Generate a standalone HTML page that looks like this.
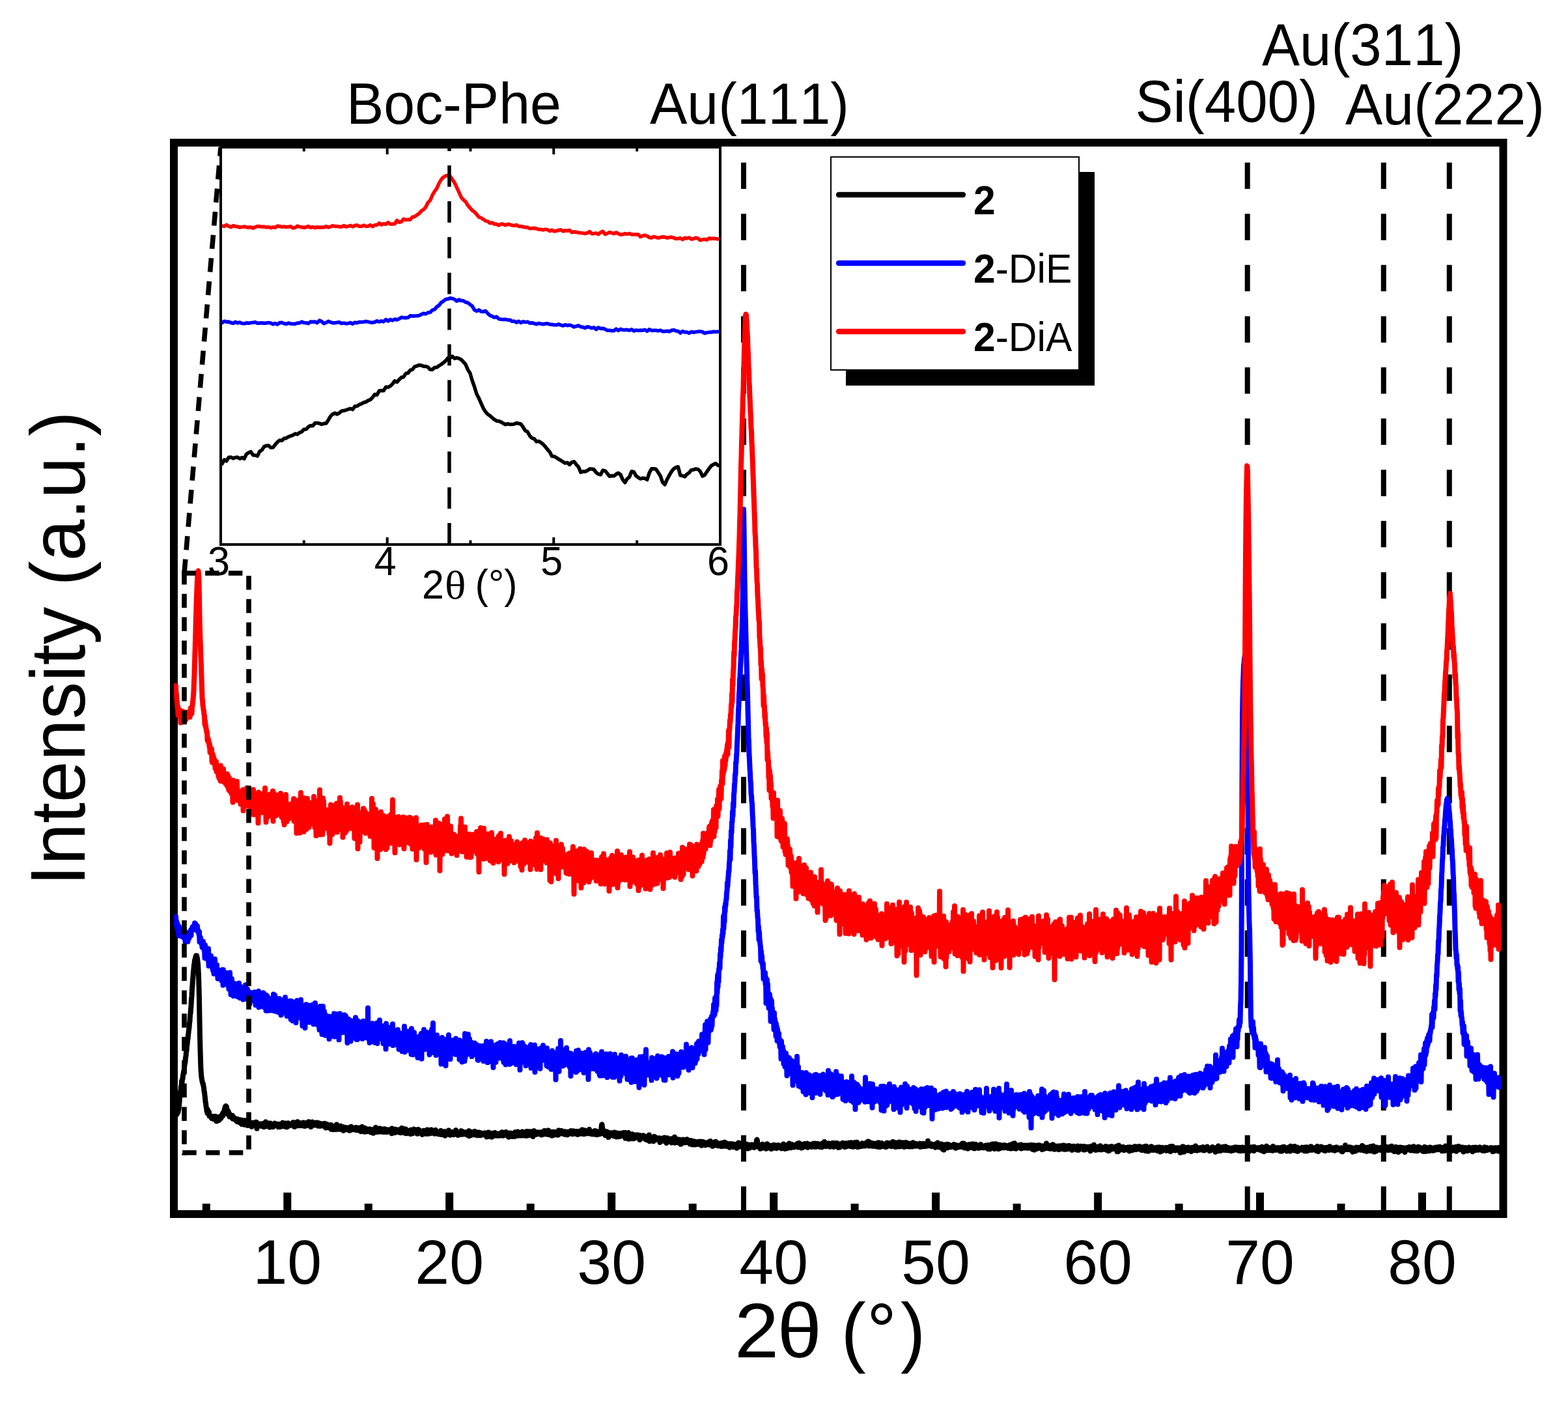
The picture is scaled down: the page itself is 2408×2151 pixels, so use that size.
<!DOCTYPE html>
<html><head><meta charset="utf-8"><style>
html,body{margin:0;padding:0;background:#fff;}
svg{display:block;}
</style></head><body>
<svg width="2408" height="2151" viewBox="0 0 2408 2151">
<rect width="2408" height="2151" fill="#fff"/>
<rect x="267" y="219" width="2041.5" height="1645" fill="none" stroke="#000" stroke-width="12"/>
<line x1="441.3" y1="1858" x2="441.3" y2="1831" stroke="#000" stroke-width="12"/>
<line x1="690.2" y1="1858" x2="690.2" y2="1831" stroke="#000" stroke-width="12"/>
<line x1="939.2" y1="1858" x2="939.2" y2="1831" stroke="#000" stroke-width="12"/>
<line x1="1188.2" y1="1858" x2="1188.2" y2="1831" stroke="#000" stroke-width="12"/>
<line x1="1437.1" y1="1858" x2="1437.1" y2="1831" stroke="#000" stroke-width="12"/>
<line x1="1686.1" y1="1858" x2="1686.1" y2="1831" stroke="#000" stroke-width="12"/>
<line x1="1935.0" y1="1858" x2="1935.0" y2="1831" stroke="#000" stroke-width="12"/>
<line x1="2184.0" y1="1858" x2="2184.0" y2="1831" stroke="#000" stroke-width="12"/>
<line x1="316.8" y1="1858" x2="316.8" y2="1848" stroke="#000" stroke-width="12"/>
<line x1="565.8" y1="1858" x2="565.8" y2="1848" stroke="#000" stroke-width="12"/>
<line x1="814.7" y1="1858" x2="814.7" y2="1848" stroke="#000" stroke-width="12"/>
<line x1="1063.7" y1="1858" x2="1063.7" y2="1848" stroke="#000" stroke-width="12"/>
<line x1="1312.6" y1="1858" x2="1312.6" y2="1848" stroke="#000" stroke-width="12"/>
<line x1="1561.6" y1="1858" x2="1561.6" y2="1848" stroke="#000" stroke-width="12"/>
<line x1="1810.6" y1="1858" x2="1810.6" y2="1848" stroke="#000" stroke-width="12"/>
<line x1="2059.5" y1="1858" x2="2059.5" y2="1848" stroke="#000" stroke-width="12"/>
<line x1="1142" y1="249.6" x2="1142" y2="1858" stroke="#000" stroke-width="8" stroke-dasharray="40.5 38.1"/>
<line x1="1915.7" y1="249.6" x2="1915.7" y2="1858" stroke="#000" stroke-width="8" stroke-dasharray="40.5 38.1"/>
<line x1="2124.8" y1="249.6" x2="2124.8" y2="1858" stroke="#000" stroke-width="8" stroke-dasharray="40.5 38.1"/>
<line x1="2225.8" y1="249.6" x2="2225.8" y2="1858" stroke="#000" stroke-width="8" stroke-dasharray="40.5 38.1"/>
<defs><clipPath id="pc"><rect x="267" y="219" width="2041.5" height="1645"/></clipPath></defs>
<g clip-path="url(#pc)"><polyline fill="none" stroke="#000" stroke-width="8" stroke-linejoin="round" stroke-linecap="round" points="269.5,1711.9 270.0,1711.2 270.5,1711.9 271.0,1709.3 271.5,1711.1 272.0,1707.8 272.5,1708.9 273.0,1705.5 273.5,1707.9 274.0,1704.1 274.5,1702.9 275.0,1697.1 275.5,1692.9 276.0,1685.7 276.5,1682.0 277.0,1675.7 277.5,1674.9 278.0,1668.1 278.5,1669.1 279.0,1660.3 279.5,1663.1 280.0,1656.6 280.5,1656.5 281.0,1651.0 281.5,1649.0 282.0,1645.4 282.5,1647.2 283.0,1638.3 283.5,1635.9 284.0,1631.9 284.5,1631.0 285.0,1623.5 285.5,1622.1 286.0,1614.8 286.5,1613.8 287.0,1606.3 287.5,1603.4 288.0,1597.4 288.5,1595.4 289.0,1589.7 289.5,1585.6 290.0,1580.7 290.5,1577.9 291.0,1571.0 291.5,1568.1 292.0,1558.6 292.5,1556.5 293.0,1549.4 293.5,1544.3 294.0,1534.0 294.5,1529.3 295.0,1519.1 295.5,1512.5 296.0,1504.6 296.5,1499.0 297.0,1492.5 297.5,1487.4 298.0,1481.8 298.5,1478.8 299.0,1474.7 299.5,1472.9 300.0,1470.5 300.5,1469.0 301.0,1467.3 301.5,1467.3 302.0,1467.2 302.5,1469.2 303.0,1471.3 303.5,1476.1 304.0,1479.6 304.5,1487.7 305.0,1498.1 305.5,1514.9 306.0,1534.0 306.5,1566.8 307.0,1591.5 307.5,1611.8 308.0,1628.3 308.5,1642.3 309.0,1648.3 309.5,1654.7 310.0,1657.0 310.5,1660.4 311.0,1661.8 311.5,1664.1 312.0,1664.1 312.5,1667.8 313.0,1669.7 313.5,1675.6 314.0,1676.7 314.5,1682.3 315.0,1685.7 315.5,1692.0 316.0,1693.8 316.5,1699.2 317.0,1700.9 317.5,1705.8 318.0,1704.3 318.5,1709.2 319.0,1703.7 319.5,1709.0 320.0,1707.9 320.5,1710.7 321.0,1707.2 321.5,1713.5 322.0,1711.6 322.5,1713.7 323.0,1712.9 323.5,1714.6 324.0,1714.3 324.5,1716.2 325.0,1714.3 325.5,1717.3 326.0,1715.5 326.5,1716.0 327.0,1714.2 327.5,1716.8 328.0,1715.0 328.5,1718.5 329.0,1716.5 329.5,1717.2 330.0,1716.1 330.5,1717.6 331.0,1713.9 331.5,1719.6 332.0,1717.0 332.5,1721.6 333.0,1716.3 333.5,1721.1 334.0,1716.6 334.5,1719.5 335.0,1716.6 335.5,1718.2 336.0,1715.1 336.5,1719.9 337.0,1714.8 337.5,1717.2 338.0,1716.1 338.5,1716.4 339.0,1713.9 339.5,1717.0 340.0,1713.4 340.5,1713.8 341.0,1711.6 341.5,1713.5 342.0,1709.3 342.5,1713.1 343.0,1709.4 343.5,1709.7 344.0,1706.0 344.5,1705.2 345.0,1701.4 345.5,1701.3 346.0,1699.1 346.5,1699.2 347.0,1698.2 347.5,1702.1 348.0,1699.5 348.5,1705.5 349.0,1703.1 349.5,1707.9 350.0,1706.9 350.5,1711.2 351.0,1706.8 351.5,1710.4 352.0,1709.5 352.5,1714.4 353.0,1710.4 353.5,1712.3 354.0,1712.5 354.5,1714.5 355.0,1712.7 355.5,1714.9 356.0,1714.0 356.5,1716.6 357.0,1712.8 357.5,1717.7 358.0,1714.7 358.5,1716.5 359.0,1716.2 359.5,1717.4 360.0,1716.0 360.5,1718.4 361.0,1717.0 361.5,1718.2 362.0,1718.2 362.5,1720.6 363.0,1717.6 363.5,1719.8 364.0,1718.4 364.5,1722.2 365.0,1718.3 365.5,1722.0 366.0,1720.3 366.5,1721.8 367.0,1719.6 367.5,1722.8 368.0,1719.9 368.5,1722.6 369.0,1719.2 369.5,1724.4 370.0,1720.8 370.5,1723.4 371.0,1721.0 371.5,1726.2 372.0,1720.3 372.5,1725.1 373.0,1720.2 373.5,1724.8 374.0,1721.7 374.5,1723.7 375.0,1722.3 375.5,1726.9 376.0,1720.3 376.5,1724.7 377.0,1724.2 377.5,1724.9 378.0,1724.5 378.5,1726.3 379.0,1722.1 379.5,1725.2 380.0,1723.3 380.5,1728.1 381.0,1724.4 381.5,1725.5 382.0,1724.8 382.5,1727.4 383.0,1724.5 383.5,1727.6 384.0,1724.3 384.5,1726.3 385.0,1724.6 385.5,1726.8 386.0,1725.6 386.5,1729.9 387.0,1723.8 387.5,1728.0 388.0,1726.3 388.5,1726.5 389.0,1723.9 389.5,1727.4 390.0,1725.3 390.5,1726.8 391.0,1726.5 391.5,1727.2 392.0,1724.6 392.5,1726.8 393.0,1722.8 393.5,1728.0 394.0,1723.3 394.5,1732.7 395.0,1725.9 395.5,1729.3 396.0,1726.8 396.5,1729.0 397.0,1725.2 397.5,1729.0 398.0,1726.7 398.5,1727.1 399.0,1726.9 399.5,1727.1 400.0,1725.6 400.5,1728.0 401.0,1726.7 401.5,1729.0 402.0,1726.2 402.5,1728.3 403.0,1725.2 403.5,1729.4 404.0,1726.9 404.5,1727.2 405.0,1724.8 405.5,1730.3 406.0,1724.6 406.5,1728.1 407.0,1725.9 407.5,1727.9 408.0,1722.6 408.5,1727.7 409.0,1727.2 409.5,1727.5 410.0,1725.4 410.5,1727.8 411.0,1727.0 411.5,1729.5 412.0,1726.8 412.5,1727.4 413.0,1724.6 413.5,1728.4 414.0,1726.7 414.5,1730.7 415.0,1724.6 415.5,1729.1 416.0,1725.8 416.5,1728.6 417.0,1727.2 417.5,1727.8 418.0,1727.0 418.5,1727.8 419.0,1727.4 419.5,1730.2 420.0,1726.5 420.5,1727.6 421.0,1726.4 421.5,1728.6 422.0,1724.6 422.5,1728.4 423.0,1727.4 423.5,1728.1 424.0,1725.5 424.5,1727.6 425.0,1725.9 425.5,1728.2 426.0,1727.1 426.5,1727.9 427.0,1727.3 427.5,1730.4 428.0,1727.1 428.5,1729.0 429.0,1725.9 429.5,1728.9 430.0,1726.4 430.5,1730.2 431.0,1726.9 431.5,1728.5 432.0,1727.1 432.5,1727.4 433.0,1725.6 433.5,1728.2 434.0,1723.8 434.5,1727.8 435.0,1727.0 435.5,1729.2 436.0,1726.7 436.5,1729.5 437.0,1725.3 437.5,1729.6 438.0,1725.6 438.5,1729.2 439.0,1724.5 439.5,1727.6 440.0,1726.2 440.5,1730.6 441.0,1726.8 441.5,1728.2 442.0,1724.6 442.5,1727.1 443.0,1724.4 443.5,1728.7 444.0,1725.3 444.5,1728.5 445.0,1726.0 445.5,1727.4 446.0,1726.5 446.5,1727.2 447.0,1726.3 447.5,1727.3 448.0,1726.7 448.5,1727.1 449.0,1726.6 449.5,1727.6 450.0,1723.3 450.5,1727.7 451.0,1726.5 451.5,1729.6 452.0,1725.9 452.5,1730.1 453.0,1724.0 453.5,1728.1 454.0,1725.2 454.5,1726.7 455.0,1723.4 455.5,1727.1 456.0,1725.2 456.5,1727.5 457.0,1722.3 457.5,1726.8 458.0,1724.9 458.5,1728.4 459.0,1726.2 459.5,1726.6 460.0,1724.2 460.5,1726.5 461.0,1724.2 461.5,1728.2 462.0,1724.3 462.5,1728.1 463.0,1725.3 463.5,1727.1 464.0,1725.9 464.5,1726.8 465.0,1725.5 465.5,1728.4 466.0,1723.4 466.5,1727.5 467.0,1725.7 467.5,1726.4 468.0,1724.2 468.5,1729.1 469.0,1724.5 469.5,1726.2 470.0,1725.2 470.5,1726.6 471.0,1724.0 471.5,1726.2 472.0,1723.6 472.5,1727.5 473.0,1724.3 473.5,1726.6 474.0,1722.3 474.5,1728.2 475.0,1724.7 475.5,1728.1 476.0,1725.0 476.5,1726.2 477.0,1723.7 477.5,1730.2 478.0,1725.3 478.5,1728.5 479.0,1724.5 479.5,1725.9 480.0,1722.6 480.5,1726.3 481.0,1723.8 481.5,1727.9 482.0,1723.7 482.5,1726.2 483.0,1723.7 483.5,1726.5 484.0,1724.8 484.5,1725.7 485.0,1724.7 485.5,1727.1 486.0,1725.1 486.5,1727.6 487.0,1723.4 487.5,1725.9 488.0,1724.3 488.5,1728.7 489.0,1726.0 489.5,1727.2 490.0,1724.3 490.5,1727.7 491.0,1725.3 491.5,1729.0 492.0,1725.0 492.5,1727.2 493.0,1726.2 493.5,1728.1 494.0,1725.8 494.5,1727.2 495.0,1726.0 495.5,1727.2 496.0,1725.3 496.5,1727.6 497.0,1727.4 497.5,1729.3 498.0,1726.1 498.5,1727.9 499.0,1724.9 499.5,1729.3 500.0,1726.3 500.5,1731.6 501.0,1728.4 501.5,1730.6 502.0,1726.0 502.5,1730.8 503.0,1727.6 503.5,1731.1 504.0,1728.6 504.5,1730.8 505.0,1728.2 505.5,1730.7 506.0,1728.4 506.5,1730.6 507.0,1728.2 507.5,1732.3 508.0,1726.9 508.5,1733.7 509.0,1729.8 509.5,1731.0 510.0,1730.6 510.5,1731.0 511.0,1730.7 511.5,1734.3 512.0,1729.1 512.5,1733.9 513.0,1729.3 513.5,1733.6 514.0,1730.0 514.5,1732.9 515.0,1729.7 515.5,1734.0 516.0,1730.9 516.5,1734.1 517.0,1726.6 517.5,1732.7 518.0,1729.8 518.5,1733.7 519.0,1729.9 519.5,1732.4 520.0,1729.2 520.5,1733.8 521.0,1729.6 521.5,1733.6 522.0,1731.4 522.5,1733.7 523.0,1728.8 523.5,1733.0 524.0,1732.3 524.5,1732.5 525.0,1732.2 525.5,1734.5 526.0,1732.4 526.5,1732.6 527.0,1730.2 527.5,1736.0 528.0,1732.4 528.5,1734.0 529.0,1732.6 529.5,1733.8 530.0,1731.4 530.5,1732.9 531.0,1731.0 531.5,1734.0 532.0,1732.7 532.5,1733.4 533.0,1732.7 533.5,1734.3 534.0,1731.4 534.5,1733.5 535.0,1732.1 535.5,1733.6 536.0,1733.2 536.5,1735.7 537.0,1733.1 537.5,1735.7 538.0,1732.2 538.5,1733.9 539.0,1729.7 539.5,1733.6 540.0,1733.2 540.5,1733.8 541.0,1732.8 541.5,1734.2 542.0,1731.8 542.5,1734.1 543.0,1732.7 543.5,1733.9 544.0,1731.6 544.5,1734.2 545.0,1733.5 545.5,1734.1 546.0,1733.1 546.5,1734.9 547.0,1730.9 547.5,1734.8 548.0,1733.6 548.5,1734.6 549.0,1733.4 549.5,1735.3 550.0,1733.7 550.5,1735.4 551.0,1733.5 551.5,1734.7 552.0,1731.6 552.5,1735.3 553.0,1732.3 553.5,1736.3 554.0,1734.1 554.5,1737.3 555.0,1732.9 555.5,1734.9 556.0,1730.1 556.5,1735.3 557.0,1732.0 557.5,1737.1 558.0,1733.6 558.5,1737.1 559.0,1734.2 559.5,1735.4 560.0,1731.8 560.5,1737.8 561.0,1734.8 561.5,1735.5 562.0,1732.8 562.5,1736.4 563.0,1734.4 563.5,1735.9 564.0,1735.0 564.5,1737.1 565.0,1733.9 565.5,1735.4 566.0,1734.0 566.5,1736.4 567.0,1733.5 567.5,1736.2 568.0,1734.9 568.5,1736.2 569.0,1733.7 569.5,1738.5 570.0,1734.6 570.5,1735.7 571.0,1735.1 571.5,1738.7 572.0,1735.1 572.5,1736.8 573.0,1734.2 573.5,1739.8 574.0,1735.2 574.5,1737.4 575.0,1735.2 575.5,1737.0 576.0,1735.9 576.5,1737.3 577.0,1731.0 577.5,1736.2 578.0,1735.0 578.5,1737.2 579.0,1732.9 579.5,1738.0 580.0,1735.4 580.5,1736.6 581.0,1734.6 581.5,1737.0 582.0,1736.0 582.5,1737.7 583.0,1732.5 583.5,1736.3 584.0,1736.0 584.5,1736.4 585.0,1733.7 585.5,1736.1 586.0,1733.4 586.5,1737.8 587.0,1735.8 587.5,1736.5 588.0,1734.7 588.5,1738.0 589.0,1733.4 589.5,1737.8 590.0,1735.5 590.5,1737.3 591.0,1733.4 591.5,1738.0 592.0,1735.3 592.5,1737.1 593.0,1735.3 593.5,1738.0 594.0,1735.7 594.5,1738.2 595.0,1734.5 595.5,1737.7 596.0,1735.8 596.5,1737.5 597.0,1735.0 597.5,1736.7 598.0,1734.5 598.5,1736.3 599.0,1735.6 599.5,1737.9 600.0,1735.1 600.5,1737.0 601.0,1734.1 601.5,1740.3 602.0,1732.6 602.5,1736.4 603.0,1735.9 603.5,1739.0 604.0,1736.0 604.5,1738.0 605.0,1736.1 605.5,1737.1 606.0,1734.8 606.5,1739.2 607.0,1733.7 607.5,1737.5 608.0,1734.9 608.5,1736.6 609.0,1735.9 609.5,1737.4 610.0,1735.7 610.5,1737.2 611.0,1734.7 611.5,1737.0 612.0,1734.5 612.5,1738.4 613.0,1736.3 613.5,1737.7 614.0,1735.7 614.5,1736.8 615.0,1735.1 615.5,1739.3 616.0,1734.5 616.5,1737.1 617.0,1731.9 617.5,1738.2 618.0,1736.3 618.5,1737.7 619.0,1732.8 619.5,1736.9 620.0,1735.8 620.5,1738.7 621.0,1735.6 621.5,1737.8 622.0,1735.7 622.5,1740.0 623.0,1733.5 623.5,1737.6 624.0,1735.4 624.5,1740.3 625.0,1735.5 625.5,1737.0 626.0,1735.9 626.5,1738.0 627.0,1736.1 627.5,1739.8 628.0,1736.1 628.5,1738.2 629.0,1736.3 629.5,1738.0 630.0,1736.3 630.5,1741.1 631.0,1734.8 631.5,1737.4 632.0,1735.0 632.5,1740.6 633.0,1737.0 633.5,1740.3 634.0,1735.5 634.5,1739.3 635.0,1736.2 635.5,1737.3 636.0,1733.6 636.5,1737.8 637.0,1734.5 637.5,1737.8 638.0,1737.1 638.5,1737.9 639.0,1737.2 639.5,1738.3 640.0,1736.3 640.5,1740.4 641.0,1737.4 641.5,1740.8 642.0,1733.9 642.5,1739.9 643.0,1736.3 643.5,1738.8 644.0,1735.0 644.5,1737.7 645.0,1737.5 645.5,1738.2 646.0,1737.5 646.5,1738.5 647.0,1737.6 647.5,1739.7 648.0,1737.1 648.5,1741.9 649.0,1737.7 649.5,1738.2 650.0,1736.9 650.5,1739.1 651.0,1735.9 651.5,1738.3 652.0,1736.3 652.5,1738.4 653.0,1737.7 653.5,1740.8 654.0,1736.8 654.5,1738.2 655.0,1737.1 655.5,1740.7 656.0,1734.6 656.5,1739.3 657.0,1737.2 657.5,1739.3 658.0,1737.1 658.5,1740.7 659.0,1735.4 659.5,1739.6 660.0,1737.7 660.5,1739.5 661.0,1737.3 661.5,1740.0 662.0,1734.6 662.5,1739.0 663.0,1735.7 663.5,1739.6 664.0,1737.7 664.5,1739.0 665.0,1735.6 665.5,1738.8 666.0,1735.7 666.5,1739.9 667.0,1736.9 667.5,1740.7 668.0,1737.8 668.5,1739.8 669.0,1735.1 669.5,1739.9 670.0,1738.5 670.5,1739.3 671.0,1738.5 671.5,1739.9 672.0,1738.7 672.5,1741.0 673.0,1738.0 673.5,1739.5 674.0,1738.1 674.5,1741.5 675.0,1738.6 675.5,1739.3 676.0,1738.5 676.5,1741.4 677.0,1736.0 677.5,1739.1 678.0,1736.8 678.5,1742.1 679.0,1738.5 679.5,1739.2 680.0,1737.8 680.5,1739.2 681.0,1737.9 681.5,1740.1 682.0,1737.8 682.5,1739.2 683.0,1737.4 683.5,1743.8 684.0,1737.4 684.5,1740.1 685.0,1737.7 685.5,1740.7 686.0,1737.2 686.5,1740.2 687.0,1739.3 687.5,1741.1 688.0,1737.6 688.5,1740.2 689.0,1735.6 689.5,1742.0 690.0,1738.7 690.5,1739.7 691.0,1739.1 691.5,1742.7 692.0,1738.7 692.5,1740.9 693.0,1738.5 693.5,1739.7 694.0,1738.0 694.5,1740.7 695.0,1738.6 695.5,1741.7 696.0,1738.2 696.5,1742.3 697.0,1739.3 697.5,1741.8 698.0,1738.8 698.5,1741.4 699.0,1738.7 699.5,1740.0 700.0,1735.3 700.5,1741.2 701.0,1738.9 701.5,1740.0 702.0,1739.2 702.5,1742.0 703.0,1739.0 703.5,1743.0 704.0,1739.4 704.5,1740.0 705.0,1739.7 705.5,1742.3 706.0,1739.4 706.5,1741.5 707.0,1738.0 707.5,1741.6 708.0,1736.3 708.5,1741.5 709.0,1739.6 709.5,1740.4 710.0,1736.9 710.5,1741.8 711.0,1740.0 711.5,1741.0 712.0,1738.9 712.5,1741.0 713.0,1739.7 713.5,1740.8 714.0,1740.1 714.5,1740.5 715.0,1738.3 715.5,1740.4 716.0,1738.8 716.5,1742.1 717.0,1739.9 717.5,1741.6 718.0,1738.5 718.5,1740.8 719.0,1738.6 719.5,1742.5 720.0,1736.3 720.5,1744.2 721.0,1740.1 721.5,1741.9 722.0,1740.4 722.5,1740.8 723.0,1737.8 723.5,1743.0 724.0,1738.7 724.5,1740.8 725.0,1738.1 725.5,1741.0 726.0,1739.5 726.5,1741.2 727.0,1739.4 727.5,1740.8 728.0,1739.9 728.5,1741.8 729.0,1737.0 729.5,1742.5 730.0,1739.6 730.5,1741.2 731.0,1740.8 731.5,1742.8 732.0,1740.1 732.5,1742.2 733.0,1740.6 733.5,1743.1 734.0,1738.5 734.5,1743.2 735.0,1739.9 735.5,1743.0 736.0,1738.8 736.5,1741.3 737.0,1738.8 737.5,1741.8 738.0,1739.5 738.5,1743.3 739.0,1740.4 739.5,1741.9 740.0,1739.9 740.5,1742.4 741.0,1740.6 741.5,1741.3 742.0,1740.3 742.5,1742.2 743.0,1741.2 743.5,1741.4 744.0,1740.3 744.5,1742.1 745.0,1739.4 745.5,1741.8 746.0,1739.8 746.5,1743.6 747.0,1740.4 747.5,1745.5 748.0,1740.0 748.5,1742.9 749.0,1740.9 749.5,1744.9 750.0,1738.5 750.5,1745.1 751.0,1739.8 751.5,1742.8 752.0,1740.2 752.5,1742.9 753.0,1741.5 753.5,1742.4 754.0,1740.5 754.5,1741.8 755.0,1739.8 755.5,1745.7 756.0,1740.5 756.5,1743.6 757.0,1740.0 757.5,1742.1 758.0,1740.1 758.5,1742.4 759.0,1740.1 759.5,1743.4 760.0,1739.0 760.5,1741.8 761.0,1740.9 761.5,1743.6 762.0,1741.6 762.5,1743.7 763.0,1741.8 763.5,1742.0 764.0,1740.8 764.5,1743.8 765.0,1741.3 765.5,1742.3 766.0,1741.6 766.5,1742.0 767.0,1740.3 767.5,1743.8 768.0,1741.2 768.5,1742.8 769.0,1740.4 769.5,1742.6 770.0,1741.2 770.5,1742.7 771.0,1738.3 771.5,1742.6 772.0,1738.8 772.5,1743.7 773.0,1740.8 773.5,1742.7 774.0,1741.2 774.5,1742.1 775.0,1741.9 775.5,1742.5 776.0,1738.7 776.5,1742.4 777.0,1738.0 777.5,1742.7 778.0,1740.7 778.5,1743.3 779.0,1741.6 779.5,1742.5 780.0,1739.4 780.5,1745.1 781.0,1740.1 781.5,1745.7 782.0,1740.3 782.5,1744.9 783.0,1740.1 783.5,1743.2 784.0,1739.5 784.5,1742.5 785.0,1741.4 785.5,1742.1 786.0,1740.9 786.5,1745.1 787.0,1741.6 787.5,1742.2 788.0,1740.2 788.5,1743.0 789.0,1741.5 789.5,1743.4 790.0,1741.8 790.5,1745.0 791.0,1738.3 791.5,1742.4 792.0,1740.3 792.5,1742.5 793.0,1740.4 793.5,1742.3 794.0,1739.3 794.5,1742.0 795.0,1737.4 795.5,1743.8 796.0,1739.7 796.5,1743.3 797.0,1741.0 797.5,1743.5 798.0,1740.2 798.5,1742.9 799.0,1740.0 799.5,1743.2 800.0,1740.9 800.5,1743.6 801.0,1738.8 801.5,1742.8 802.0,1737.5 802.5,1742.9 803.0,1740.4 803.5,1742.3 804.0,1738.1 804.5,1743.5 805.0,1739.3 805.5,1742.9 806.0,1739.3 806.5,1742.7 807.0,1739.6 807.5,1741.5 808.0,1738.4 808.5,1743.9 809.0,1736.9 809.5,1743.2 810.0,1740.7 810.5,1741.6 811.0,1740.8 811.5,1741.6 812.0,1740.7 812.5,1743.1 813.0,1737.2 813.5,1741.0 814.0,1739.7 814.5,1741.2 815.0,1740.6 815.5,1742.6 816.0,1739.8 816.5,1742.3 817.0,1740.2 817.5,1742.1 818.0,1737.1 818.5,1744.9 819.0,1738.1 819.5,1741.3 820.0,1736.2 820.5,1742.1 821.0,1740.3 821.5,1741.0 822.0,1739.6 822.5,1741.0 823.0,1739.6 823.5,1741.9 824.0,1739.8 824.5,1741.3 825.0,1738.3 825.5,1740.5 826.0,1738.8 826.5,1740.7 827.0,1738.5 827.5,1741.0 828.0,1739.4 828.5,1741.0 829.0,1740.2 829.5,1740.5 830.0,1739.7 830.5,1741.6 831.0,1738.3 831.5,1742.6 832.0,1740.1 832.5,1741.5 833.0,1739.2 833.5,1741.3 834.0,1739.8 834.5,1741.3 835.0,1738.0 835.5,1741.4 836.0,1735.9 836.5,1741.3 837.0,1736.3 837.5,1740.0 838.0,1738.0 838.5,1741.1 839.0,1737.5 839.5,1741.2 840.0,1736.6 840.5,1740.4 841.0,1739.8 841.5,1741.7 842.0,1735.4 842.5,1742.1 843.0,1739.5 843.5,1740.4 844.0,1738.6 844.5,1740.8 845.0,1737.8 845.5,1739.8 846.0,1738.0 846.5,1739.8 847.0,1739.5 847.5,1743.8 848.0,1738.1 848.5,1739.8 849.0,1739.3 849.5,1740.4 850.0,1737.7 850.5,1740.4 851.0,1738.1 851.5,1742.5 852.0,1737.9 852.5,1740.5 853.0,1739.4 853.5,1741.3 854.0,1738.8 854.5,1739.5 855.0,1738.6 855.5,1740.5 856.0,1739.0 856.5,1742.7 857.0,1737.4 857.5,1742.4 858.0,1735.5 858.5,1740.0 859.0,1739.0 859.5,1740.1 860.0,1738.0 860.5,1739.5 861.0,1739.4 861.5,1739.5 862.0,1736.0 862.5,1739.6 863.0,1737.8 863.5,1740.4 864.0,1739.0 864.5,1740.5 865.0,1737.7 865.5,1740.2 866.0,1737.7 866.5,1741.4 867.0,1737.3 867.5,1741.8 868.0,1739.1 868.5,1739.6 869.0,1737.8 869.5,1741.8 870.0,1738.9 870.5,1740.2 871.0,1738.6 871.5,1742.4 872.0,1737.7 872.5,1739.3 873.0,1737.7 873.5,1741.0 874.0,1739.1 874.5,1739.6 875.0,1737.7 875.5,1740.0 876.0,1738.8 876.5,1740.3 877.0,1736.1 877.5,1739.3 878.0,1736.5 878.5,1740.7 879.0,1736.6 879.5,1741.3 880.0,1736.8 880.5,1739.6 881.0,1736.4 881.5,1740.3 882.0,1736.9 882.5,1739.8 883.0,1737.9 883.5,1739.8 884.0,1738.6 884.5,1740.3 885.0,1737.0 885.5,1741.3 886.0,1737.0 886.5,1741.6 887.0,1737.9 887.5,1741.9 888.0,1738.9 888.5,1739.7 889.0,1738.4 889.5,1740.7 890.0,1738.4 890.5,1740.8 891.0,1736.5 891.5,1740.3 892.0,1738.7 892.5,1740.7 893.0,1737.2 893.5,1739.7 894.0,1734.6 894.5,1740.3 895.0,1738.2 895.5,1740.8 896.0,1738.7 896.5,1741.2 897.0,1738.2 897.5,1741.1 898.0,1735.4 898.5,1739.9 899.0,1736.8 899.5,1739.5 900.0,1738.3 900.5,1740.3 901.0,1737.6 901.5,1739.9 902.0,1737.4 902.5,1739.3 903.0,1737.6 903.5,1740.2 904.0,1738.4 904.5,1739.2 905.0,1733.9 905.5,1740.3 906.0,1736.5 906.5,1739.1 907.0,1738.8 907.5,1740.3 908.0,1737.4 908.5,1741.3 909.0,1738.4 909.5,1740.1 910.0,1738.0 910.5,1739.9 911.0,1738.0 911.5,1741.5 912.0,1738.2 912.5,1740.9 913.0,1736.3 913.5,1739.3 914.0,1736.3 914.5,1741.2 915.0,1736.5 915.5,1741.9 916.0,1737.6 916.5,1741.3 917.0,1738.1 917.5,1742.2 918.0,1737.4 918.5,1739.4 919.0,1738.9 919.5,1739.4 920.0,1739.0 920.5,1740.1 921.0,1739.2 921.5,1741.2 922.0,1737.7 922.5,1739.5 923.0,1736.3 923.5,1731.6 924.0,1726.8 924.5,1726.5 925.0,1730.7 925.5,1737.3 926.0,1738.8 926.5,1740.2 927.0,1739.1 927.5,1740.2 928.0,1736.1 928.5,1741.4 929.0,1739.9 929.5,1743.1 930.0,1740.0 930.5,1741.0 931.0,1738.1 931.5,1743.3 932.0,1737.6 932.5,1741.0 933.0,1740.6 933.5,1744.0 934.0,1739.5 934.5,1746.1 935.0,1740.0 935.5,1743.6 936.0,1740.4 936.5,1743.2 937.0,1739.1 937.5,1743.7 938.0,1741.2 938.5,1742.1 939.0,1740.0 939.5,1742.4 940.0,1741.0 940.5,1743.1 941.0,1739.4 941.5,1741.9 942.0,1740.5 942.5,1744.2 943.0,1739.6 943.5,1742.8 944.0,1738.6 944.5,1744.4 945.0,1739.0 945.5,1742.3 946.0,1741.3 946.5,1745.6 947.0,1739.4 947.5,1743.3 948.0,1740.5 948.5,1742.5 949.0,1741.6 949.5,1745.2 950.0,1741.6 950.5,1744.3 951.0,1739.9 951.5,1742.9 952.0,1741.8 952.5,1744.8 953.0,1740.6 953.5,1743.4 954.0,1741.4 954.5,1743.6 955.0,1741.4 955.5,1743.6 956.0,1739.4 956.5,1743.2 957.0,1742.0 957.5,1743.8 958.0,1739.0 958.5,1743.4 959.0,1741.6 959.5,1745.9 960.0,1739.1 960.5,1747.8 961.0,1741.2 961.5,1745.0 962.0,1741.1 962.5,1745.1 963.0,1743.1 963.5,1745.6 964.0,1742.4 964.5,1744.9 965.0,1739.1 965.5,1748.8 966.0,1742.5 966.5,1747.1 967.0,1742.3 967.5,1746.6 968.0,1741.2 968.5,1746.9 969.0,1744.1 969.5,1746.4 970.0,1743.9 970.5,1748.3 971.0,1741.3 971.5,1744.6 972.0,1742.7 972.5,1744.9 973.0,1744.4 973.5,1748.2 974.0,1742.4 974.5,1744.9 975.0,1742.7 975.5,1746.3 976.0,1744.4 976.5,1746.7 977.0,1742.9 977.5,1745.7 978.0,1742.9 978.5,1745.5 979.0,1742.4 979.5,1746.8 980.0,1745.1 980.5,1747.2 981.0,1743.5 981.5,1747.9 982.0,1743.1 982.5,1750.0 983.0,1745.0 983.5,1747.2 984.0,1744.7 984.5,1746.6 985.0,1744.7 985.5,1746.7 986.0,1745.7 986.5,1747.4 987.0,1745.3 987.5,1747.1 988.0,1743.4 988.5,1747.3 989.0,1744.0 989.5,1746.9 990.0,1745.0 990.5,1746.9 991.0,1746.0 991.5,1749.4 992.0,1745.5 992.5,1748.7 993.0,1745.7 993.5,1750.2 994.0,1745.6 994.5,1747.8 995.0,1744.6 995.5,1750.1 996.0,1744.7 996.5,1748.6 997.0,1742.5 997.5,1752.3 998.0,1744.8 998.5,1749.5 999.0,1747.4 999.5,1748.1 1000.0,1747.6 1000.5,1750.5 1001.0,1746.7 1001.5,1748.8 1002.0,1747.6 1002.5,1750.2 1003.0,1748.0 1003.5,1752.4 1004.0,1746.9 1004.5,1748.7 1005.0,1744.9 1005.5,1750.6 1006.0,1746.0 1006.5,1750.2 1007.0,1747.6 1007.5,1748.7 1008.0,1746.7 1008.5,1749.3 1009.0,1747.8 1009.5,1749.7 1010.0,1747.5 1010.5,1750.0 1011.0,1747.9 1011.5,1750.6 1012.0,1748.5 1012.5,1749.2 1013.0,1747.3 1013.5,1753.9 1014.0,1747.7 1014.5,1749.3 1015.0,1749.0 1015.5,1750.9 1016.0,1747.8 1016.5,1751.3 1017.0,1748.8 1017.5,1750.3 1018.0,1748.2 1018.5,1750.3 1019.0,1749.3 1019.5,1751.9 1020.0,1746.8 1020.5,1750.7 1021.0,1746.6 1021.5,1751.3 1022.0,1747.3 1022.5,1750.4 1023.0,1748.8 1023.5,1755.0 1024.0,1747.9 1024.5,1752.3 1025.0,1747.2 1025.5,1751.0 1026.0,1748.9 1026.5,1752.7 1027.0,1749.2 1027.5,1751.2 1028.0,1748.9 1028.5,1751.8 1029.0,1749.4 1029.5,1750.9 1030.0,1750.4 1030.5,1751.6 1031.0,1748.2 1031.5,1754.5 1032.0,1748.7 1032.5,1752.2 1033.0,1750.3 1033.5,1751.1 1034.0,1750.0 1034.5,1751.8 1035.0,1748.0 1035.5,1752.5 1036.0,1745.8 1036.5,1754.7 1037.0,1749.5 1037.5,1752.0 1038.0,1751.2 1038.5,1754.0 1039.0,1749.3 1039.5,1751.8 1040.0,1748.9 1040.5,1752.0 1041.0,1750.9 1041.5,1751.9 1042.0,1750.9 1042.5,1754.6 1043.0,1750.1 1043.5,1753.5 1044.0,1749.6 1044.5,1753.2 1045.0,1751.8 1045.5,1756.8 1046.0,1752.1 1046.5,1754.1 1047.0,1751.4 1047.5,1755.1 1048.0,1750.2 1048.5,1754.3 1049.0,1749.7 1049.5,1752.6 1050.0,1749.6 1050.5,1753.1 1051.0,1750.9 1051.5,1752.7 1052.0,1750.3 1052.5,1754.4 1053.0,1752.7 1053.5,1752.8 1054.0,1752.6 1054.5,1753.9 1055.0,1749.3 1055.5,1752.9 1056.0,1750.9 1056.5,1753.9 1057.0,1751.7 1057.5,1754.3 1058.0,1752.9 1058.5,1754.4 1059.0,1753.2 1059.5,1756.4 1060.0,1750.9 1060.5,1754.8 1061.0,1752.5 1061.5,1754.1 1062.0,1751.2 1062.5,1754.7 1063.0,1753.5 1063.5,1757.5 1064.0,1752.4 1064.5,1754.3 1065.0,1752.4 1065.5,1754.5 1066.0,1752.2 1066.5,1754.0 1067.0,1753.6 1067.5,1757.6 1068.0,1753.7 1068.5,1754.5 1069.0,1753.2 1069.5,1757.1 1070.0,1753.5 1070.5,1754.3 1071.0,1754.0 1071.5,1756.4 1072.0,1753.1 1072.5,1756.6 1073.0,1754.0 1073.5,1756.8 1074.0,1753.2 1074.5,1755.5 1075.0,1752.6 1075.5,1755.3 1076.0,1754.1 1076.5,1755.1 1077.0,1752.8 1077.5,1758.8 1078.0,1753.3 1078.5,1756.7 1079.0,1752.9 1079.5,1756.5 1080.0,1753.4 1080.5,1755.6 1081.0,1753.4 1081.5,1755.3 1082.0,1754.4 1082.5,1756.5 1083.0,1755.0 1083.5,1758.3 1084.0,1754.7 1084.5,1756.5 1085.0,1755.3 1085.5,1757.1 1086.0,1755.0 1086.5,1757.1 1087.0,1754.1 1087.5,1756.0 1088.0,1753.6 1088.5,1756.6 1089.0,1755.4 1089.5,1757.7 1090.0,1754.3 1090.5,1756.8 1091.0,1752.0 1091.5,1756.7 1092.0,1755.0 1092.5,1757.1 1093.0,1755.8 1093.5,1757.3 1094.0,1755.8 1094.5,1759.9 1095.0,1755.9 1095.5,1758.9 1096.0,1755.8 1096.5,1757.5 1097.0,1753.8 1097.5,1756.7 1098.0,1756.4 1098.5,1757.0 1099.0,1752.7 1099.5,1758.2 1100.0,1756.0 1100.5,1757.5 1101.0,1756.3 1101.5,1757.2 1102.0,1756.1 1102.5,1759.2 1103.0,1755.3 1103.5,1757.5 1104.0,1756.8 1104.5,1757.7 1105.0,1756.1 1105.5,1758.6 1106.0,1757.1 1106.5,1759.3 1107.0,1755.3 1107.5,1760.0 1108.0,1755.8 1108.5,1758.2 1109.0,1756.0 1109.5,1760.1 1110.0,1754.4 1110.5,1759.8 1111.0,1756.8 1111.5,1758.2 1112.0,1756.7 1112.5,1757.8 1113.0,1753.8 1113.5,1758.6 1114.0,1755.2 1114.5,1759.0 1115.0,1757.1 1115.5,1759.9 1116.0,1755.4 1116.5,1759.7 1117.0,1757.9 1117.5,1759.1 1118.0,1757.0 1118.5,1759.8 1119.0,1756.7 1119.5,1759.8 1120.0,1757.3 1120.5,1761.8 1121.0,1756.0 1121.5,1759.1 1122.0,1756.8 1122.5,1758.9 1123.0,1756.4 1123.5,1758.9 1124.0,1756.5 1124.5,1758.6 1125.0,1756.2 1125.5,1760.7 1126.0,1758.3 1126.5,1761.1 1127.0,1758.2 1127.5,1758.7 1128.0,1756.9 1128.5,1759.1 1129.0,1757.2 1129.5,1761.0 1130.0,1757.5 1130.5,1759.3 1131.0,1758.2 1131.5,1762.7 1132.0,1758.5 1132.5,1759.9 1133.0,1757.4 1133.5,1759.0 1134.0,1754.5 1134.5,1760.0 1135.0,1757.7 1135.5,1760.4 1136.0,1755.6 1136.5,1760.2 1137.0,1758.5 1137.5,1760.4 1138.0,1757.3 1138.5,1760.1 1139.0,1755.0 1139.5,1760.5 1140.0,1757.8 1140.5,1759.6 1141.0,1757.3 1141.5,1761.3 1142.0,1756.0 1142.5,1760.4 1143.0,1756.1 1143.5,1761.3 1144.0,1757.2 1144.5,1760.7 1145.0,1757.2 1145.5,1760.8 1146.0,1759.0 1146.5,1761.8 1147.0,1756.8 1147.5,1761.1 1148.0,1758.1 1148.5,1763.5 1149.0,1759.2 1149.5,1760.5 1150.0,1758.0 1150.5,1762.7 1151.0,1758.5 1151.5,1761.6 1152.0,1758.8 1152.5,1761.9 1153.0,1758.6 1153.5,1760.9 1154.0,1757.6 1154.5,1759.7 1155.0,1757.5 1155.5,1760.2 1156.0,1758.1 1156.5,1760.0 1157.0,1759.3 1157.5,1761.5 1158.0,1758.3 1158.5,1761.9 1159.0,1758.9 1159.5,1760.6 1160.0,1759.0 1160.5,1760.3 1161.0,1757.5 1161.5,1754.4 1162.0,1750.4 1162.5,1749.8 1163.0,1751.3 1163.5,1756.1 1164.0,1758.4 1164.5,1759.8 1165.0,1758.0 1165.5,1761.4 1166.0,1757.9 1166.5,1760.3 1167.0,1759.1 1167.5,1763.8 1168.0,1758.5 1168.5,1762.0 1169.0,1758.0 1169.5,1761.1 1170.0,1759.8 1170.5,1762.7 1171.0,1756.7 1171.5,1761.6 1172.0,1759.6 1172.5,1760.4 1173.0,1757.6 1173.5,1761.0 1174.0,1758.3 1174.5,1761.5 1175.0,1758.2 1175.5,1761.6 1176.0,1759.6 1176.5,1763.7 1177.0,1759.7 1177.5,1760.5 1178.0,1756.2 1178.5,1760.9 1179.0,1758.8 1179.5,1761.6 1180.0,1758.2 1180.5,1762.4 1181.0,1758.2 1181.5,1761.4 1182.0,1759.2 1182.5,1760.7 1183.0,1760.3 1183.5,1762.1 1184.0,1759.4 1184.5,1764.1 1185.0,1759.6 1185.5,1761.1 1186.0,1759.9 1186.5,1760.9 1187.0,1758.2 1187.5,1761.5 1188.0,1760.1 1188.5,1761.6 1189.0,1757.9 1189.5,1762.5 1190.0,1759.8 1190.5,1762.1 1191.0,1760.3 1191.5,1762.3 1192.0,1758.5 1192.5,1763.2 1193.0,1759.9 1193.5,1762.3 1194.0,1758.5 1194.5,1760.9 1195.0,1758.3 1195.5,1760.4 1196.0,1758.2 1196.5,1761.9 1197.0,1759.0 1197.5,1761.2 1198.0,1759.6 1198.5,1760.7 1199.0,1759.9 1199.5,1762.0 1200.0,1759.3 1200.5,1763.4 1201.0,1760.0 1201.5,1762.0 1202.0,1760.0 1202.5,1760.6 1203.0,1756.5 1203.5,1760.7 1204.0,1757.8 1204.5,1761.4 1205.0,1759.5 1205.5,1763.9 1206.0,1759.7 1206.5,1761.7 1207.0,1758.2 1207.5,1760.6 1208.0,1758.7 1208.5,1763.2 1209.0,1758.7 1209.5,1761.0 1210.0,1759.3 1210.5,1761.7 1211.0,1759.8 1211.5,1760.3 1212.0,1755.6 1212.5,1760.8 1213.0,1758.7 1213.5,1760.5 1214.0,1757.3 1214.5,1762.3 1215.0,1759.1 1215.5,1761.4 1216.0,1757.0 1216.5,1760.5 1217.0,1758.0 1217.5,1759.9 1218.0,1759.3 1218.5,1759.6 1219.0,1759.4 1219.5,1761.4 1220.0,1759.1 1220.5,1759.6 1221.0,1758.8 1221.5,1759.9 1222.0,1757.6 1222.5,1760.1 1223.0,1759.1 1223.5,1760.2 1224.0,1758.9 1224.5,1760.2 1225.0,1755.5 1225.5,1761.4 1226.0,1758.2 1226.5,1759.1 1227.0,1755.0 1227.5,1759.5 1228.0,1758.7 1228.5,1759.4 1229.0,1758.3 1229.5,1761.4 1230.0,1758.8 1230.5,1762.5 1231.0,1757.2 1231.5,1760.0 1232.0,1756.9 1232.5,1761.9 1233.0,1758.0 1233.5,1758.7 1234.0,1756.9 1234.5,1760.8 1235.0,1756.5 1235.5,1759.1 1236.0,1756.0 1236.5,1758.7 1237.0,1758.3 1237.5,1759.1 1238.0,1757.2 1238.5,1759.1 1239.0,1757.0 1239.5,1759.3 1240.0,1755.6 1240.5,1761.8 1241.0,1758.1 1241.5,1759.0 1242.0,1757.4 1242.5,1759.9 1243.0,1757.9 1243.5,1760.1 1244.0,1756.9 1244.5,1758.3 1245.0,1757.9 1245.5,1758.8 1246.0,1757.7 1246.5,1760.9 1247.0,1757.0 1247.5,1758.6 1248.0,1757.8 1248.5,1759.8 1249.0,1755.9 1249.5,1760.0 1250.0,1756.6 1250.5,1760.8 1251.0,1755.5 1251.5,1759.3 1252.0,1755.9 1252.5,1759.1 1253.0,1757.1 1253.5,1760.8 1254.0,1757.9 1254.5,1760.3 1255.0,1755.8 1255.5,1759.6 1256.0,1756.7 1256.5,1758.1 1257.0,1756.8 1257.5,1759.4 1258.0,1757.3 1258.5,1758.0 1259.0,1756.5 1259.5,1761.1 1260.0,1756.8 1260.5,1759.9 1261.0,1757.9 1261.5,1759.2 1262.0,1757.1 1262.5,1761.2 1263.0,1755.4 1263.5,1758.9 1264.0,1757.7 1264.5,1760.2 1265.0,1757.5 1265.5,1758.2 1266.0,1753.0 1266.5,1758.1 1267.0,1754.1 1267.5,1759.1 1268.0,1757.7 1268.5,1760.1 1269.0,1756.3 1269.5,1758.5 1270.0,1757.3 1270.5,1758.2 1271.0,1756.3 1271.5,1759.3 1272.0,1756.9 1272.5,1758.7 1273.0,1755.4 1273.5,1759.3 1274.0,1756.7 1274.5,1760.7 1275.0,1757.7 1275.5,1759.1 1276.0,1757.1 1276.5,1758.3 1277.0,1755.8 1277.5,1760.2 1278.0,1755.8 1278.5,1758.2 1279.0,1754.7 1279.5,1759.7 1280.0,1756.0 1280.5,1760.9 1281.0,1757.3 1281.5,1760.0 1282.0,1756.7 1282.5,1758.1 1283.0,1757.8 1283.5,1758.5 1284.0,1755.0 1284.5,1759.5 1285.0,1755.4 1285.5,1759.8 1286.0,1755.3 1286.5,1758.4 1287.0,1756.6 1287.5,1762.0 1288.0,1756.3 1288.5,1758.0 1289.0,1756.9 1289.5,1761.6 1290.0,1757.5 1290.5,1759.1 1291.0,1757.6 1291.5,1759.6 1292.0,1756.4 1292.5,1758.4 1293.0,1756.7 1293.5,1758.6 1294.0,1754.7 1294.5,1759.3 1295.0,1756.3 1295.5,1758.7 1296.0,1756.9 1296.5,1760.4 1297.0,1757.7 1297.5,1761.1 1298.0,1756.0 1298.5,1758.2 1299.0,1755.2 1299.5,1758.3 1300.0,1756.8 1300.5,1760.3 1301.0,1756.5 1301.5,1757.7 1302.0,1757.1 1302.5,1759.0 1303.0,1755.6 1303.5,1757.8 1304.0,1754.6 1304.5,1757.9 1305.0,1757.7 1305.5,1758.9 1306.0,1755.9 1306.5,1760.2 1307.0,1754.3 1307.5,1760.1 1308.0,1754.9 1308.5,1758.8 1309.0,1757.0 1309.5,1759.8 1310.0,1755.8 1310.5,1760.8 1311.0,1756.0 1311.5,1758.2 1312.0,1755.8 1312.5,1758.3 1313.0,1754.1 1313.5,1758.7 1314.0,1756.7 1314.5,1760.0 1315.0,1753.9 1315.5,1759.0 1316.0,1753.7 1316.5,1757.9 1317.0,1757.4 1317.5,1761.1 1318.0,1757.1 1318.5,1757.7 1319.0,1756.6 1319.5,1760.6 1320.0,1757.6 1320.5,1759.6 1321.0,1756.8 1321.5,1758.2 1322.0,1757.6 1322.5,1757.8 1323.0,1756.1 1323.5,1759.9 1324.0,1755.2 1324.5,1759.8 1325.0,1756.0 1325.5,1757.9 1326.0,1756.3 1326.5,1758.1 1327.0,1756.8 1327.5,1759.0 1328.0,1757.2 1328.5,1759.5 1329.0,1756.7 1329.5,1758.1 1330.0,1754.9 1330.5,1759.1 1331.0,1757.4 1331.5,1758.4 1332.0,1755.6 1332.5,1758.9 1333.0,1752.6 1333.5,1757.8 1334.0,1755.1 1334.5,1759.6 1335.0,1753.2 1335.5,1758.6 1336.0,1757.6 1336.5,1758.2 1337.0,1757.1 1337.5,1758.9 1338.0,1755.4 1338.5,1759.5 1339.0,1754.9 1339.5,1759.4 1340.0,1757.2 1340.5,1759.8 1341.0,1756.4 1341.5,1759.4 1342.0,1756.4 1342.5,1758.5 1343.0,1757.6 1343.5,1759.8 1344.0,1755.4 1344.5,1758.5 1345.0,1756.6 1345.5,1758.7 1346.0,1756.9 1346.5,1760.4 1347.0,1756.8 1347.5,1759.2 1348.0,1756.7 1348.5,1760.9 1349.0,1754.3 1349.5,1760.0 1350.0,1757.2 1350.5,1758.2 1351.0,1756.0 1351.5,1761.1 1352.0,1757.0 1352.5,1758.9 1353.0,1756.8 1353.5,1760.4 1354.0,1755.1 1354.5,1758.2 1355.0,1757.3 1355.5,1759.0 1356.0,1756.3 1356.5,1759.7 1357.0,1756.7 1357.5,1757.7 1358.0,1757.4 1358.5,1760.2 1359.0,1757.2 1359.5,1759.3 1360.0,1757.4 1360.5,1761.1 1361.0,1756.6 1361.5,1758.3 1362.0,1754.8 1362.5,1760.2 1363.0,1754.7 1363.5,1759.0 1364.0,1756.3 1364.5,1757.8 1365.0,1756.6 1365.5,1757.9 1366.0,1755.2 1366.5,1758.9 1367.0,1757.1 1367.5,1759.2 1368.0,1756.1 1368.5,1759.5 1369.0,1755.7 1369.5,1760.2 1370.0,1755.2 1370.5,1758.5 1371.0,1753.1 1371.5,1759.5 1372.0,1756.0 1372.5,1758.2 1373.0,1755.7 1373.5,1758.2 1374.0,1757.3 1374.5,1758.9 1375.0,1754.2 1375.5,1761.1 1376.0,1757.0 1376.5,1758.3 1377.0,1756.7 1377.5,1758.0 1378.0,1756.1 1378.5,1758.0 1379.0,1756.9 1379.5,1758.9 1380.0,1754.0 1380.5,1760.4 1381.0,1753.6 1381.5,1759.5 1382.0,1755.9 1382.5,1760.2 1383.0,1757.5 1383.5,1759.2 1384.0,1756.6 1384.5,1759.4 1385.0,1756.3 1385.5,1757.9 1386.0,1754.3 1386.5,1758.0 1387.0,1757.5 1387.5,1759.0 1388.0,1756.4 1388.5,1761.1 1389.0,1755.5 1389.5,1759.6 1390.0,1756.2 1390.5,1759.9 1391.0,1753.9 1391.5,1758.3 1392.0,1756.4 1392.5,1758.5 1393.0,1755.8 1393.5,1759.3 1394.0,1755.1 1394.5,1760.3 1395.0,1757.6 1395.5,1758.9 1396.0,1756.4 1396.5,1760.5 1397.0,1755.8 1397.5,1759.8 1398.0,1757.0 1398.5,1759.1 1399.0,1757.5 1399.5,1758.1 1400.0,1755.9 1400.5,1760.6 1401.0,1756.0 1401.5,1760.4 1402.0,1754.2 1402.5,1758.9 1403.0,1755.6 1403.5,1758.7 1404.0,1757.6 1404.5,1758.3 1405.0,1755.8 1405.5,1759.6 1406.0,1757.6 1406.5,1758.4 1407.0,1755.9 1407.5,1758.5 1408.0,1757.4 1408.5,1759.7 1409.0,1757.8 1409.5,1758.4 1410.0,1757.6 1410.5,1758.2 1411.0,1756.7 1411.5,1758.6 1412.0,1756.6 1412.5,1759.1 1413.0,1755.6 1413.5,1761.0 1414.0,1757.3 1414.5,1758.7 1415.0,1757.7 1415.5,1758.8 1416.0,1757.1 1416.5,1759.4 1417.0,1757.7 1417.5,1760.2 1418.0,1755.7 1418.5,1759.9 1419.0,1757.1 1419.5,1759.6 1420.0,1756.8 1420.5,1760.2 1421.0,1757.8 1421.5,1759.6 1422.0,1757.5 1422.5,1759.6 1423.0,1757.9 1423.5,1758.6 1424.0,1758.2 1424.5,1759.3 1425.0,1751.7 1425.5,1758.5 1426.0,1754.9 1426.5,1758.8 1427.0,1756.3 1427.5,1758.9 1428.0,1757.7 1428.5,1758.7 1429.0,1758.2 1429.5,1759.4 1430.0,1757.4 1430.5,1760.1 1431.0,1756.4 1431.5,1758.5 1432.0,1756.8 1432.5,1759.0 1433.0,1758.4 1433.5,1758.9 1434.0,1757.8 1434.5,1760.1 1435.0,1758.2 1435.5,1759.9 1436.0,1757.3 1436.5,1761.7 1437.0,1758.2 1437.5,1759.3 1438.0,1756.1 1438.5,1760.7 1439.0,1757.8 1439.5,1759.5 1440.0,1754.6 1440.5,1759.5 1441.0,1757.9 1441.5,1759.2 1442.0,1756.3 1442.5,1761.3 1443.0,1758.2 1443.5,1759.7 1444.0,1758.5 1444.5,1761.1 1445.0,1756.4 1445.5,1759.6 1446.0,1756.4 1446.5,1760.7 1447.0,1757.0 1447.5,1764.2 1448.0,1757.5 1448.5,1760.2 1449.0,1757.6 1449.5,1765.4 1450.0,1758.1 1450.5,1759.5 1451.0,1757.5 1451.5,1760.3 1452.0,1758.2 1452.5,1759.7 1453.0,1758.1 1453.5,1761.9 1454.0,1757.4 1454.5,1760.2 1455.0,1756.9 1455.5,1762.3 1456.0,1757.1 1456.5,1760.8 1457.0,1757.3 1457.5,1759.8 1458.0,1759.0 1458.5,1759.6 1459.0,1759.2 1459.5,1760.5 1460.0,1758.8 1460.5,1761.1 1461.0,1759.1 1461.5,1760.1 1462.0,1759.4 1462.5,1760.4 1463.0,1758.2 1463.5,1760.1 1464.0,1759.1 1464.5,1760.4 1465.0,1757.0 1465.5,1761.3 1466.0,1757.8 1466.5,1760.9 1467.0,1759.0 1467.5,1762.7 1468.0,1758.1 1468.5,1760.7 1469.0,1758.3 1469.5,1761.9 1470.0,1758.5 1470.5,1760.3 1471.0,1759.1 1471.5,1760.6 1472.0,1759.3 1472.5,1761.2 1473.0,1759.8 1473.5,1760.9 1474.0,1759.8 1474.5,1760.7 1475.0,1758.0 1475.5,1760.2 1476.0,1759.3 1476.5,1760.4 1477.0,1758.6 1477.5,1760.9 1478.0,1755.5 1478.5,1760.5 1479.0,1759.4 1479.5,1760.7 1480.0,1755.4 1480.5,1760.2 1481.0,1758.7 1481.5,1762.5 1482.0,1759.6 1482.5,1761.4 1483.0,1759.6 1483.5,1760.3 1484.0,1759.0 1484.5,1760.2 1485.0,1757.6 1485.5,1760.5 1486.0,1758.7 1486.5,1763.6 1487.0,1758.8 1487.5,1760.6 1488.0,1758.0 1488.5,1761.9 1489.0,1757.1 1489.5,1762.1 1490.0,1759.9 1490.5,1760.6 1491.0,1759.8 1491.5,1760.7 1492.0,1759.8 1492.5,1761.6 1493.0,1756.4 1493.5,1761.4 1494.0,1756.5 1494.5,1760.3 1495.0,1760.2 1495.5,1763.2 1496.0,1758.9 1496.5,1761.7 1497.0,1760.0 1497.5,1763.2 1498.0,1756.8 1498.5,1762.4 1499.0,1758.3 1499.5,1761.0 1500.0,1759.5 1500.5,1761.9 1501.0,1758.9 1501.5,1761.3 1502.0,1758.8 1502.5,1761.6 1503.0,1760.1 1503.5,1762.9 1504.0,1758.4 1504.5,1761.3 1505.0,1760.1 1505.5,1761.0 1506.0,1756.9 1506.5,1761.7 1507.0,1759.3 1507.5,1760.3 1508.0,1759.2 1508.5,1762.0 1509.0,1760.2 1509.5,1760.3 1510.0,1760.3 1510.5,1761.6 1511.0,1759.5 1511.5,1762.3 1512.0,1759.5 1512.5,1760.6 1513.0,1760.3 1513.5,1761.3 1514.0,1758.5 1514.5,1762.0 1515.0,1759.7 1515.5,1761.9 1516.0,1760.1 1516.5,1762.6 1517.0,1760.3 1517.5,1764.1 1518.0,1758.0 1518.5,1760.6 1519.0,1758.3 1519.5,1760.7 1520.0,1758.8 1520.5,1764.2 1521.0,1759.5 1521.5,1763.2 1522.0,1759.4 1522.5,1761.1 1523.0,1757.0 1523.5,1762.3 1524.0,1756.4 1524.5,1760.5 1525.0,1759.8 1525.5,1761.2 1526.0,1756.6 1526.5,1761.2 1527.0,1757.4 1527.5,1763.9 1528.0,1758.3 1528.5,1761.5 1529.0,1756.2 1529.5,1761.2 1530.0,1760.1 1530.5,1762.4 1531.0,1759.5 1531.5,1761.5 1532.0,1759.2 1532.5,1761.4 1533.0,1757.3 1533.5,1764.1 1534.0,1759.9 1534.5,1761.6 1535.0,1759.9 1535.5,1763.3 1536.0,1758.1 1536.5,1761.4 1537.0,1759.6 1537.5,1760.6 1538.0,1758.5 1538.5,1761.4 1539.0,1759.6 1539.5,1761.6 1540.0,1758.6 1540.5,1760.9 1541.0,1758.8 1541.5,1762.4 1542.0,1759.7 1542.5,1760.6 1543.0,1758.1 1543.5,1760.7 1544.0,1759.2 1544.5,1761.8 1545.0,1760.3 1545.5,1762.0 1546.0,1758.9 1546.5,1761.9 1547.0,1759.5 1547.5,1762.7 1548.0,1760.0 1548.5,1761.1 1549.0,1760.4 1549.5,1761.9 1550.0,1759.8 1550.5,1760.9 1551.0,1757.8 1551.5,1763.3 1552.0,1760.1 1552.5,1763.5 1553.0,1760.5 1553.5,1761.3 1554.0,1759.0 1554.5,1761.1 1555.0,1756.3 1555.5,1761.1 1556.0,1758.5 1556.5,1763.0 1557.0,1759.9 1557.5,1761.2 1558.0,1755.2 1558.5,1762.4 1559.0,1759.2 1559.5,1762.1 1560.0,1758.9 1560.5,1763.7 1561.0,1760.6 1561.5,1762.3 1562.0,1759.3 1562.5,1761.3 1563.0,1758.8 1563.5,1761.4 1564.0,1758.3 1564.5,1761.3 1565.0,1760.4 1565.5,1762.2 1566.0,1759.9 1566.5,1761.4 1567.0,1757.9 1567.5,1762.7 1568.0,1757.5 1568.5,1763.4 1569.0,1760.3 1569.5,1761.8 1570.0,1759.6 1570.5,1762.9 1571.0,1760.1 1571.5,1761.0 1572.0,1759.3 1572.5,1761.9 1573.0,1758.6 1573.5,1762.5 1574.0,1758.8 1574.5,1761.4 1575.0,1759.7 1575.5,1761.5 1576.0,1760.6 1576.5,1762.3 1577.0,1758.5 1577.5,1761.0 1578.0,1760.5 1578.5,1762.8 1579.0,1760.4 1579.5,1760.9 1580.0,1760.1 1580.5,1761.5 1581.0,1758.3 1581.5,1760.9 1582.0,1760.0 1582.5,1761.3 1583.0,1758.9 1583.5,1763.0 1584.0,1758.1 1584.5,1761.3 1585.0,1760.0 1585.5,1764.7 1586.0,1759.7 1586.5,1762.4 1587.0,1759.4 1587.5,1762.4 1588.0,1758.2 1588.5,1765.6 1589.0,1760.3 1589.5,1762.2 1590.0,1759.9 1590.5,1764.2 1591.0,1760.4 1591.5,1763.1 1592.0,1759.1 1592.5,1763.4 1593.0,1758.4 1593.5,1763.6 1594.0,1760.0 1594.5,1761.3 1595.0,1760.6 1595.5,1762.2 1596.0,1758.2 1596.5,1762.1 1597.0,1760.1 1597.5,1761.6 1598.0,1759.1 1598.5,1761.9 1599.0,1759.6 1599.5,1763.1 1600.0,1760.1 1600.5,1764.9 1601.0,1760.1 1601.5,1761.3 1602.0,1759.4 1602.5,1762.8 1603.0,1759.9 1603.5,1764.0 1604.0,1760.1 1604.5,1763.2 1605.0,1759.6 1605.5,1762.1 1606.0,1760.5 1606.5,1762.5 1607.0,1755.4 1607.5,1762.5 1608.0,1759.8 1608.5,1762.7 1609.0,1760.0 1609.5,1763.0 1610.0,1760.2 1610.5,1763.1 1611.0,1760.0 1611.5,1761.5 1612.0,1759.4 1612.5,1763.7 1613.0,1758.7 1613.5,1762.0 1614.0,1761.1 1614.5,1763.1 1615.0,1759.3 1615.5,1761.8 1616.0,1760.0 1616.5,1763.8 1617.0,1757.2 1617.5,1763.4 1618.0,1760.9 1618.5,1763.4 1619.0,1760.6 1619.5,1764.7 1620.0,1759.9 1620.5,1762.7 1621.0,1761.2 1621.5,1762.2 1622.0,1759.6 1622.5,1763.2 1623.0,1760.9 1623.5,1762.3 1624.0,1759.9 1624.5,1762.2 1625.0,1759.6 1625.5,1764.9 1626.0,1760.4 1626.5,1765.0 1627.0,1759.5 1627.5,1762.6 1628.0,1759.3 1628.5,1763.9 1629.0,1761.2 1629.5,1762.7 1630.0,1759.2 1630.5,1763.7 1631.0,1760.1 1631.5,1761.8 1632.0,1760.9 1632.5,1762.6 1633.0,1758.4 1633.5,1764.5 1634.0,1760.6 1634.5,1762.4 1635.0,1759.8 1635.5,1764.7 1636.0,1759.2 1636.5,1762.6 1637.0,1761.1 1637.5,1763.7 1638.0,1760.8 1638.5,1764.5 1639.0,1761.1 1639.5,1762.8 1640.0,1759.3 1640.5,1762.6 1641.0,1761.7 1641.5,1762.9 1642.0,1759.0 1642.5,1763.9 1643.0,1761.0 1643.5,1762.2 1644.0,1761.2 1644.5,1762.8 1645.0,1761.5 1645.5,1762.3 1646.0,1760.1 1646.5,1765.8 1647.0,1761.0 1647.5,1763.6 1648.0,1760.8 1648.5,1762.4 1649.0,1759.7 1649.5,1764.0 1650.0,1761.8 1650.5,1762.2 1651.0,1760.8 1651.5,1762.9 1652.0,1761.6 1652.5,1763.9 1653.0,1762.0 1653.5,1765.5 1654.0,1760.9 1654.5,1764.2 1655.0,1759.6 1655.5,1764.8 1656.0,1760.6 1656.5,1765.8 1657.0,1761.9 1657.5,1762.6 1658.0,1761.8 1658.5,1763.3 1659.0,1762.1 1659.5,1762.5 1660.0,1759.9 1660.5,1763.5 1661.0,1760.4 1661.5,1763.7 1662.0,1761.0 1662.5,1764.2 1663.0,1760.4 1663.5,1764.2 1664.0,1761.4 1664.5,1765.5 1665.0,1760.1 1665.5,1762.7 1666.0,1761.9 1666.5,1765.2 1667.0,1761.1 1667.5,1764.4 1668.0,1761.6 1668.5,1763.7 1669.0,1760.9 1669.5,1764.2 1670.0,1760.7 1670.5,1763.9 1671.0,1762.4 1671.5,1764.3 1672.0,1761.3 1672.5,1763.9 1673.0,1761.0 1673.5,1765.3 1674.0,1760.5 1674.5,1767.2 1675.0,1759.9 1675.5,1764.4 1676.0,1762.3 1676.5,1763.7 1677.0,1762.3 1677.5,1763.9 1678.0,1762.3 1678.5,1764.4 1679.0,1762.6 1679.5,1763.8 1680.0,1757.8 1680.5,1764.1 1681.0,1761.2 1681.5,1764.5 1682.0,1761.9 1682.5,1765.7 1683.0,1761.4 1683.5,1764.1 1684.0,1761.1 1684.5,1763.5 1685.0,1761.3 1685.5,1765.2 1686.0,1760.7 1686.5,1762.9 1687.0,1762.4 1687.5,1764.8 1688.0,1761.7 1688.5,1764.7 1689.0,1762.4 1689.5,1762.8 1690.0,1759.2 1690.5,1765.2 1691.0,1761.5 1691.5,1765.4 1692.0,1762.5 1692.5,1764.3 1693.0,1762.2 1693.5,1763.6 1694.0,1761.7 1694.5,1764.7 1695.0,1762.3 1695.5,1763.4 1696.0,1762.4 1696.5,1764.0 1697.0,1762.4 1697.5,1764.5 1698.0,1759.9 1698.5,1763.4 1699.0,1763.0 1699.5,1765.7 1700.0,1761.2 1700.5,1763.2 1701.0,1762.0 1701.5,1764.9 1702.0,1761.9 1702.5,1767.1 1703.0,1760.8 1703.5,1766.5 1704.0,1761.8 1704.5,1764.6 1705.0,1761.3 1705.5,1763.4 1706.0,1762.6 1706.5,1764.2 1707.0,1759.9 1707.5,1763.7 1708.0,1761.5 1708.5,1764.2 1709.0,1761.8 1709.5,1763.4 1710.0,1762.3 1710.5,1763.3 1711.0,1763.0 1711.5,1763.5 1712.0,1762.4 1712.5,1764.1 1713.0,1761.8 1713.5,1764.5 1714.0,1760.1 1714.5,1764.3 1715.0,1760.4 1715.5,1768.1 1716.0,1762.0 1716.5,1764.5 1717.0,1760.3 1717.5,1767.9 1718.0,1758.6 1718.5,1765.8 1719.0,1760.5 1719.5,1764.9 1720.0,1762.9 1720.5,1763.9 1721.0,1761.7 1721.5,1764.8 1722.0,1761.3 1722.5,1763.8 1723.0,1761.5 1723.5,1765.3 1724.0,1762.7 1724.5,1763.6 1725.0,1760.9 1725.5,1765.4 1726.0,1762.7 1726.5,1766.1 1727.0,1763.3 1727.5,1764.8 1728.0,1762.2 1728.5,1763.5 1729.0,1762.1 1729.5,1765.1 1730.0,1762.1 1730.5,1765.2 1731.0,1763.3 1731.5,1765.0 1732.0,1762.5 1732.5,1764.4 1733.0,1761.4 1733.5,1764.5 1734.0,1761.8 1734.5,1767.3 1735.0,1761.2 1735.5,1763.9 1736.0,1763.1 1736.5,1764.2 1737.0,1763.5 1737.5,1766.1 1738.0,1761.8 1738.5,1765.0 1739.0,1762.3 1739.5,1766.0 1740.0,1763.0 1740.5,1764.0 1741.0,1761.4 1741.5,1764.3 1742.0,1763.1 1742.5,1764.4 1743.0,1760.1 1743.5,1765.1 1744.0,1761.4 1744.5,1764.6 1745.0,1762.3 1745.5,1764.9 1746.0,1763.5 1746.5,1763.7 1747.0,1760.6 1747.5,1763.8 1748.0,1761.0 1748.5,1764.2 1749.0,1763.0 1749.5,1763.7 1750.0,1760.0 1750.5,1764.6 1751.0,1762.6 1751.5,1763.9 1752.0,1763.3 1752.5,1765.4 1753.0,1761.7 1753.5,1766.0 1754.0,1761.8 1754.5,1764.6 1755.0,1762.0 1755.5,1764.6 1756.0,1761.5 1756.5,1765.9 1757.0,1760.5 1757.5,1764.2 1758.0,1761.2 1758.5,1764.4 1759.0,1763.1 1759.5,1767.1 1760.0,1759.7 1760.5,1766.7 1761.0,1763.3 1761.5,1763.9 1762.0,1763.3 1762.5,1764.3 1763.0,1762.7 1763.5,1767.6 1764.0,1763.3 1764.5,1765.3 1765.0,1761.6 1765.5,1764.8 1766.0,1763.6 1766.5,1764.3 1767.0,1761.2 1767.5,1764.7 1768.0,1760.2 1768.5,1765.8 1769.0,1760.8 1769.5,1764.4 1770.0,1762.8 1770.5,1764.7 1771.0,1761.9 1771.5,1765.7 1772.0,1762.5 1772.5,1765.9 1773.0,1762.8 1773.5,1764.1 1774.0,1762.6 1774.5,1765.0 1775.0,1763.9 1775.5,1765.6 1776.0,1763.8 1776.5,1765.5 1777.0,1761.4 1777.5,1766.8 1778.0,1762.5 1778.5,1766.4 1779.0,1763.4 1779.5,1764.1 1780.0,1763.1 1780.5,1764.8 1781.0,1761.4 1781.5,1768.5 1782.0,1762.4 1782.5,1768.1 1783.0,1763.9 1783.5,1764.0 1784.0,1762.7 1784.5,1767.3 1785.0,1761.8 1785.5,1764.1 1786.0,1763.6 1786.5,1765.0 1787.0,1763.7 1787.5,1765.2 1788.0,1763.2 1788.5,1764.1 1789.0,1762.8 1789.5,1765.2 1790.0,1763.7 1790.5,1764.2 1791.0,1761.9 1791.5,1766.8 1792.0,1763.7 1792.5,1766.5 1793.0,1762.0 1793.5,1765.3 1794.0,1763.1 1794.5,1764.0 1795.0,1763.5 1795.5,1764.3 1796.0,1763.0 1796.5,1764.1 1797.0,1760.3 1797.5,1768.0 1798.0,1763.9 1798.5,1764.8 1799.0,1762.1 1799.5,1766.5 1800.0,1760.1 1800.5,1764.7 1801.0,1760.3 1801.5,1765.0 1802.0,1763.9 1802.5,1764.9 1803.0,1762.9 1803.5,1766.1 1804.0,1763.2 1804.5,1764.3 1805.0,1763.7 1805.5,1766.4 1806.0,1762.5 1806.5,1765.8 1807.0,1762.9 1807.5,1764.6 1808.0,1762.9 1808.5,1764.7 1809.0,1762.3 1809.5,1764.5 1810.0,1763.2 1810.5,1765.8 1811.0,1764.0 1811.5,1767.7 1812.0,1763.9 1812.5,1769.7 1813.0,1762.2 1813.5,1764.9 1814.0,1763.1 1814.5,1769.1 1815.0,1763.7 1815.5,1764.3 1816.0,1760.5 1816.5,1766.5 1817.0,1760.6 1817.5,1764.5 1818.0,1762.7 1818.5,1768.6 1819.0,1763.7 1819.5,1764.6 1820.0,1762.8 1820.5,1764.2 1821.0,1761.9 1821.5,1765.7 1822.0,1762.7 1822.5,1765.1 1823.0,1762.2 1823.5,1766.0 1824.0,1764.0 1824.5,1766.4 1825.0,1761.5 1825.5,1766.4 1826.0,1762.7 1826.5,1764.2 1827.0,1763.2 1827.5,1764.1 1828.0,1764.0 1828.5,1764.6 1829.0,1762.7 1829.5,1767.9 1830.0,1763.6 1830.5,1765.1 1831.0,1761.7 1831.5,1765.3 1832.0,1762.7 1832.5,1765.4 1833.0,1763.6 1833.5,1764.1 1834.0,1763.5 1834.5,1766.0 1835.0,1761.7 1835.5,1764.7 1836.0,1759.5 1836.5,1765.4 1837.0,1763.8 1837.5,1765.6 1838.0,1763.6 1838.5,1766.5 1839.0,1762.3 1839.5,1764.2 1840.0,1763.4 1840.5,1764.2 1841.0,1762.2 1841.5,1765.8 1842.0,1763.4 1842.5,1764.0 1843.0,1763.5 1843.5,1765.0 1844.0,1762.3 1844.5,1764.1 1845.0,1763.2 1845.5,1764.6 1846.0,1761.5 1846.5,1765.8 1847.0,1762.6 1847.5,1764.8 1848.0,1761.1 1848.5,1764.1 1849.0,1762.4 1849.5,1766.4 1850.0,1762.2 1850.5,1765.1 1851.0,1763.7 1851.5,1764.2 1852.0,1762.2 1852.5,1764.9 1853.0,1762.2 1853.5,1764.9 1854.0,1760.4 1854.5,1764.5 1855.0,1763.6 1855.5,1764.4 1856.0,1762.7 1856.5,1764.8 1857.0,1764.0 1857.5,1767.0 1858.0,1762.9 1858.5,1765.0 1859.0,1763.6 1859.5,1766.5 1860.0,1763.8 1860.5,1765.5 1861.0,1762.3 1861.5,1764.1 1862.0,1761.0 1862.5,1765.3 1863.0,1762.5 1863.5,1764.4 1864.0,1763.6 1864.5,1765.2 1865.0,1762.3 1865.5,1765.3 1866.0,1763.1 1866.5,1768.7 1867.0,1763.8 1867.5,1764.5 1868.0,1762.8 1868.5,1766.6 1869.0,1761.9 1869.5,1764.1 1870.0,1763.5 1870.5,1767.3 1871.0,1759.5 1871.5,1765.6 1872.0,1762.1 1872.5,1765.1 1873.0,1763.3 1873.5,1764.9 1874.0,1764.0 1874.5,1766.9 1875.0,1762.9 1875.5,1764.6 1876.0,1761.8 1876.5,1765.6 1877.0,1763.2 1877.5,1764.6 1878.0,1760.8 1878.5,1764.9 1879.0,1763.8 1879.5,1765.5 1880.0,1763.4 1880.5,1765.9 1881.0,1763.8 1881.5,1764.5 1882.0,1760.3 1882.5,1764.0 1883.0,1762.8 1883.5,1764.3 1884.0,1762.3 1884.5,1766.3 1885.0,1762.8 1885.5,1766.2 1886.0,1762.1 1886.5,1764.0 1887.0,1762.2 1887.5,1766.1 1888.0,1763.6 1888.5,1766.1 1889.0,1762.8 1889.5,1765.6 1890.0,1763.7 1890.5,1767.2 1891.0,1763.8 1891.5,1765.2 1892.0,1763.7 1892.5,1764.8 1893.0,1762.3 1893.5,1766.6 1894.0,1762.9 1894.5,1766.1 1895.0,1762.1 1895.5,1764.8 1896.0,1761.8 1896.5,1764.6 1897.0,1761.3 1897.5,1764.9 1898.0,1763.2 1898.5,1765.4 1899.0,1762.6 1899.5,1765.7 1900.0,1761.4 1900.5,1764.5 1901.0,1763.9 1901.5,1764.1 1902.0,1763.3 1902.5,1766.6 1903.0,1763.2 1903.5,1765.3 1904.0,1761.8 1904.5,1766.6 1905.0,1763.4 1905.5,1767.1 1906.0,1762.9 1906.5,1765.1 1907.0,1764.0 1907.5,1766.8 1908.0,1761.5 1908.5,1765.2 1909.0,1762.9 1909.5,1766.4 1910.0,1763.9 1910.5,1765.9 1911.0,1762.8 1911.5,1766.5 1912.0,1762.0 1912.5,1765.1 1913.0,1762.2 1913.5,1766.2 1914.0,1761.6 1914.5,1764.5 1915.0,1762.1 1915.5,1764.2 1916.0,1762.8 1916.5,1766.6 1917.0,1763.4 1917.5,1764.9 1918.0,1763.3 1918.5,1767.6 1919.0,1762.6 1919.5,1766.0 1920.0,1763.3 1920.5,1764.2 1921.0,1762.6 1921.5,1764.7 1922.0,1761.2 1922.5,1765.7 1923.0,1762.3 1923.5,1764.4 1924.0,1762.7 1924.5,1764.8 1925.0,1763.0 1925.5,1767.1 1926.0,1760.8 1926.5,1764.0 1927.0,1763.9 1927.5,1764.2 1928.0,1763.7 1928.5,1764.6 1929.0,1762.2 1929.5,1764.8 1930.0,1763.8 1930.5,1764.0 1931.0,1763.8 1931.5,1764.3 1932.0,1762.2 1932.5,1764.0 1933.0,1763.7 1933.5,1764.1 1934.0,1762.2 1934.5,1765.5 1935.0,1762.1 1935.5,1764.3 1936.0,1762.7 1936.5,1765.9 1937.0,1763.6 1937.5,1764.9 1938.0,1760.8 1938.5,1767.0 1939.0,1763.9 1939.5,1764.2 1940.0,1762.1 1940.5,1764.1 1941.0,1762.9 1941.5,1768.0 1942.0,1762.1 1942.5,1764.2 1943.0,1762.5 1943.5,1765.9 1944.0,1763.8 1944.5,1764.7 1945.0,1759.7 1945.5,1765.6 1946.0,1763.9 1946.5,1765.2 1947.0,1763.9 1947.5,1766.2 1948.0,1763.3 1948.5,1764.2 1949.0,1763.2 1949.5,1766.0 1950.0,1762.2 1950.5,1764.7 1951.0,1763.4 1951.5,1766.0 1952.0,1763.8 1952.5,1764.4 1953.0,1763.3 1953.5,1764.2 1954.0,1762.5 1954.5,1766.8 1955.0,1760.1 1955.5,1764.7 1956.0,1763.3 1956.5,1764.4 1957.0,1761.7 1957.5,1764.8 1958.0,1763.9 1958.5,1764.4 1959.0,1763.8 1959.5,1765.8 1960.0,1762.8 1960.5,1765.3 1961.0,1763.0 1961.5,1764.2 1962.0,1762.0 1962.5,1764.0 1963.0,1762.2 1963.5,1765.7 1964.0,1762.9 1964.5,1764.4 1965.0,1763.7 1965.5,1764.1 1966.0,1762.3 1966.5,1767.6 1967.0,1763.4 1967.5,1766.7 1968.0,1761.8 1968.5,1767.6 1969.0,1762.2 1969.5,1767.0 1970.0,1761.0 1970.5,1766.3 1971.0,1763.8 1971.5,1765.0 1972.0,1760.8 1972.5,1764.6 1973.0,1762.8 1973.5,1764.3 1974.0,1762.3 1974.5,1764.7 1975.0,1764.0 1975.5,1764.7 1976.0,1763.4 1976.5,1767.4 1977.0,1763.3 1977.5,1764.3 1978.0,1762.9 1978.5,1765.4 1979.0,1761.4 1979.5,1766.0 1980.0,1762.4 1980.5,1764.2 1981.0,1763.2 1981.5,1767.5 1982.0,1759.7 1982.5,1764.7 1983.0,1762.7 1983.5,1766.0 1984.0,1762.8 1984.5,1764.8 1985.0,1761.1 1985.5,1765.7 1986.0,1761.2 1986.5,1765.8 1987.0,1761.3 1987.5,1764.6 1988.0,1760.0 1988.5,1766.6 1989.0,1763.6 1989.5,1766.0 1990.0,1763.9 1990.5,1764.7 1991.0,1763.2 1991.5,1766.7 1992.0,1761.4 1992.5,1767.8 1993.0,1762.3 1993.5,1767.2 1994.0,1763.3 1994.5,1766.4 1995.0,1764.0 1995.5,1764.2 1996.0,1763.8 1996.5,1764.9 1997.0,1763.4 1997.5,1764.8 1998.0,1763.4 1998.5,1765.5 1999.0,1763.5 1999.5,1764.3 2000.0,1761.6 2000.5,1764.7 2001.0,1763.8 2001.5,1765.0 2002.0,1763.3 2002.5,1766.0 2003.0,1763.1 2003.5,1767.2 2004.0,1761.6 2004.5,1764.1 2005.0,1763.3 2005.5,1765.6 2006.0,1763.1 2006.5,1764.2 2007.0,1761.3 2007.5,1767.3 2008.0,1763.4 2008.5,1765.4 2009.0,1762.6 2009.5,1766.3 2010.0,1762.1 2010.5,1765.0 2011.0,1763.3 2011.5,1764.8 2012.0,1762.6 2012.5,1765.1 2013.0,1760.3 2013.5,1765.7 2014.0,1760.8 2014.5,1764.8 2015.0,1763.9 2015.5,1765.6 2016.0,1763.4 2016.5,1765.1 2017.0,1763.4 2017.5,1764.7 2018.0,1762.9 2018.5,1764.6 2019.0,1762.2 2019.5,1764.0 2020.0,1763.9 2020.5,1764.6 2021.0,1762.4 2021.5,1767.1 2022.0,1763.3 2022.5,1764.6 2023.0,1760.0 2023.5,1764.2 2024.0,1763.2 2024.5,1767.9 2025.0,1763.5 2025.5,1765.1 2026.0,1762.7 2026.5,1764.7 2027.0,1762.3 2027.5,1765.4 2028.0,1761.3 2028.5,1764.6 2029.0,1760.5 2029.5,1764.1 2030.0,1763.2 2030.5,1764.3 2031.0,1761.9 2031.5,1764.1 2032.0,1763.3 2032.5,1765.8 2033.0,1763.4 2033.5,1766.2 2034.0,1762.1 2034.5,1766.8 2035.0,1762.2 2035.5,1766.9 2036.0,1762.1 2036.5,1765.1 2037.0,1762.7 2037.5,1765.6 2038.0,1761.9 2038.5,1764.1 2039.0,1763.8 2039.5,1765.5 2040.0,1763.7 2040.5,1765.2 2041.0,1763.6 2041.5,1765.9 2042.0,1760.2 2042.5,1764.5 2043.0,1763.7 2043.5,1764.5 2044.0,1763.2 2044.5,1765.2 2045.0,1762.7 2045.5,1764.1 2046.0,1763.8 2046.5,1765.7 2047.0,1762.9 2047.5,1764.3 2048.0,1762.2 2048.5,1766.3 2049.0,1763.4 2049.5,1766.2 2050.0,1763.7 2050.5,1766.6 2051.0,1763.8 2051.5,1764.6 2052.0,1761.5 2052.5,1765.0 2053.0,1761.4 2053.5,1764.6 2054.0,1762.7 2054.5,1765.3 2055.0,1764.0 2055.5,1764.4 2056.0,1763.8 2056.5,1765.2 2057.0,1763.2 2057.5,1764.9 2058.0,1763.7 2058.5,1765.4 2059.0,1763.5 2059.5,1765.7 2060.0,1762.2 2060.5,1767.8 2061.0,1763.6 2061.5,1768.3 2062.0,1763.4 2062.5,1766.0 2063.0,1764.0 2063.5,1766.3 2064.0,1763.7 2064.5,1765.1 2065.0,1763.8 2065.5,1764.7 2066.0,1758.3 2066.5,1764.1 2067.0,1763.0 2067.5,1764.9 2068.0,1763.3 2068.5,1764.7 2069.0,1762.6 2069.5,1764.3 2070.0,1761.4 2070.5,1765.0 2071.0,1763.4 2071.5,1764.5 2072.0,1761.3 2072.5,1765.0 2073.0,1762.7 2073.5,1764.1 2074.0,1761.4 2074.5,1764.1 2075.0,1763.8 2075.5,1766.0 2076.0,1762.9 2076.5,1765.5 2077.0,1762.4 2077.5,1768.6 2078.0,1763.4 2078.5,1767.0 2079.0,1763.2 2079.5,1765.5 2080.0,1762.9 2080.5,1764.2 2081.0,1762.5 2081.5,1767.5 2082.0,1762.4 2082.5,1766.0 2083.0,1761.6 2083.5,1766.0 2084.0,1762.1 2084.5,1764.3 2085.0,1763.5 2085.5,1764.6 2086.0,1761.7 2086.5,1765.4 2087.0,1764.0 2087.5,1764.9 2088.0,1762.8 2088.5,1764.9 2089.0,1762.7 2089.5,1765.7 2090.0,1762.0 2090.5,1765.6 2091.0,1763.1 2091.5,1765.1 2092.0,1759.1 2092.5,1765.5 2093.0,1763.5 2093.5,1764.2 2094.0,1763.5 2094.5,1766.5 2095.0,1763.0 2095.5,1765.2 2096.0,1761.4 2096.5,1765.1 2097.0,1762.4 2097.5,1766.6 2098.0,1762.4 2098.5,1767.7 2099.0,1763.9 2099.5,1765.6 2100.0,1762.2 2100.5,1767.0 2101.0,1761.4 2101.5,1766.8 2102.0,1763.5 2102.5,1766.7 2103.0,1763.3 2103.5,1766.8 2104.0,1763.1 2104.5,1765.7 2105.0,1760.2 2105.5,1767.1 2106.0,1762.7 2106.5,1764.4 2107.0,1763.1 2107.5,1764.5 2108.0,1762.5 2108.5,1764.5 2109.0,1759.4 2109.5,1764.3 2110.0,1763.9 2110.5,1768.6 2111.0,1762.6 2111.5,1764.9 2112.0,1763.0 2112.5,1766.2 2113.0,1762.9 2113.5,1767.4 2114.0,1761.4 2114.5,1765.1 2115.0,1761.9 2115.5,1764.1 2116.0,1762.3 2116.5,1764.9 2117.0,1763.3 2117.5,1765.5 2118.0,1762.9 2118.5,1764.2 2119.0,1762.3 2119.5,1765.5 2120.0,1762.0 2120.5,1766.1 2121.0,1762.3 2121.5,1765.9 2122.0,1763.6 2122.5,1765.6 2123.0,1760.9 2123.5,1765.2 2124.0,1762.6 2124.5,1765.7 2125.0,1762.7 2125.5,1765.2 2126.0,1761.2 2126.5,1766.5 2127.0,1759.8 2127.5,1764.6 2128.0,1763.6 2128.5,1765.8 2129.0,1764.0 2129.5,1764.1 2130.0,1762.1 2130.5,1765.8 2131.0,1762.1 2131.5,1764.9 2132.0,1761.4 2132.5,1766.0 2133.0,1762.1 2133.5,1765.5 2134.0,1761.1 2134.5,1764.8 2135.0,1761.9 2135.5,1765.4 2136.0,1763.9 2136.5,1764.9 2137.0,1759.8 2137.5,1764.6 2138.0,1763.2 2138.5,1766.0 2139.0,1763.0 2139.5,1765.4 2140.0,1762.2 2140.5,1764.0 2141.0,1762.8 2141.5,1768.1 2142.0,1761.2 2142.5,1765.3 2143.0,1762.2 2143.5,1767.6 2144.0,1760.9 2144.5,1765.0 2145.0,1763.1 2145.5,1764.7 2146.0,1761.9 2146.5,1764.7 2147.0,1762.1 2147.5,1768.9 2148.0,1763.6 2148.5,1765.7 2149.0,1763.4 2149.5,1764.4 2150.0,1761.5 2150.5,1767.1 2151.0,1762.1 2151.5,1765.5 2152.0,1761.9 2152.5,1764.7 2153.0,1763.0 2153.5,1764.7 2154.0,1762.0 2154.5,1764.8 2155.0,1763.6 2155.5,1764.7 2156.0,1763.1 2156.5,1766.3 2157.0,1763.7 2157.5,1768.9 2158.0,1762.8 2158.5,1764.1 2159.0,1762.3 2159.5,1764.5 2160.0,1763.5 2160.5,1765.2 2161.0,1762.8 2161.5,1764.8 2162.0,1762.9 2162.5,1765.3 2163.0,1763.0 2163.5,1765.0 2164.0,1761.0 2164.5,1765.1 2165.0,1762.7 2165.5,1764.6 2166.0,1763.3 2166.5,1766.2 2167.0,1762.1 2167.5,1765.0 2168.0,1763.7 2168.5,1766.3 2169.0,1761.0 2169.5,1764.8 2170.0,1761.5 2170.5,1764.6 2171.0,1760.3 2171.5,1766.8 2172.0,1763.8 2172.5,1764.2 2173.0,1763.9 2173.5,1765.2 2174.0,1763.0 2174.5,1766.9 2175.0,1762.0 2175.5,1765.0 2176.0,1763.2 2176.5,1767.1 2177.0,1762.3 2177.5,1764.6 2178.0,1760.7 2178.5,1764.3 2179.0,1763.0 2179.5,1764.1 2180.0,1761.8 2180.5,1765.4 2181.0,1761.7 2181.5,1764.4 2182.0,1762.5 2182.5,1765.8 2183.0,1762.7 2183.5,1764.4 2184.0,1763.0 2184.5,1764.9 2185.0,1763.7 2185.5,1767.8 2186.0,1763.6 2186.5,1765.6 2187.0,1763.2 2187.5,1764.1 2188.0,1760.9 2188.5,1764.0 2189.0,1761.9 2189.5,1767.8 2190.0,1761.8 2190.5,1765.2 2191.0,1763.9 2191.5,1765.1 2192.0,1763.7 2192.5,1765.1 2193.0,1762.6 2193.5,1765.7 2194.0,1762.2 2194.5,1767.2 2195.0,1762.2 2195.5,1767.0 2196.0,1761.5 2196.5,1766.0 2197.0,1763.6 2197.5,1764.4 2198.0,1761.9 2198.5,1766.3 2199.0,1763.1 2199.5,1766.4 2200.0,1763.3 2200.5,1764.0 2201.0,1763.2 2201.5,1766.6 2202.0,1762.6 2202.5,1764.2 2203.0,1762.9 2203.5,1764.7 2204.0,1763.8 2204.5,1765.7 2205.0,1761.5 2205.5,1765.4 2206.0,1761.7 2206.5,1764.7 2207.0,1763.4 2207.5,1764.6 2208.0,1763.5 2208.5,1764.9 2209.0,1761.0 2209.5,1764.4 2210.0,1762.3 2210.5,1764.9 2211.0,1760.7 2211.5,1764.1 2212.0,1761.8 2212.5,1764.8 2213.0,1763.1 2213.5,1765.2 2214.0,1763.7 2214.5,1767.3 2215.0,1761.9 2215.5,1766.9 2216.0,1762.2 2216.5,1764.4 2217.0,1762.5 2217.5,1765.1 2218.0,1763.5 2218.5,1767.0 2219.0,1763.3 2219.5,1765.8 2220.0,1759.4 2220.5,1764.4 2221.0,1763.7 2221.5,1766.1 2222.0,1763.1 2222.5,1766.3 2223.0,1762.2 2223.5,1764.5 2224.0,1763.0 2224.5,1765.2 2225.0,1763.1 2225.5,1766.3 2226.0,1762.3 2226.5,1767.2 2227.0,1763.3 2227.5,1766.1 2228.0,1763.2 2228.5,1765.6 2229.0,1762.5 2229.5,1765.6 2230.0,1762.8 2230.5,1766.7 2231.0,1761.6 2231.5,1764.8 2232.0,1763.6 2232.5,1765.5 2233.0,1763.6 2233.5,1766.1 2234.0,1761.4 2234.5,1765.7 2235.0,1761.6 2235.5,1765.5 2236.0,1760.8 2236.5,1767.8 2237.0,1763.9 2237.5,1764.4 2238.0,1762.8 2238.5,1765.9 2239.0,1760.2 2239.5,1764.0 2240.0,1760.0 2240.5,1764.7 2241.0,1764.0 2241.5,1765.2 2242.0,1762.5 2242.5,1764.0 2243.0,1762.3 2243.5,1764.3 2244.0,1763.3 2244.5,1764.6 2245.0,1763.4 2245.5,1764.1 2246.0,1761.4 2246.5,1765.3 2247.0,1763.6 2247.5,1768.4 2248.0,1762.7 2248.5,1765.4 2249.0,1762.3 2249.5,1767.6 2250.0,1761.9 2250.5,1765.7 2251.0,1762.1 2251.5,1764.8 2252.0,1763.6 2252.5,1766.2 2253.0,1764.0 2253.5,1764.2 2254.0,1763.0 2254.5,1766.9 2255.0,1762.1 2255.5,1764.2 2256.0,1761.5 2256.5,1765.4 2257.0,1763.0 2257.5,1765.3 2258.0,1762.4 2258.5,1764.7 2259.0,1763.5 2259.5,1765.2 2260.0,1763.1 2260.5,1765.5 2261.0,1763.4 2261.5,1768.2 2262.0,1761.8 2262.5,1764.9 2263.0,1762.1 2263.5,1764.3 2264.0,1762.5 2264.5,1766.4 2265.0,1763.0 2265.5,1765.8 2266.0,1761.5 2266.5,1764.1 2267.0,1762.1 2267.5,1765.9 2268.0,1763.7 2268.5,1765.2 2269.0,1763.7 2269.5,1765.4 2270.0,1762.1 2270.5,1765.8 2271.0,1761.7 2271.5,1764.9 2272.0,1762.2 2272.5,1764.3 2273.0,1761.4 2273.5,1764.0 2274.0,1763.5 2274.5,1764.4 2275.0,1763.0 2275.5,1764.6 2276.0,1764.0 2276.5,1766.6 2277.0,1763.9 2277.5,1765.5 2278.0,1763.2 2278.5,1764.2 2279.0,1763.7 2279.5,1767.0 2280.0,1761.2 2280.5,1764.5 2281.0,1763.1 2281.5,1764.6 2282.0,1762.4 2282.5,1766.3 2283.0,1763.1 2283.5,1764.0 2284.0,1762.1 2284.5,1765.7 2285.0,1763.2 2285.5,1764.5 2286.0,1763.6 2286.5,1764.0 2287.0,1763.7 2287.5,1765.1 2288.0,1763.6 2288.5,1764.5 2289.0,1763.4 2289.5,1765.0 2290.0,1762.1 2290.5,1764.9 2291.0,1763.2 2291.5,1764.4 2292.0,1763.3 2292.5,1768.1 2293.0,1762.6 2293.5,1764.4 2294.0,1763.5 2294.5,1766.1 2295.0,1763.8 2295.5,1767.2 2296.0,1762.3 2296.5,1765.1 2297.0,1762.9 2297.5,1764.2 2298.0,1762.3 2298.5,1764.3 2299.0,1763.2 2299.5,1764.2 2300.0,1762.4 2300.5,1764.6 2301.0,1762.8 2301.5,1767.6 2302.0,1761.9"/>
<polyline fill="none" stroke="#00f" stroke-width="8" stroke-linejoin="round" stroke-linecap="round" points="269.5,1419.5 270.0,1407.2 270.5,1416.2 271.0,1413.9 271.5,1420.1 272.0,1417.0 272.5,1425.5 273.0,1421.7 273.5,1429.4 274.0,1421.0 274.5,1436.6 275.0,1426.9 275.5,1432.1 276.0,1424.2 276.5,1433.2 277.0,1430.1 277.5,1436.5 278.0,1426.2 278.5,1437.7 279.0,1425.3 279.5,1436.6 280.0,1432.0 280.5,1434.6 281.0,1430.4 281.5,1438.1 282.0,1434.4 282.5,1440.0 283.0,1426.6 283.5,1440.8 284.0,1435.9 284.5,1445.8 285.0,1433.0 285.5,1444.3 286.0,1437.3 286.5,1442.2 287.0,1436.3 287.5,1440.5 288.0,1432.0 288.5,1445.8 289.0,1435.3 289.5,1439.6 290.0,1435.0 290.5,1440.4 291.0,1432.4 291.5,1437.1 292.0,1432.6 292.5,1435.1 293.0,1428.0 293.5,1436.3 294.0,1427.6 294.5,1429.0 295.0,1424.8 295.5,1427.9 296.0,1422.7 296.5,1427.2 297.0,1422.6 297.5,1425.8 298.0,1421.9 298.5,1425.9 299.0,1417.3 299.5,1421.6 300.0,1417.9 300.5,1422.4 301.0,1420.1 301.5,1427.7 302.0,1422.5 302.5,1428.7 303.0,1421.7 303.5,1429.7 304.0,1427.3 304.5,1430.0 305.0,1431.3 305.5,1434.9 306.0,1430.5 306.5,1446.1 307.0,1440.3 307.5,1445.7 308.0,1439.6 308.5,1447.3 309.0,1444.5 309.5,1449.3 310.0,1445.4 310.5,1454.5 311.0,1448.3 311.5,1451.2 312.0,1445.6 312.5,1454.9 313.0,1450.5 313.5,1459.1 314.0,1451.9 314.5,1471.0 315.0,1450.9 315.5,1469.4 316.0,1459.6 316.5,1463.0 317.0,1463.2 317.5,1464.7 318.0,1461.3 318.5,1468.5 319.0,1459.7 319.5,1474.6 320.0,1456.5 320.5,1482.9 321.0,1467.6 321.5,1478.6 322.0,1467.5 322.5,1476.2 323.0,1471.7 323.5,1478.3 324.0,1467.5 324.5,1480.7 325.0,1471.9 325.5,1478.7 326.0,1472.3 326.5,1488.4 327.0,1478.5 327.5,1490.9 328.0,1480.2 328.5,1495.0 329.0,1480.3 329.5,1486.3 330.0,1472.6 330.5,1493.3 331.0,1482.1 331.5,1491.6 332.0,1488.1 332.5,1489.7 333.0,1481.5 333.5,1496.8 334.0,1488.1 334.5,1502.7 335.0,1489.7 335.5,1496.1 336.0,1491.2 336.5,1501.6 337.0,1492.8 337.5,1502.6 338.0,1495.0 338.5,1500.9 339.0,1494.1 339.5,1500.1 340.0,1489.4 340.5,1505.7 341.0,1498.3 341.5,1506.8 342.0,1488.8 342.5,1512.6 343.0,1489.1 343.5,1508.2 344.0,1496.4 344.5,1507.0 345.0,1503.3 345.5,1504.9 346.0,1500.1 346.5,1507.2 347.0,1503.3 347.5,1507.1 348.0,1493.8 348.5,1510.0 349.0,1499.7 349.5,1511.1 350.0,1507.9 350.5,1513.8 351.0,1506.9 351.5,1518.7 352.0,1509.2 352.5,1519.0 353.0,1493.2 353.5,1516.6 354.0,1501.0 354.5,1527.0 355.0,1509.0 355.5,1519.6 356.0,1503.1 356.5,1521.6 357.0,1512.8 357.5,1521.9 358.0,1511.9 358.5,1529.2 359.0,1509.7 359.5,1528.5 360.0,1511.0 360.5,1524.9 361.0,1510.2 361.5,1527.6 362.0,1513.1 362.5,1520.8 363.0,1517.4 363.5,1526.4 364.0,1515.5 364.5,1530.2 365.0,1517.2 365.5,1520.8 366.0,1514.8 366.5,1523.1 367.0,1509.6 367.5,1525.9 368.0,1521.2 368.5,1532.3 369.0,1517.6 369.5,1528.8 370.0,1515.0 370.5,1525.3 371.0,1519.1 371.5,1523.8 372.0,1522.5 372.5,1533.0 373.0,1517.4 373.5,1534.6 374.0,1523.1 374.5,1524.1 375.0,1519.0 375.5,1525.8 376.0,1519.5 376.5,1528.0 377.0,1512.3 377.5,1524.9 378.0,1520.5 378.5,1528.4 379.0,1518.0 379.5,1529.1 380.0,1518.7 380.5,1534.8 381.0,1521.4 381.5,1530.2 382.0,1523.5 382.5,1536.2 383.0,1526.3 383.5,1541.5 384.0,1523.7 384.5,1532.0 385.0,1524.0 385.5,1529.1 386.0,1526.7 386.5,1535.2 387.0,1527.7 387.5,1533.2 388.0,1524.2 388.5,1530.4 389.0,1527.4 389.5,1532.4 390.0,1527.0 390.5,1533.4 391.0,1523.3 391.5,1538.0 392.0,1528.2 392.5,1543.0 393.0,1531.0 393.5,1533.4 394.0,1524.7 394.5,1536.2 395.0,1530.9 395.5,1539.0 396.0,1529.4 396.5,1535.2 397.0,1521.7 397.5,1546.6 398.0,1529.8 398.5,1536.2 399.0,1527.1 399.5,1539.2 400.0,1534.8 400.5,1536.6 401.0,1531.2 401.5,1536.0 402.0,1534.0 402.5,1538.3 403.0,1526.1 403.5,1539.1 404.0,1524.2 404.5,1545.9 405.0,1525.1 405.5,1544.7 406.0,1533.6 406.5,1540.7 407.0,1533.0 407.5,1539.9 408.0,1532.3 408.5,1551.7 409.0,1527.9 409.5,1547.0 410.0,1528.9 410.5,1551.8 411.0,1530.5 411.5,1551.2 412.0,1538.0 412.5,1540.8 413.0,1535.2 413.5,1540.9 414.0,1535.9 414.5,1540.9 415.0,1533.7 415.5,1551.4 416.0,1538.9 416.5,1543.8 417.0,1540.6 417.5,1544.3 418.0,1533.0 418.5,1545.1 419.0,1540.9 419.5,1550.6 420.0,1526.6 420.5,1551.9 421.0,1535.7 421.5,1544.8 422.0,1527.9 422.5,1550.8 423.0,1531.3 423.5,1552.7 424.0,1542.0 424.5,1546.0 425.0,1535.7 425.5,1550.8 426.0,1535.3 426.5,1549.0 427.0,1540.1 427.5,1554.2 428.0,1540.2 428.5,1550.7 429.0,1533.3 429.5,1551.6 430.0,1543.5 430.5,1551.4 431.0,1538.7 431.5,1558.5 432.0,1544.0 432.5,1557.0 433.0,1544.9 433.5,1552.4 434.0,1535.6 434.5,1550.1 435.0,1539.2 435.5,1546.7 436.0,1536.3 436.5,1546.3 437.0,1542.5 437.5,1548.4 438.0,1531.2 438.5,1550.4 439.0,1543.3 439.5,1549.3 440.0,1538.5 440.5,1560.0 441.0,1543.6 441.5,1554.2 442.0,1546.4 442.5,1551.0 443.0,1542.8 443.5,1554.0 444.0,1547.0 444.5,1560.0 445.0,1536.8 445.5,1553.2 446.0,1547.6 446.5,1564.9 447.0,1541.6 447.5,1549.2 448.0,1537.2 448.5,1558.7 449.0,1543.4 449.5,1567.3 450.0,1548.2 450.5,1553.6 451.0,1547.0 451.5,1553.3 452.0,1547.6 452.5,1566.8 453.0,1538.9 453.5,1551.8 454.0,1542.2 454.5,1570.2 455.0,1545.8 455.5,1562.0 456.0,1536.2 456.5,1561.0 457.0,1549.3 457.5,1555.3 458.0,1547.8 458.5,1554.2 459.0,1536.6 459.5,1557.2 460.0,1551.5 460.5,1562.8 461.0,1549.6 461.5,1556.7 462.0,1535.1 462.5,1561.5 463.0,1548.5 463.5,1553.2 464.0,1544.2 464.5,1575.1 465.0,1545.4 465.5,1562.1 466.0,1548.9 466.5,1558.3 467.0,1545.7 467.5,1565.7 468.0,1553.6 468.5,1578.2 469.0,1549.2 469.5,1561.9 470.0,1542.3 470.5,1556.1 471.0,1545.2 471.5,1562.8 472.0,1553.4 472.5,1556.1 473.0,1554.8 473.5,1562.8 474.0,1543.4 474.5,1561.9 475.0,1544.9 475.5,1569.6 476.0,1554.1 476.5,1565.1 477.0,1555.8 477.5,1567.4 478.0,1556.2 478.5,1559.4 479.0,1557.8 479.5,1566.5 480.0,1542.7 480.5,1561.8 481.0,1550.6 481.5,1572.4 482.0,1558.8 482.5,1564.0 483.0,1555.2 483.5,1570.5 484.0,1540.0 484.5,1561.5 485.0,1544.4 485.5,1568.9 486.0,1549.0 486.5,1561.3 487.0,1548.5 487.5,1573.5 488.0,1555.9 488.5,1571.0 489.0,1555.1 489.5,1565.3 490.0,1560.4 490.5,1581.2 491.0,1559.0 491.5,1579.0 492.0,1544.9 492.5,1564.8 493.0,1548.2 493.5,1569.5 494.0,1556.2 494.5,1588.0 495.0,1556.3 495.5,1568.7 496.0,1544.9 496.5,1567.3 497.0,1563.5 497.5,1584.6 498.0,1552.7 498.5,1569.6 499.0,1563.5 499.5,1589.6 500.0,1558.3 500.5,1575.8 501.0,1560.4 501.5,1566.6 502.0,1563.5 502.5,1576.2 503.0,1566.3 503.5,1584.6 504.0,1564.5 504.5,1574.3 505.0,1562.9 505.5,1595.2 506.0,1560.4 506.5,1578.0 507.0,1566.3 507.5,1577.6 508.0,1565.9 508.5,1590.6 509.0,1565.8 509.5,1573.9 510.0,1563.6 510.5,1578.0 511.0,1562.0 511.5,1588.9 512.0,1565.6 512.5,1577.2 513.0,1556.2 513.5,1591.6 514.0,1565.5 514.5,1570.6 515.0,1569.3 515.5,1577.5 516.0,1567.9 516.5,1579.1 517.0,1556.9 517.5,1574.2 518.0,1556.9 518.5,1584.6 519.0,1567.0 519.5,1578.6 520.0,1570.9 520.5,1596.3 521.0,1572.1 521.5,1577.3 522.0,1556.2 522.5,1579.4 523.0,1566.5 523.5,1573.8 524.0,1570.5 524.5,1581.7 525.0,1558.9 525.5,1585.3 526.0,1569.2 526.5,1575.6 527.0,1562.6 527.5,1579.4 528.0,1569.0 528.5,1577.8 529.0,1558.3 529.5,1574.7 530.0,1572.5 530.5,1585.4 531.0,1559.9 531.5,1582.1 532.0,1571.7 532.5,1580.4 533.0,1569.0 533.5,1601.2 534.0,1565.2 534.5,1595.5 535.0,1564.6 535.5,1582.3 536.0,1571.0 536.5,1588.2 537.0,1568.8 537.5,1581.1 538.0,1574.8 538.5,1598.6 539.0,1566.9 539.5,1580.2 540.0,1572.4 540.5,1589.4 541.0,1574.8 541.5,1579.3 542.0,1571.4 542.5,1581.2 543.0,1574.8 543.5,1577.5 544.0,1572.8 544.5,1584.7 545.0,1570.2 545.5,1578.3 546.0,1562.3 546.5,1595.0 547.0,1575.8 547.5,1596.0 548.0,1574.4 548.5,1596.1 549.0,1567.1 549.5,1584.0 550.0,1568.2 550.5,1586.7 551.0,1569.8 551.5,1593.9 552.0,1577.5 552.5,1585.0 553.0,1569.6 553.5,1584.0 554.0,1570.7 554.5,1579.9 555.0,1579.3 555.5,1587.4 556.0,1575.8 556.5,1594.9 557.0,1568.6 557.5,1583.6 558.0,1567.8 558.5,1589.2 559.0,1574.9 559.5,1590.4 560.0,1570.7 560.5,1591.4 561.0,1577.5 561.5,1589.0 562.0,1576.5 562.5,1585.0 563.0,1579.3 563.5,1593.7 564.0,1580.9 564.5,1593.1 565.0,1547.4 565.5,1589.3 566.0,1582.0 566.5,1593.8 567.0,1573.9 567.5,1600.9 568.0,1575.5 568.5,1586.3 569.0,1572.3 569.5,1599.1 570.0,1574.3 570.5,1590.0 571.0,1578.4 571.5,1598.2 572.0,1571.3 572.5,1588.1 573.0,1579.0 573.5,1587.3 574.0,1582.3 574.5,1590.8 575.0,1581.7 575.5,1600.7 576.0,1584.3 576.5,1600.0 577.0,1573.9 577.5,1590.4 578.0,1581.9 578.5,1599.5 579.0,1570.4 579.5,1601.9 580.0,1581.5 580.5,1587.7 581.0,1575.8 581.5,1595.4 582.0,1580.9 582.5,1589.9 583.0,1566.3 583.5,1590.5 584.0,1585.0 584.5,1590.7 585.0,1578.1 585.5,1593.6 586.0,1577.3 586.5,1588.9 587.0,1575.3 587.5,1595.9 588.0,1575.9 588.5,1602.2 589.0,1581.4 589.5,1598.7 590.0,1583.8 590.5,1596.1 591.0,1585.7 591.5,1600.7 592.0,1581.8 592.5,1610.6 593.0,1571.6 593.5,1596.0 594.0,1583.6 594.5,1598.9 595.0,1586.8 595.5,1603.1 596.0,1584.6 596.5,1595.0 597.0,1582.6 597.5,1597.7 598.0,1577.4 598.5,1602.8 599.0,1583.2 599.5,1594.6 600.0,1579.9 600.5,1602.4 601.0,1585.3 601.5,1596.1 602.0,1580.4 602.5,1593.2 603.0,1572.3 603.5,1605.1 604.0,1588.1 604.5,1600.6 605.0,1581.3 605.5,1600.5 606.0,1585.4 606.5,1596.6 607.0,1587.1 607.5,1597.3 608.0,1591.1 608.5,1603.9 609.0,1586.2 609.5,1599.4 610.0,1591.5 610.5,1594.1 611.0,1581.1 611.5,1604.1 612.0,1585.4 612.5,1610.9 613.0,1585.4 613.5,1596.3 614.0,1592.2 614.5,1599.2 615.0,1590.3 615.5,1606.6 616.0,1590.4 616.5,1597.2 617.0,1592.0 617.5,1614.2 618.0,1586.9 618.5,1605.0 619.0,1591.6 619.5,1602.9 620.0,1594.8 620.5,1596.9 621.0,1575.8 621.5,1615.2 622.0,1586.9 622.5,1599.6 623.0,1589.1 623.5,1597.6 624.0,1591.1 624.5,1595.8 625.0,1587.5 625.5,1612.5 626.0,1585.0 626.5,1600.4 627.0,1583.5 627.5,1600.2 628.0,1586.0 628.5,1601.9 629.0,1587.4 629.5,1596.6 630.0,1589.1 630.5,1603.4 631.0,1590.9 631.5,1618.7 632.0,1579.3 632.5,1599.3 633.0,1588.1 633.5,1610.7 634.0,1594.8 634.5,1619.3 635.0,1585.3 635.5,1607.0 636.0,1585.3 636.5,1609.6 637.0,1591.0 637.5,1601.2 638.0,1595.7 638.5,1607.2 639.0,1592.9 639.5,1605.2 640.0,1596.8 640.5,1617.2 641.0,1594.8 641.5,1623.9 642.0,1594.9 642.5,1600.7 643.0,1595.1 643.5,1598.6 644.0,1590.9 644.5,1613.9 645.0,1592.4 645.5,1605.7 646.0,1595.8 646.5,1611.6 647.0,1586.7 647.5,1625.7 648.0,1591.2 648.5,1603.1 649.0,1595.6 649.5,1606.7 650.0,1597.9 650.5,1604.2 651.0,1580.8 651.5,1601.8 652.0,1597.7 652.5,1611.1 653.0,1592.8 653.5,1606.1 654.0,1594.9 654.5,1599.8 655.0,1593.5 655.5,1606.8 656.0,1585.0 656.5,1603.7 657.0,1597.6 657.5,1609.2 658.0,1598.9 658.5,1607.4 659.0,1593.2 659.5,1619.2 660.0,1594.1 660.5,1613.0 661.0,1600.1 661.5,1610.6 662.0,1594.0 662.5,1613.4 663.0,1580.6 663.5,1603.3 664.0,1598.7 664.5,1601.6 665.0,1570.8 665.5,1616.0 666.0,1601.0 666.5,1607.8 667.0,1596.2 667.5,1613.3 668.0,1590.4 668.5,1605.9 669.0,1589.3 669.5,1620.1 670.0,1597.7 670.5,1612.2 671.0,1589.2 671.5,1603.6 672.0,1598.6 672.5,1603.1 673.0,1597.4 673.5,1613.4 674.0,1595.5 674.5,1615.1 675.0,1597.3 675.5,1610.7 676.0,1601.0 676.5,1611.7 677.0,1599.0 677.5,1633.6 678.0,1600.5 678.5,1608.9 679.0,1592.9 679.5,1610.8 680.0,1602.6 680.5,1605.4 681.0,1599.4 681.5,1612.0 682.0,1596.6 682.5,1606.4 683.0,1599.6 683.5,1612.3 684.0,1596.8 684.5,1636.3 685.0,1595.9 685.5,1611.8 686.0,1601.7 686.5,1605.6 687.0,1595.9 687.5,1610.4 688.0,1602.8 688.5,1604.2 689.0,1589.0 689.5,1610.6 690.0,1601.6 690.5,1620.9 691.0,1601.3 691.5,1626.1 692.0,1601.2 692.5,1608.6 693.0,1603.6 693.5,1615.8 694.0,1600.7 694.5,1607.6 695.0,1597.2 695.5,1609.5 696.0,1604.1 696.5,1608.2 697.0,1602.9 697.5,1608.8 698.0,1601.3 698.5,1605.6 699.0,1597.2 699.5,1618.8 700.0,1594.4 700.5,1608.1 701.0,1605.4 701.5,1607.1 702.0,1605.6 702.5,1606.1 703.0,1605.3 703.5,1614.5 704.0,1598.1 704.5,1613.5 705.0,1597.3 705.5,1626.7 706.0,1597.2 706.5,1616.9 707.0,1605.2 707.5,1613.7 708.0,1603.4 708.5,1617.8 709.0,1606.1 709.5,1630.4 710.0,1603.0 710.5,1613.8 711.0,1602.4 711.5,1616.4 712.0,1599.8 712.5,1624.3 713.0,1602.2 713.5,1629.2 714.0,1587.1 714.5,1623.9 715.0,1606.8 715.5,1614.5 716.0,1601.3 716.5,1619.4 717.0,1596.3 717.5,1608.8 718.0,1592.7 718.5,1610.2 719.0,1588.1 719.5,1617.2 720.0,1605.2 720.5,1610.9 721.0,1595.1 721.5,1611.4 722.0,1598.7 722.5,1608.8 723.0,1602.4 723.5,1614.3 724.0,1603.8 724.5,1622.1 725.0,1600.9 725.5,1609.9 726.0,1604.1 726.5,1615.4 727.0,1607.1 727.5,1619.0 728.0,1607.7 728.5,1616.2 729.0,1601.6 729.5,1610.9 730.0,1606.4 730.5,1618.4 731.0,1606.5 731.5,1615.8 732.0,1604.0 732.5,1618.0 733.0,1606.6 733.5,1626.8 734.0,1607.5 734.5,1627.8 735.0,1609.6 735.5,1622.0 736.0,1608.5 736.5,1622.9 737.0,1605.7 737.5,1615.7 738.0,1609.1 738.5,1616.7 739.0,1609.3 739.5,1612.3 740.0,1607.0 740.5,1616.2 741.0,1609.3 741.5,1612.6 742.0,1608.5 742.5,1629.2 743.0,1605.6 743.5,1620.6 744.0,1610.6 744.5,1615.1 745.0,1610.3 745.5,1621.7 746.0,1606.7 746.5,1615.8 747.0,1598.8 747.5,1613.1 748.0,1603.4 748.5,1631.3 749.0,1609.3 749.5,1617.2 750.0,1612.4 750.5,1615.3 751.0,1613.1 751.5,1630.1 752.0,1611.5 752.5,1622.7 753.0,1604.0 753.5,1624.0 754.0,1599.3 754.5,1621.5 755.0,1605.7 755.5,1623.1 756.0,1607.1 756.5,1618.9 757.0,1609.9 757.5,1638.9 758.0,1609.5 758.5,1617.0 759.0,1612.9 759.5,1624.7 760.0,1605.0 760.5,1621.3 761.0,1604.4 761.5,1630.9 762.0,1604.8 762.5,1620.2 763.0,1607.4 763.5,1616.6 764.0,1603.0 764.5,1622.7 765.0,1606.8 765.5,1618.6 766.0,1606.8 766.5,1621.3 767.0,1615.3 767.5,1619.4 768.0,1600.7 768.5,1624.6 769.0,1613.1 769.5,1622.5 770.0,1608.1 770.5,1624.4 771.0,1611.5 771.5,1619.4 772.0,1615.8 772.5,1618.3 773.0,1601.3 773.5,1630.9 774.0,1610.9 774.5,1623.7 775.0,1602.2 775.5,1620.2 776.0,1605.2 776.5,1634.4 777.0,1612.8 777.5,1620.0 778.0,1616.5 778.5,1626.4 779.0,1609.3 779.5,1621.6 780.0,1610.2 780.5,1622.3 781.0,1616.2 781.5,1622.6 782.0,1606.4 782.5,1633.9 783.0,1598.1 783.5,1624.8 784.0,1613.2 784.5,1632.8 785.0,1612.9 785.5,1631.8 786.0,1611.2 786.5,1620.8 787.0,1609.1 787.5,1624.1 788.0,1617.6 788.5,1621.1 789.0,1606.8 789.5,1623.9 790.0,1607.1 790.5,1625.8 791.0,1608.8 791.5,1621.9 792.0,1614.6 792.5,1634.2 793.0,1607.5 793.5,1620.0 794.0,1615.8 794.5,1628.5 795.0,1618.5 795.5,1622.7 796.0,1616.7 796.5,1620.4 797.0,1601.5 797.5,1634.2 798.0,1610.2 798.5,1642.6 799.0,1611.6 799.5,1628.3 800.0,1614.9 800.5,1629.3 801.0,1617.2 801.5,1629.9 802.0,1600.9 802.5,1625.9 803.0,1603.1 803.5,1630.6 804.0,1614.2 804.5,1630.1 805.0,1615.0 805.5,1627.6 806.0,1606.7 806.5,1632.2 807.0,1610.5 807.5,1636.2 808.0,1614.3 808.5,1630.5 809.0,1608.3 809.5,1621.7 810.0,1615.8 810.5,1634.4 811.0,1616.0 811.5,1620.9 812.0,1618.9 812.5,1628.1 813.0,1613.8 813.5,1630.0 814.0,1615.0 814.5,1623.0 815.0,1603.9 815.5,1639.7 816.0,1617.7 816.5,1622.3 817.0,1610.9 817.5,1629.6 818.0,1617.7 818.5,1621.9 819.0,1615.4 819.5,1623.7 820.0,1608.0 820.5,1627.1 821.0,1604.5 821.5,1645.9 822.0,1608.6 822.5,1634.8 823.0,1619.0 823.5,1632.4 824.0,1610.8 824.5,1632.6 825.0,1613.9 825.5,1631.5 826.0,1618.1 826.5,1627.5 827.0,1611.9 827.5,1634.1 828.0,1618.3 828.5,1633.3 829.0,1610.5 829.5,1640.8 830.0,1609.6 830.5,1626.2 831.0,1618.4 831.5,1623.1 832.0,1613.9 832.5,1626.4 833.0,1613.0 833.5,1626.2 834.0,1604.9 834.5,1624.1 835.0,1612.7 835.5,1625.9 836.0,1616.0 836.5,1628.0 837.0,1616.6 837.5,1624.4 838.0,1615.8 838.5,1625.3 839.0,1622.3 839.5,1636.4 840.0,1609.2 840.5,1627.6 841.0,1616.7 841.5,1631.0 842.0,1621.6 842.5,1638.1 843.0,1620.5 843.5,1624.0 844.0,1616.9 844.5,1632.9 845.0,1621.0 845.5,1624.1 846.0,1622.7 846.5,1641.6 847.0,1622.3 847.5,1641.7 848.0,1613.2 848.5,1624.4 849.0,1616.3 849.5,1625.3 850.0,1616.9 850.5,1626.9 851.0,1616.3 851.5,1629.6 852.0,1624.1 852.5,1630.3 853.0,1617.2 853.5,1657.6 854.0,1621.7 854.5,1643.6 855.0,1623.1 855.5,1633.9 856.0,1623.7 856.5,1639.2 857.0,1610.1 857.5,1626.8 858.0,1624.2 858.5,1645.0 859.0,1619.4 859.5,1625.4 860.0,1620.7 860.5,1632.8 861.0,1597.7 861.5,1629.4 862.0,1609.9 862.5,1635.2 863.0,1622.3 863.5,1629.5 864.0,1624.8 864.5,1636.7 865.0,1621.0 865.5,1630.8 866.0,1614.1 866.5,1634.5 867.0,1622.6 867.5,1634.9 868.0,1621.8 868.5,1629.6 869.0,1625.9 869.5,1628.4 870.0,1608.8 870.5,1632.8 871.0,1622.3 871.5,1634.1 872.0,1618.3 872.5,1628.5 873.0,1625.2 873.5,1631.6 874.0,1621.8 874.5,1637.7 875.0,1617.1 875.5,1628.9 876.0,1625.3 876.5,1652.0 877.0,1617.6 877.5,1629.5 878.0,1619.6 878.5,1628.8 879.0,1621.7 879.5,1629.2 880.0,1621.0 880.5,1641.1 881.0,1625.6 881.5,1629.7 882.0,1627.2 882.5,1632.0 883.0,1627.6 883.5,1639.9 884.0,1621.5 884.5,1646.1 885.0,1613.4 885.5,1641.7 886.0,1619.9 886.5,1644.4 887.0,1622.1 887.5,1628.9 888.0,1612.6 888.5,1639.9 889.0,1621.3 889.5,1631.6 890.0,1627.3 890.5,1638.0 891.0,1625.1 891.5,1633.7 892.0,1619.9 892.5,1642.0 893.0,1617.2 893.5,1634.4 894.0,1626.4 894.5,1641.7 895.0,1619.7 895.5,1630.2 896.0,1627.6 896.5,1647.0 897.0,1624.9 897.5,1635.1 898.0,1619.3 898.5,1639.5 899.0,1616.1 899.5,1643.8 900.0,1616.0 900.5,1644.3 901.0,1626.7 901.5,1642.7 902.0,1627.9 902.5,1634.9 903.0,1625.4 903.5,1657.1 904.0,1611.5 904.5,1643.4 905.0,1621.7 905.5,1632.1 906.0,1615.9 906.5,1635.8 907.0,1624.6 907.5,1633.3 908.0,1627.9 908.5,1635.5 909.0,1620.5 909.5,1632.5 910.0,1626.4 910.5,1631.5 911.0,1627.8 911.5,1640.9 912.0,1629.0 912.5,1634.4 913.0,1629.2 913.5,1641.2 914.0,1627.2 914.5,1640.7 915.0,1618.0 915.5,1637.5 916.0,1626.6 916.5,1640.2 917.0,1624.4 917.5,1644.6 918.0,1624.7 918.5,1639.5 919.0,1622.2 919.5,1632.1 920.0,1628.1 920.5,1649.7 921.0,1619.6 921.5,1651.6 922.0,1630.0 922.5,1632.4 923.0,1631.2 923.5,1640.4 924.0,1614.7 924.5,1636.1 925.0,1627.9 925.5,1651.3 926.0,1630.5 926.5,1641.7 927.0,1630.5 927.5,1645.3 928.0,1632.6 928.5,1649.0 929.0,1630.1 929.5,1644.2 930.0,1627.6 930.5,1649.4 931.0,1618.3 931.5,1636.1 932.0,1625.8 932.5,1654.1 933.0,1632.9 933.5,1636.0 934.0,1624.0 934.5,1644.1 935.0,1630.3 935.5,1640.0 936.0,1627.8 936.5,1639.8 937.0,1617.9 937.5,1641.8 938.0,1632.8 938.5,1638.2 939.0,1630.5 939.5,1652.7 940.0,1621.1 940.5,1653.7 941.0,1624.5 941.5,1641.3 942.0,1626.7 942.5,1647.3 943.0,1628.4 943.5,1653.8 944.0,1618.8 944.5,1646.0 945.0,1630.8 945.5,1637.2 946.0,1631.3 946.5,1639.2 947.0,1629.7 947.5,1642.6 948.0,1624.6 948.5,1640.4 949.0,1627.7 949.5,1649.1 950.0,1634.1 950.5,1641.3 951.0,1631.9 951.5,1659.4 952.0,1630.9 952.5,1649.9 953.0,1626.4 953.5,1652.2 954.0,1619.8 954.5,1639.1 955.0,1632.2 955.5,1637.0 956.0,1625.6 956.5,1645.5 957.0,1623.5 957.5,1641.1 958.0,1629.4 958.5,1640.2 959.0,1629.0 959.5,1643.1 960.0,1631.5 960.5,1643.8 961.0,1621.8 961.5,1648.9 962.0,1633.3 962.5,1642.9 963.0,1634.0 963.5,1657.2 964.0,1630.6 964.5,1644.7 965.0,1635.4 965.5,1651.6 966.0,1636.8 966.5,1642.7 967.0,1632.1 967.5,1637.9 968.0,1630.8 968.5,1641.7 969.0,1624.8 969.5,1661.7 970.0,1628.5 970.5,1642.5 971.0,1624.4 971.5,1645.1 972.0,1626.9 972.5,1638.4 973.0,1629.6 973.5,1642.1 974.0,1636.0 974.5,1638.6 975.0,1634.3 975.5,1660.5 976.0,1637.5 976.5,1647.9 977.0,1629.7 977.5,1646.4 978.0,1627.2 978.5,1656.7 979.0,1629.7 979.5,1649.0 980.0,1628.0 980.5,1637.8 981.0,1635.7 981.5,1669.8 982.0,1633.0 982.5,1656.9 983.0,1622.6 983.5,1643.6 984.0,1635.5 984.5,1644.1 985.0,1624.0 985.5,1656.7 986.0,1637.6 986.5,1647.1 987.0,1626.7 987.5,1638.4 988.0,1621.9 988.5,1652.0 989.0,1633.4 989.5,1665.8 990.0,1636.9 990.5,1642.1 991.0,1635.4 991.5,1638.7 992.0,1611.6 992.5,1640.3 993.0,1629.7 993.5,1640.5 994.0,1635.2 994.5,1641.2 995.0,1637.1 995.5,1646.1 996.0,1635.8 996.5,1650.6 997.0,1636.6 997.5,1642.8 998.0,1633.7 998.5,1649.9 999.0,1631.0 999.5,1648.1 1000.0,1634.8 1000.5,1658.6 1001.0,1624.1 1001.5,1638.0 1002.0,1629.7 1002.5,1644.5 1003.0,1624.9 1003.5,1643.1 1004.0,1635.1 1004.5,1642.6 1005.0,1636.8 1005.5,1640.5 1006.0,1632.5 1006.5,1641.9 1007.0,1629.7 1007.5,1637.4 1008.0,1629.7 1008.5,1655.4 1009.0,1629.8 1009.5,1651.8 1010.0,1621.3 1010.5,1639.0 1011.0,1635.3 1011.5,1649.6 1012.0,1633.0 1012.5,1644.3 1013.0,1623.2 1013.5,1641.8 1014.0,1631.6 1014.5,1640.4 1015.0,1625.9 1015.5,1641.3 1016.0,1622.6 1016.5,1651.2 1017.0,1634.1 1017.5,1647.5 1018.0,1623.5 1018.5,1647.2 1019.0,1629.3 1019.5,1658.2 1020.0,1626.1 1020.5,1637.9 1021.0,1624.4 1021.5,1658.5 1022.0,1625.7 1022.5,1634.9 1023.0,1634.0 1023.5,1645.4 1024.0,1631.1 1024.5,1645.6 1025.0,1625.4 1025.5,1638.3 1026.0,1623.0 1026.5,1650.1 1027.0,1621.9 1027.5,1641.2 1028.0,1630.4 1028.5,1633.0 1029.0,1626.1 1029.5,1641.5 1030.0,1630.1 1030.5,1636.6 1031.0,1632.1 1031.5,1641.1 1032.0,1626.3 1032.5,1637.6 1033.0,1614.4 1033.5,1654.7 1034.0,1623.6 1034.5,1634.5 1035.0,1628.6 1035.5,1637.0 1036.0,1622.7 1036.5,1634.7 1037.0,1629.1 1037.5,1637.5 1038.0,1618.3 1038.5,1633.9 1039.0,1625.5 1039.5,1635.5 1040.0,1629.9 1040.5,1652.0 1041.0,1628.0 1041.5,1630.9 1042.0,1618.9 1042.5,1647.6 1043.0,1625.5 1043.5,1637.4 1044.0,1624.5 1044.5,1632.9 1045.0,1622.9 1045.5,1631.6 1046.0,1614.9 1046.5,1628.5 1047.0,1624.6 1047.5,1634.2 1048.0,1623.1 1048.5,1630.9 1049.0,1619.1 1049.5,1638.7 1050.0,1619.5 1050.5,1636.8 1051.0,1621.6 1051.5,1633.5 1052.0,1617.5 1052.5,1629.0 1053.0,1623.9 1053.5,1625.7 1054.0,1603.4 1054.5,1623.8 1055.0,1621.3 1055.5,1626.9 1056.0,1622.4 1056.5,1625.0 1057.0,1612.4 1057.5,1642.8 1058.0,1618.9 1058.5,1638.2 1059.0,1618.5 1059.5,1621.9 1060.0,1610.1 1060.5,1637.4 1061.0,1616.1 1061.5,1624.7 1062.0,1608.4 1062.5,1626.5 1063.0,1617.3 1063.5,1639.2 1064.0,1616.1 1064.5,1616.5 1065.0,1610.4 1065.5,1619.0 1066.0,1614.1 1066.5,1622.3 1067.0,1610.0 1067.5,1632.4 1068.0,1612.0 1068.5,1629.0 1069.0,1610.6 1069.5,1615.3 1070.0,1602.5 1070.5,1625.6 1071.0,1603.3 1071.5,1617.8 1072.0,1607.8 1072.5,1618.3 1073.0,1598.7 1073.5,1607.1 1074.0,1604.7 1074.5,1610.5 1075.0,1604.8 1075.5,1608.4 1076.0,1599.7 1076.5,1607.4 1077.0,1601.8 1077.5,1608.8 1078.0,1588.3 1078.5,1607.4 1079.0,1595.3 1079.5,1599.0 1080.0,1587.9 1080.5,1615.2 1081.0,1595.3 1081.5,1619.0 1082.0,1585.8 1082.5,1599.1 1083.0,1573.6 1083.5,1611.5 1084.0,1589.5 1084.5,1590.7 1085.0,1587.8 1085.5,1596.2 1086.0,1568.3 1086.5,1587.1 1087.0,1576.9 1087.5,1600.6 1088.0,1576.5 1088.5,1584.3 1089.0,1568.9 1089.5,1579.2 1090.0,1570.7 1090.5,1577.1 1091.0,1564.5 1091.5,1581.7 1092.0,1568.6 1092.5,1578.8 1093.0,1560.2 1093.5,1574.7 1094.0,1559.9 1094.5,1561.6 1095.0,1553.8 1095.5,1558.6 1096.0,1542.6 1096.5,1559.7 1097.0,1543.3 1097.5,1557.5 1098.0,1532.6 1098.5,1546.3 1099.0,1532.8 1099.5,1551.3 1100.0,1528.7 1100.5,1544.0 1101.0,1508.1 1101.5,1524.8 1102.0,1497.4 1102.5,1515.2 1103.0,1494.5 1103.5,1507.1 1104.0,1488.0 1104.5,1489.0 1105.0,1478.3 1105.5,1486.9 1106.0,1464.4 1106.5,1469.7 1107.0,1454.4 1107.5,1459.6 1108.0,1442.7 1108.5,1447.1 1109.0,1435.7 1109.5,1439.2 1110.0,1426.7 1110.5,1433.4 1111.0,1406.9 1111.5,1425.5 1112.0,1403.9 1112.5,1415.7 1113.0,1392.8 1113.5,1399.9 1114.0,1387.7 1114.5,1389.9 1115.0,1381.7 1115.5,1381.0 1116.0,1369.5 1116.5,1369.3 1117.0,1354.9 1117.5,1360.3 1118.0,1351.0 1118.5,1346.2 1119.0,1337.8 1119.5,1338.3 1120.0,1324.2 1120.5,1321.2 1121.0,1305.8 1121.5,1319.6 1122.0,1290.1 1122.5,1300.1 1123.0,1275.8 1123.5,1278.5 1124.0,1261.9 1124.5,1262.4 1125.0,1245.8 1125.5,1252.9 1126.0,1232.9 1126.5,1239.0 1127.0,1218.8 1127.5,1216.6 1128.0,1204.7 1128.5,1201.0 1129.0,1188.3 1129.5,1189.4 1130.0,1171.1 1130.5,1171.4 1131.0,1161.3 1131.5,1154.5 1132.0,1142.7 1132.5,1133.0 1133.0,1119.4 1133.5,1110.4 1134.0,1091.1 1134.5,1082.0 1135.0,1066.4 1135.5,1059.6 1136.0,1042.9 1136.5,1038.9 1137.0,1025.5 1137.5,1017.2 1138.0,1005.2 1138.5,995.9 1139.0,979.6 1139.5,967.3 1140.0,945.7 1140.5,925.8 1141.0,876.4 1141.5,792.0 1142.0,782.0 1142.5,809.1 1143.0,844.7 1143.5,886.1 1144.0,912.3 1144.5,938.7 1145.0,957.7 1145.5,977.6 1146.0,995.1 1146.5,1015.5 1147.0,1030.5 1147.5,1049.3 1148.0,1066.3 1148.5,1089.6 1149.0,1107.6 1149.5,1131.2 1150.0,1141.2 1150.5,1158.3 1151.0,1166.8 1151.5,1179.1 1152.0,1186.4 1152.5,1199.9 1153.0,1201.0 1153.5,1219.5 1154.0,1221.3 1154.5,1231.4 1155.0,1232.7 1155.5,1248.3 1156.0,1255.9 1156.5,1268.2 1157.0,1274.5 1157.5,1291.9 1158.0,1299.5 1158.5,1313.1 1159.0,1322.1 1159.5,1340.5 1160.0,1337.1 1160.5,1356.7 1161.0,1364.8 1161.5,1377.7 1162.0,1376.3 1162.5,1398.1 1163.0,1397.2 1163.5,1408.9 1164.0,1411.2 1164.5,1430.0 1165.0,1422.7 1165.5,1442.6 1166.0,1430.4 1166.5,1442.5 1167.0,1445.1 1167.5,1450.6 1168.0,1453.8 1168.5,1475.2 1169.0,1460.0 1169.5,1476.3 1170.0,1467.2 1170.5,1479.7 1171.0,1477.3 1171.5,1486.5 1172.0,1479.7 1172.5,1502.8 1173.0,1491.3 1173.5,1497.6 1174.0,1496.4 1174.5,1502.5 1175.0,1493.5 1175.5,1511.2 1176.0,1500.8 1176.5,1540.3 1177.0,1511.8 1177.5,1527.2 1178.0,1504.2 1178.5,1522.3 1179.0,1511.1 1179.5,1532.2 1180.0,1524.0 1180.5,1547.6 1181.0,1528.0 1181.5,1545.4 1182.0,1526.8 1182.5,1546.1 1183.0,1532.4 1183.5,1568.0 1184.0,1535.2 1184.5,1546.7 1185.0,1536.7 1185.5,1563.8 1186.0,1548.0 1186.5,1563.3 1187.0,1554.7 1187.5,1557.9 1188.0,1557.8 1188.5,1580.6 1189.0,1554.9 1189.5,1575.4 1190.0,1564.6 1190.5,1569.9 1191.0,1568.9 1191.5,1590.7 1192.0,1572.1 1192.5,1579.1 1193.0,1576.4 1193.5,1597.9 1194.0,1580.1 1194.5,1588.1 1195.0,1587.3 1195.5,1592.5 1196.0,1586.7 1196.5,1600.6 1197.0,1594.9 1197.5,1607.1 1198.0,1599.8 1198.5,1604.0 1199.0,1601.4 1199.5,1625.6 1200.0,1598.6 1200.5,1624.7 1201.0,1605.8 1201.5,1615.7 1202.0,1607.0 1202.5,1619.3 1203.0,1612.4 1203.5,1633.4 1204.0,1620.9 1204.5,1626.1 1205.0,1624.4 1205.5,1637.9 1206.0,1620.4 1206.5,1631.8 1207.0,1616.9 1207.5,1634.3 1208.0,1629.9 1208.5,1651.5 1209.0,1628.9 1209.5,1633.7 1210.0,1623.3 1210.5,1635.3 1211.0,1635.1 1211.5,1638.2 1212.0,1624.3 1212.5,1647.9 1213.0,1633.7 1213.5,1640.9 1214.0,1629.8 1214.5,1642.5 1215.0,1627.9 1215.5,1647.1 1216.0,1632.9 1216.5,1647.0 1217.0,1629.4 1217.5,1666.1 1218.0,1640.4 1218.5,1650.9 1219.0,1642.9 1219.5,1650.5 1220.0,1642.5 1220.5,1648.0 1221.0,1642.2 1221.5,1651.5 1222.0,1641.9 1222.5,1659.0 1223.0,1640.5 1223.5,1657.2 1224.0,1622.0 1224.5,1660.1 1225.0,1648.3 1225.5,1653.7 1226.0,1638.1 1226.5,1667.4 1227.0,1649.1 1227.5,1658.5 1228.0,1651.1 1228.5,1656.4 1229.0,1647.7 1229.5,1660.1 1230.0,1651.1 1230.5,1669.1 1231.0,1650.2 1231.5,1656.0 1232.0,1647.1 1232.5,1670.1 1233.0,1647.6 1233.5,1675.9 1234.0,1648.9 1234.5,1666.6 1235.0,1655.9 1235.5,1671.0 1236.0,1657.0 1236.5,1670.3 1237.0,1657.1 1237.5,1680.5 1238.0,1646.9 1238.5,1665.8 1239.0,1658.8 1239.5,1660.2 1240.0,1657.1 1240.5,1662.7 1241.0,1650.8 1241.5,1667.4 1242.0,1652.6 1242.5,1677.8 1243.0,1650.4 1243.5,1668.7 1244.0,1658.9 1244.5,1674.6 1245.0,1657.7 1245.5,1673.3 1246.0,1661.1 1246.5,1672.6 1247.0,1658.2 1247.5,1685.2 1248.0,1656.5 1248.5,1675.3 1249.0,1657.4 1249.5,1664.7 1250.0,1657.9 1250.5,1667.7 1251.0,1650.4 1251.5,1676.0 1252.0,1655.8 1252.5,1678.1 1253.0,1649.7 1253.5,1664.7 1254.0,1659.9 1254.5,1664.3 1255.0,1658.6 1255.5,1665.0 1256.0,1660.4 1256.5,1663.4 1257.0,1653.4 1257.5,1675.7 1258.0,1651.6 1258.5,1667.7 1259.0,1662.1 1259.5,1680.0 1260.0,1657.1 1260.5,1672.9 1261.0,1660.5 1261.5,1672.6 1262.0,1651.8 1262.5,1665.2 1263.0,1653.8 1263.5,1667.5 1264.0,1649.5 1264.5,1667.7 1265.0,1660.7 1265.5,1670.0 1266.0,1657.0 1266.5,1667.5 1267.0,1656.2 1267.5,1664.1 1268.0,1662.5 1268.5,1674.9 1269.0,1656.5 1269.5,1666.4 1270.0,1661.2 1270.5,1665.9 1271.0,1662.4 1271.5,1681.1 1272.0,1643.7 1272.5,1665.1 1273.0,1660.8 1273.5,1676.8 1274.0,1655.6 1274.5,1668.7 1275.0,1656.4 1275.5,1668.2 1276.0,1648.9 1276.5,1667.4 1277.0,1655.0 1277.5,1672.2 1278.0,1658.1 1278.5,1684.1 1279.0,1662.8 1279.5,1672.4 1280.0,1661.2 1280.5,1675.5 1281.0,1661.0 1281.5,1681.4 1282.0,1663.9 1282.5,1675.6 1283.0,1657.9 1283.5,1669.3 1284.0,1645.3 1284.5,1679.3 1285.0,1654.4 1285.5,1678.7 1286.0,1650.5 1286.5,1679.9 1287.0,1658.3 1287.5,1676.9 1288.0,1663.1 1288.5,1667.1 1289.0,1659.7 1289.5,1668.4 1290.0,1664.0 1290.5,1669.2 1291.0,1656.7 1291.5,1674.3 1292.0,1652.3 1292.5,1669.9 1293.0,1661.3 1293.5,1675.0 1294.0,1663.2 1294.5,1687.7 1295.0,1665.5 1295.5,1681.5 1296.0,1661.9 1296.5,1677.5 1297.0,1662.0 1297.5,1673.3 1298.0,1666.4 1298.5,1690.1 1299.0,1669.1 1299.5,1681.0 1300.0,1661.0 1300.5,1678.6 1301.0,1668.4 1301.5,1670.9 1302.0,1661.7 1302.5,1673.0 1303.0,1669.1 1303.5,1675.0 1304.0,1670.6 1304.5,1675.1 1305.0,1664.4 1305.5,1680.6 1306.0,1667.9 1306.5,1689.8 1307.0,1666.0 1307.5,1676.0 1308.0,1652.3 1308.5,1677.1 1309.0,1668.7 1309.5,1678.4 1310.0,1664.5 1310.5,1692.4 1311.0,1661.5 1311.5,1675.9 1312.0,1662.4 1312.5,1688.4 1313.0,1665.4 1313.5,1703.1 1314.0,1667.3 1314.5,1677.0 1315.0,1666.3 1315.5,1676.6 1316.0,1664.8 1316.5,1676.0 1317.0,1666.0 1317.5,1678.5 1318.0,1674.1 1318.5,1692.7 1319.0,1669.1 1319.5,1686.9 1320.0,1674.3 1320.5,1679.3 1321.0,1675.9 1321.5,1678.6 1322.0,1676.8 1322.5,1684.5 1323.0,1672.7 1323.5,1682.2 1324.0,1676.7 1324.5,1688.9 1325.0,1671.9 1325.5,1684.2 1326.0,1677.5 1326.5,1680.0 1327.0,1676.6 1327.5,1684.1 1328.0,1677.4 1328.5,1691.8 1329.0,1654.3 1329.5,1678.3 1330.0,1664.8 1330.5,1687.8 1331.0,1668.7 1331.5,1685.4 1332.0,1668.8 1332.5,1681.9 1333.0,1675.0 1333.5,1691.3 1334.0,1666.0 1334.5,1684.1 1335.0,1675.6 1335.5,1687.5 1336.0,1663.7 1336.5,1682.4 1337.0,1676.8 1337.5,1680.5 1338.0,1678.5 1338.5,1683.0 1339.0,1672.4 1339.5,1700.7 1340.0,1664.5 1340.5,1682.7 1341.0,1676.2 1341.5,1681.8 1342.0,1672.2 1342.5,1682.0 1343.0,1676.5 1343.5,1691.4 1344.0,1680.1 1344.5,1684.6 1345.0,1676.0 1345.5,1687.8 1346.0,1671.9 1346.5,1685.3 1347.0,1675.7 1347.5,1685.3 1348.0,1680.3 1348.5,1683.5 1349.0,1672.9 1349.5,1689.1 1350.0,1674.0 1350.5,1683.0 1351.0,1675.0 1351.5,1692.4 1352.0,1677.1 1352.5,1682.2 1353.0,1667.9 1353.5,1704.4 1354.0,1674.3 1354.5,1688.5 1355.0,1668.6 1355.5,1700.1 1356.0,1677.3 1356.5,1690.1 1357.0,1667.7 1357.5,1705.6 1358.0,1680.5 1358.5,1685.3 1359.0,1676.4 1359.5,1689.9 1360.0,1668.9 1360.5,1698.0 1361.0,1671.0 1361.5,1683.6 1362.0,1675.5 1362.5,1696.4 1363.0,1668.6 1363.5,1689.9 1364.0,1680.3 1364.5,1687.7 1365.0,1674.1 1365.5,1685.4 1366.0,1664.2 1366.5,1687.4 1367.0,1681.0 1367.5,1690.7 1368.0,1679.4 1368.5,1685.6 1369.0,1678.1 1369.5,1689.2 1370.0,1672.7 1370.5,1688.4 1371.0,1669.2 1371.5,1685.8 1372.0,1668.9 1372.5,1703.2 1373.0,1668.6 1373.5,1693.3 1374.0,1680.3 1374.5,1688.8 1375.0,1672.6 1375.5,1683.8 1376.0,1678.2 1376.5,1690.3 1377.0,1674.0 1377.5,1691.1 1378.0,1681.9 1378.5,1700.7 1379.0,1676.7 1379.5,1687.1 1380.0,1678.4 1380.5,1687.6 1381.0,1676.4 1381.5,1683.8 1382.0,1672.7 1382.5,1707.8 1383.0,1678.3 1383.5,1687.2 1384.0,1669.4 1384.5,1696.4 1385.0,1675.8 1385.5,1694.1 1386.0,1676.9 1386.5,1688.2 1387.0,1679.5 1387.5,1687.0 1388.0,1675.1 1388.5,1685.2 1389.0,1674.2 1389.5,1685.5 1390.0,1664.2 1390.5,1688.8 1391.0,1682.7 1391.5,1692.5 1392.0,1671.7 1392.5,1701.1 1393.0,1667.8 1393.5,1689.8 1394.0,1670.3 1394.5,1683.8 1395.0,1671.4 1395.5,1683.3 1396.0,1680.6 1396.5,1687.9 1397.0,1674.6 1397.5,1692.6 1398.0,1679.3 1398.5,1689.9 1399.0,1680.3 1399.5,1693.1 1400.0,1674.7 1400.5,1690.1 1401.0,1676.9 1401.5,1692.1 1402.0,1671.7 1402.5,1695.2 1403.0,1670.0 1403.5,1684.3 1404.0,1676.2 1404.5,1701.8 1405.0,1682.8 1405.5,1685.9 1406.0,1672.1 1406.5,1706.1 1407.0,1681.6 1407.5,1693.5 1408.0,1675.6 1408.5,1689.6 1409.0,1676.2 1409.5,1699.7 1410.0,1680.5 1410.5,1684.8 1411.0,1681.2 1411.5,1686.1 1412.0,1678.8 1412.5,1691.3 1413.0,1674.5 1413.5,1688.8 1414.0,1672.7 1414.5,1684.6 1415.0,1672.0 1415.5,1691.8 1416.0,1675.2 1416.5,1708.0 1417.0,1682.4 1417.5,1696.5 1418.0,1679.2 1418.5,1708.7 1419.0,1679.2 1419.5,1700.3 1420.0,1679.8 1420.5,1700.2 1421.0,1671.6 1421.5,1693.9 1422.0,1685.0 1422.5,1692.5 1423.0,1683.1 1423.5,1692.5 1424.0,1670.0 1424.5,1693.9 1425.0,1680.5 1425.5,1697.2 1426.0,1675.1 1426.5,1688.5 1427.0,1679.6 1427.5,1692.5 1428.0,1684.1 1428.5,1697.3 1429.0,1683.3 1429.5,1694.2 1430.0,1670.5 1430.5,1698.9 1431.0,1681.8 1431.5,1717.7 1432.0,1676.7 1432.5,1698.5 1433.0,1685.2 1433.5,1691.8 1434.0,1681.6 1434.5,1687.9 1435.0,1674.1 1435.5,1691.3 1436.0,1680.9 1436.5,1703.8 1437.0,1686.1 1437.5,1691.1 1438.0,1684.7 1438.5,1698.7 1439.0,1684.5 1439.5,1696.2 1440.0,1685.7 1440.5,1697.4 1441.0,1681.9 1441.5,1702.3 1442.0,1684.6 1442.5,1691.5 1443.0,1680.9 1443.5,1688.7 1444.0,1682.7 1444.5,1693.4 1445.0,1679.7 1445.5,1698.7 1446.0,1683.6 1446.5,1694.0 1447.0,1680.0 1447.5,1701.6 1448.0,1687.9 1448.5,1695.2 1449.0,1677.1 1449.5,1690.9 1450.0,1685.4 1450.5,1696.6 1451.0,1688.8 1451.5,1694.3 1452.0,1676.9 1452.5,1695.7 1453.0,1675.4 1453.5,1700.3 1454.0,1683.2 1454.5,1690.0 1455.0,1680.0 1455.5,1695.9 1456.0,1689.0 1456.5,1695.6 1457.0,1688.9 1457.5,1696.8 1458.0,1680.8 1458.5,1696.0 1459.0,1679.3 1459.5,1692.8 1460.0,1686.2 1460.5,1703.0 1461.0,1682.4 1461.5,1693.4 1462.0,1680.2 1462.5,1701.1 1463.0,1687.9 1463.5,1694.8 1464.0,1675.9 1464.5,1691.9 1465.0,1682.0 1465.5,1693.2 1466.0,1686.0 1466.5,1695.8 1467.0,1679.5 1467.5,1689.9 1468.0,1685.3 1468.5,1698.1 1469.0,1682.8 1469.5,1692.0 1470.0,1688.8 1470.5,1692.7 1471.0,1688.6 1471.5,1691.8 1472.0,1682.2 1472.5,1697.1 1473.0,1686.7 1473.5,1700.9 1474.0,1679.3 1474.5,1698.9 1475.0,1681.5 1475.5,1697.2 1476.0,1689.5 1476.5,1694.5 1477.0,1683.6 1477.5,1707.6 1478.0,1681.2 1478.5,1695.7 1479.0,1688.6 1479.5,1692.4 1480.0,1681.0 1480.5,1697.9 1481.0,1681.5 1481.5,1693.2 1482.0,1688.4 1482.5,1704.5 1483.0,1683.3 1483.5,1691.1 1484.0,1689.0 1484.5,1693.0 1485.0,1675.7 1485.5,1690.0 1486.0,1686.9 1486.5,1707.1 1487.0,1685.7 1487.5,1695.6 1488.0,1678.6 1488.5,1700.5 1489.0,1688.1 1489.5,1694.4 1490.0,1688.9 1490.5,1691.7 1491.0,1683.5 1491.5,1698.1 1492.0,1686.8 1492.5,1690.9 1493.0,1677.1 1493.5,1697.9 1494.0,1685.9 1494.5,1700.5 1495.0,1679.2 1495.5,1702.6 1496.0,1684.0 1496.5,1704.1 1497.0,1688.6 1497.5,1696.9 1498.0,1672.7 1498.5,1694.1 1499.0,1676.5 1499.5,1691.4 1500.0,1689.9 1500.5,1697.9 1501.0,1682.7 1501.5,1693.3 1502.0,1685.6 1502.5,1695.4 1503.0,1678.0 1503.5,1692.1 1504.0,1673.2 1504.5,1697.3 1505.0,1686.8 1505.5,1695.7 1506.0,1683.8 1506.5,1694.1 1507.0,1687.9 1507.5,1708.0 1508.0,1685.7 1508.5,1701.7 1509.0,1687.8 1509.5,1696.0 1510.0,1685.9 1510.5,1708.8 1511.0,1686.8 1511.5,1692.9 1512.0,1685.2 1512.5,1693.9 1513.0,1687.9 1513.5,1696.2 1514.0,1687.4 1514.5,1692.3 1515.0,1670.9 1515.5,1691.7 1516.0,1685.0 1516.5,1698.6 1517.0,1687.0 1517.5,1695.1 1518.0,1685.8 1518.5,1700.6 1519.0,1689.0 1519.5,1705.6 1520.0,1683.9 1520.5,1698.7 1521.0,1687.6 1521.5,1698.1 1522.0,1688.9 1522.5,1694.6 1523.0,1687.9 1523.5,1695.9 1524.0,1682.9 1524.5,1692.6 1525.0,1687.4 1525.5,1690.0 1526.0,1672.6 1526.5,1692.1 1527.0,1678.6 1527.5,1703.1 1528.0,1677.1 1528.5,1705.9 1529.0,1683.0 1529.5,1694.4 1530.0,1681.8 1530.5,1691.4 1531.0,1684.5 1531.5,1698.4 1532.0,1684.3 1532.5,1693.5 1533.0,1675.0 1533.5,1689.5 1534.0,1671.1 1534.5,1716.2 1535.0,1678.5 1535.5,1689.4 1536.0,1681.1 1536.5,1690.4 1537.0,1684.4 1537.5,1689.6 1538.0,1681.2 1538.5,1697.9 1539.0,1686.7 1539.5,1688.8 1540.0,1687.8 1540.5,1689.7 1541.0,1684.1 1541.5,1688.7 1542.0,1684.7 1542.5,1701.8 1543.0,1682.3 1543.5,1705.8 1544.0,1687.2 1544.5,1702.7 1545.0,1677.8 1545.5,1691.9 1546.0,1664.4 1546.5,1690.8 1547.0,1683.8 1547.5,1692.2 1548.0,1678.7 1548.5,1694.7 1549.0,1687.8 1549.5,1708.6 1550.0,1679.7 1550.5,1690.5 1551.0,1683.6 1551.5,1699.4 1552.0,1684.1 1552.5,1693.7 1553.0,1673.9 1553.5,1708.9 1554.0,1687.5 1554.5,1692.0 1555.0,1685.8 1555.5,1712.8 1556.0,1689.9 1556.5,1703.5 1557.0,1685.1 1557.5,1691.5 1558.0,1688.4 1558.5,1696.9 1559.0,1686.4 1559.5,1699.0 1560.0,1681.1 1560.5,1694.9 1561.0,1680.7 1561.5,1697.7 1562.0,1684.2 1562.5,1694.2 1563.0,1683.7 1563.5,1692.7 1564.0,1687.6 1564.5,1697.7 1565.0,1691.6 1565.5,1702.7 1566.0,1689.7 1566.5,1693.6 1567.0,1680.7 1567.5,1693.6 1568.0,1683.5 1568.5,1700.7 1569.0,1689.1 1569.5,1698.3 1570.0,1685.0 1570.5,1694.0 1571.0,1682.2 1571.5,1705.5 1572.0,1685.6 1572.5,1702.4 1573.0,1678.8 1573.5,1707.5 1574.0,1689.8 1574.5,1705.0 1575.0,1691.9 1575.5,1703.7 1576.0,1693.0 1576.5,1695.0 1577.0,1689.6 1577.5,1698.3 1578.0,1681.4 1578.5,1699.4 1579.0,1686.4 1579.5,1694.2 1580.0,1693.1 1580.5,1715.3 1581.0,1676.0 1581.5,1700.4 1582.0,1678.9 1582.5,1696.8 1583.0,1691.7 1583.5,1731.6 1584.0,1691.0 1584.5,1711.5 1585.0,1683.4 1585.5,1698.2 1586.0,1690.0 1586.5,1710.3 1587.0,1692.5 1587.5,1695.8 1588.0,1689.9 1588.5,1709.0 1589.0,1687.3 1589.5,1697.1 1590.0,1689.6 1590.5,1703.2 1591.0,1691.3 1591.5,1695.3 1592.0,1692.7 1592.5,1700.8 1593.0,1693.3 1593.5,1695.6 1594.0,1682.6 1594.5,1704.7 1595.0,1691.6 1595.5,1710.2 1596.0,1692.1 1596.5,1700.9 1597.0,1687.5 1597.5,1700.5 1598.0,1688.7 1598.5,1703.0 1599.0,1688.7 1599.5,1694.7 1600.0,1672.3 1600.5,1715.6 1601.0,1694.0 1601.5,1696.9 1602.0,1686.8 1602.5,1698.2 1603.0,1674.4 1603.5,1707.5 1604.0,1685.5 1604.5,1695.2 1605.0,1683.3 1605.5,1705.6 1606.0,1690.3 1606.5,1702.8 1607.0,1687.9 1607.5,1700.7 1608.0,1690.7 1608.5,1698.5 1609.0,1693.8 1609.5,1695.9 1610.0,1689.8 1610.5,1701.0 1611.0,1693.3 1611.5,1696.5 1612.0,1694.1 1612.5,1702.9 1613.0,1681.0 1613.5,1699.5 1614.0,1688.8 1614.5,1696.5 1615.0,1685.1 1615.5,1716.8 1616.0,1678.4 1616.5,1697.1 1617.0,1684.6 1617.5,1695.8 1618.0,1676.8 1618.5,1699.5 1619.0,1684.6 1619.5,1699.7 1620.0,1684.3 1620.5,1709.2 1621.0,1693.1 1621.5,1698.1 1622.0,1677.6 1622.5,1698.1 1623.0,1684.5 1623.5,1701.9 1624.0,1688.1 1624.5,1704.6 1625.0,1690.1 1625.5,1712.5 1626.0,1690.0 1626.5,1701.0 1627.0,1689.7 1627.5,1696.8 1628.0,1693.0 1628.5,1700.1 1629.0,1690.0 1629.5,1702.0 1630.0,1692.5 1630.5,1708.6 1631.0,1694.3 1631.5,1710.2 1632.0,1694.6 1632.5,1696.1 1633.0,1686.4 1633.5,1703.2 1634.0,1679.7 1634.5,1707.9 1635.0,1683.7 1635.5,1707.4 1636.0,1693.5 1636.5,1695.8 1637.0,1689.9 1637.5,1695.4 1638.0,1684.1 1638.5,1700.1 1639.0,1691.4 1639.5,1702.0 1640.0,1691.4 1640.5,1700.5 1641.0,1680.3 1641.5,1705.9 1642.0,1694.7 1642.5,1699.2 1643.0,1688.7 1643.5,1698.6 1644.0,1690.8 1644.5,1709.5 1645.0,1686.4 1645.5,1706.6 1646.0,1692.7 1646.5,1699.8 1647.0,1690.7 1647.5,1699.1 1648.0,1691.5 1648.5,1700.3 1649.0,1685.7 1649.5,1695.3 1650.0,1687.9 1650.5,1705.5 1651.0,1686.7 1651.5,1701.5 1652.0,1687.7 1652.5,1695.1 1653.0,1694.2 1653.5,1700.8 1654.0,1689.7 1654.5,1708.1 1655.0,1683.7 1655.5,1704.7 1656.0,1694.1 1656.5,1698.5 1657.0,1692.3 1657.5,1709.6 1658.0,1684.7 1658.5,1705.1 1659.0,1687.7 1659.5,1701.5 1660.0,1684.0 1660.5,1708.6 1661.0,1691.5 1661.5,1697.5 1662.0,1691.8 1662.5,1694.5 1663.0,1685.6 1663.5,1704.3 1664.0,1689.3 1664.5,1702.3 1665.0,1689.4 1665.5,1709.0 1666.0,1675.9 1666.5,1704.7 1667.0,1691.5 1667.5,1704.6 1668.0,1689.1 1668.5,1696.0 1669.0,1686.0 1669.5,1709.5 1670.0,1693.0 1670.5,1697.4 1671.0,1685.2 1671.5,1703.1 1672.0,1687.1 1672.5,1696.0 1673.0,1691.2 1673.5,1696.8 1674.0,1691.3 1674.5,1695.4 1675.0,1681.8 1675.5,1695.7 1676.0,1685.0 1676.5,1693.7 1677.0,1681.8 1677.5,1699.0 1678.0,1693.0 1678.5,1697.0 1679.0,1690.1 1679.5,1695.2 1680.0,1686.2 1680.5,1695.5 1681.0,1685.6 1681.5,1703.3 1682.0,1685.7 1682.5,1700.9 1683.0,1689.7 1683.5,1696.5 1684.0,1685.4 1684.5,1704.4 1685.0,1691.7 1685.5,1711.1 1686.0,1689.0 1686.5,1699.6 1687.0,1682.4 1687.5,1697.6 1688.0,1686.0 1688.5,1696.0 1689.0,1689.7 1689.5,1699.6 1690.0,1680.8 1690.5,1697.1 1691.0,1690.5 1691.5,1705.0 1692.0,1687.6 1692.5,1695.1 1693.0,1688.8 1693.5,1697.6 1694.0,1690.6 1694.5,1706.5 1695.0,1690.0 1695.5,1693.0 1696.0,1687.8 1696.5,1715.9 1697.0,1678.5 1697.5,1696.2 1698.0,1685.6 1698.5,1698.3 1699.0,1689.4 1699.5,1692.5 1700.0,1690.0 1700.5,1699.5 1701.0,1684.1 1701.5,1695.3 1702.0,1688.2 1702.5,1711.6 1703.0,1689.9 1703.5,1702.6 1704.0,1684.9 1704.5,1692.2 1705.0,1678.3 1705.5,1698.0 1706.0,1680.9 1706.5,1702.6 1707.0,1687.1 1707.5,1712.9 1708.0,1684.6 1708.5,1702.5 1709.0,1686.2 1709.5,1691.5 1710.0,1676.6 1710.5,1702.3 1711.0,1676.5 1711.5,1692.7 1712.0,1686.5 1712.5,1692.4 1713.0,1680.8 1713.5,1704.1 1714.0,1682.2 1714.5,1690.5 1715.0,1682.5 1715.5,1693.2 1716.0,1685.1 1716.5,1699.1 1717.0,1681.8 1717.5,1697.6 1718.0,1667.1 1718.5,1690.4 1719.0,1675.6 1719.5,1700.5 1720.0,1683.6 1720.5,1695.0 1721.0,1684.0 1721.5,1696.8 1722.0,1683.2 1722.5,1688.5 1723.0,1683.8 1723.5,1693.7 1724.0,1686.5 1724.5,1687.6 1725.0,1675.8 1725.5,1690.0 1726.0,1686.1 1726.5,1687.4 1727.0,1686.6 1727.5,1692.1 1728.0,1680.0 1728.5,1697.6 1729.0,1674.2 1729.5,1697.4 1730.0,1682.1 1730.5,1702.2 1731.0,1682.3 1731.5,1687.1 1732.0,1679.5 1732.5,1687.8 1733.0,1683.0 1733.5,1700.2 1734.0,1679.8 1734.5,1695.5 1735.0,1678.2 1735.5,1698.5 1736.0,1683.0 1736.5,1690.6 1737.0,1677.0 1737.5,1703.2 1738.0,1671.9 1738.5,1688.2 1739.0,1681.0 1739.5,1686.6 1740.0,1675.4 1740.5,1687.4 1741.0,1681.5 1741.5,1699.3 1742.0,1670.2 1742.5,1687.6 1743.0,1682.5 1743.5,1692.8 1744.0,1682.2 1744.5,1689.4 1745.0,1668.7 1745.5,1692.0 1746.0,1678.1 1746.5,1703.3 1747.0,1682.3 1747.5,1696.7 1748.0,1661.6 1748.5,1696.3 1749.0,1681.9 1749.5,1700.9 1750.0,1676.0 1750.5,1692.0 1751.0,1672.5 1751.5,1693.3 1752.0,1681.1 1752.5,1689.2 1753.0,1677.5 1753.5,1682.0 1754.0,1678.3 1754.5,1686.2 1755.0,1680.9 1755.5,1689.3 1756.0,1678.5 1756.5,1703.2 1757.0,1663.8 1757.5,1692.2 1758.0,1675.8 1758.5,1693.7 1759.0,1670.8 1759.5,1685.3 1760.0,1672.0 1760.5,1690.7 1761.0,1677.6 1761.5,1687.5 1762.0,1676.7 1762.5,1683.5 1763.0,1672.5 1763.5,1683.9 1764.0,1676.0 1764.5,1688.4 1765.0,1671.0 1765.5,1681.0 1766.0,1673.8 1766.5,1688.8 1767.0,1672.6 1767.5,1689.4 1768.0,1668.3 1768.5,1690.5 1769.0,1669.4 1769.5,1680.2 1770.0,1671.2 1770.5,1689.6 1771.0,1675.5 1771.5,1678.6 1772.0,1672.1 1772.5,1683.2 1773.0,1666.4 1773.5,1678.0 1774.0,1677.3 1774.5,1696.3 1775.0,1675.2 1775.5,1690.1 1776.0,1657.0 1776.5,1683.5 1777.0,1674.9 1777.5,1685.6 1778.0,1672.7 1778.5,1691.0 1779.0,1665.3 1779.5,1687.0 1780.0,1666.0 1780.5,1679.4 1781.0,1671.5 1781.5,1682.2 1782.0,1668.4 1782.5,1677.9 1783.0,1673.5 1783.5,1691.5 1784.0,1670.3 1784.5,1678.5 1785.0,1664.6 1785.5,1675.8 1786.0,1669.5 1786.5,1676.3 1787.0,1668.7 1787.5,1681.8 1788.0,1662.5 1788.5,1677.7 1789.0,1670.6 1789.5,1682.9 1790.0,1663.0 1790.5,1693.2 1791.0,1672.9 1791.5,1680.4 1792.0,1663.9 1792.5,1689.8 1793.0,1665.5 1793.5,1677.0 1794.0,1664.2 1794.5,1680.6 1795.0,1661.8 1795.5,1683.9 1796.0,1665.1 1796.5,1676.7 1797.0,1654.4 1797.5,1678.9 1798.0,1666.0 1798.5,1686.0 1799.0,1669.2 1799.5,1672.6 1800.0,1664.2 1800.5,1673.4 1801.0,1668.8 1801.5,1675.3 1802.0,1670.2 1802.5,1671.9 1803.0,1664.6 1803.5,1672.1 1804.0,1661.8 1804.5,1686.9 1805.0,1660.1 1805.5,1671.3 1806.0,1660.4 1806.5,1669.5 1807.0,1662.2 1807.5,1683.2 1808.0,1663.8 1808.5,1668.8 1809.0,1666.5 1809.5,1669.7 1810.0,1654.6 1810.5,1669.7 1811.0,1665.2 1811.5,1675.4 1812.0,1665.3 1812.5,1682.6 1813.0,1655.8 1813.5,1670.7 1814.0,1651.6 1814.5,1675.3 1815.0,1656.5 1815.5,1668.4 1816.0,1652.1 1816.5,1667.5 1817.0,1659.5 1817.5,1668.9 1818.0,1663.3 1818.5,1665.0 1819.0,1650.1 1819.5,1670.5 1820.0,1653.7 1820.5,1673.6 1821.0,1653.0 1821.5,1664.3 1822.0,1653.4 1822.5,1672.1 1823.0,1653.1 1823.5,1669.0 1824.0,1657.5 1824.5,1668.8 1825.0,1659.9 1825.5,1676.5 1826.0,1652.6 1826.5,1674.8 1827.0,1657.7 1827.5,1678.1 1828.0,1658.4 1828.5,1672.4 1829.0,1661.0 1829.5,1666.4 1830.0,1655.0 1830.5,1670.4 1831.0,1655.7 1831.5,1661.5 1832.0,1650.8 1832.5,1669.4 1833.0,1655.2 1833.5,1667.6 1834.0,1654.5 1834.5,1678.1 1835.0,1655.5 1835.5,1662.9 1836.0,1649.8 1836.5,1669.3 1837.0,1656.3 1837.5,1675.5 1838.0,1650.7 1838.5,1665.2 1839.0,1657.8 1839.5,1672.0 1840.0,1649.4 1840.5,1661.1 1841.0,1654.8 1841.5,1661.3 1842.0,1651.1 1842.5,1667.1 1843.0,1647.9 1843.5,1657.8 1844.0,1654.8 1844.5,1665.3 1845.0,1649.6 1845.5,1661.2 1846.0,1655.0 1846.5,1664.6 1847.0,1649.4 1847.5,1670.3 1848.0,1649.8 1848.5,1663.8 1849.0,1651.4 1849.5,1666.9 1850.0,1649.6 1850.5,1660.1 1851.0,1652.4 1851.5,1657.3 1852.0,1642.7 1852.5,1664.1 1853.0,1651.9 1853.5,1656.5 1854.0,1637.0 1854.5,1652.9 1855.0,1647.7 1855.5,1651.1 1856.0,1641.9 1856.5,1659.8 1857.0,1639.7 1857.5,1655.3 1858.0,1637.3 1858.5,1670.2 1859.0,1647.4 1859.5,1650.7 1860.0,1647.0 1860.5,1656.2 1861.0,1644.2 1861.5,1661.7 1862.0,1646.2 1862.5,1650.6 1863.0,1639.7 1863.5,1655.4 1864.0,1640.4 1864.5,1645.5 1865.0,1643.8 1865.5,1645.5 1866.0,1642.9 1866.5,1656.5 1867.0,1619.7 1867.5,1646.8 1868.0,1630.6 1868.5,1655.6 1869.0,1634.1 1869.5,1641.6 1870.0,1632.3 1870.5,1644.0 1871.0,1628.6 1871.5,1638.9 1872.0,1634.4 1872.5,1639.4 1873.0,1631.6 1873.5,1646.1 1874.0,1630.4 1874.5,1642.7 1875.0,1629.5 1875.5,1642.0 1876.0,1623.1 1876.5,1634.5 1877.0,1609.5 1877.5,1641.3 1878.0,1624.7 1878.5,1634.6 1879.0,1627.9 1879.5,1644.8 1880.0,1615.7 1880.5,1631.4 1881.0,1624.8 1881.5,1628.2 1882.0,1622.5 1882.5,1636.5 1883.0,1621.9 1883.5,1637.5 1884.0,1618.4 1884.5,1632.0 1885.0,1615.8 1885.5,1623.8 1886.0,1613.7 1886.5,1617.0 1887.0,1611.9 1887.5,1631.6 1888.0,1606.1 1888.5,1618.6 1889.0,1609.5 1889.5,1613.5 1890.0,1595.3 1890.5,1613.0 1891.0,1606.7 1891.5,1613.1 1892.0,1599.7 1892.5,1605.9 1893.0,1590.6 1893.5,1623.2 1894.0,1590.2 1894.5,1600.8 1895.0,1589.3 1895.5,1596.0 1896.0,1594.0 1896.5,1598.3 1897.0,1586.5 1897.5,1602.1 1898.0,1579.8 1898.5,1597.0 1899.0,1584.9 1899.5,1606.9 1900.0,1583.0 1900.5,1595.7 1901.0,1577.2 1901.5,1582.9 1902.0,1576.3 1902.5,1576.9 1903.0,1565.8 1903.5,1576.0 1904.0,1563.7 1904.5,1570.3 1905.0,1544.5 1905.5,1536.6 1906.0,1508.0 1906.5,1459.7 1907.0,1325.7 1907.5,1195.9 1908.0,1098.7 1908.5,1070.8 1909.0,1047.6 1909.5,1036.2 1910.0,1020.4 1910.5,1018.5 1911.0,1011.0 1911.5,1007.9 1912.0,1005.2 1912.5,1005.3 1913.0,1002.2 1913.5,1003.4 1914.0,1004.3 1914.5,1008.6 1915.0,1009.5 1915.5,1015.3 1916.0,1098.0 1916.5,1228.8 1917.0,1327.1 1917.5,1368.6 1918.0,1392.2 1918.5,1416.1 1919.0,1428.1 1919.5,1453.6 1920.0,1478.6 1920.5,1530.0 1921.0,1561.9 1921.5,1576.3 1922.0,1573.7 1922.5,1582.9 1923.0,1580.2 1923.5,1585.5 1924.0,1568.8 1924.5,1587.0 1925.0,1578.0 1925.5,1590.1 1926.0,1586.4 1926.5,1595.0 1927.0,1589.4 1927.5,1608.6 1928.0,1591.6 1928.5,1607.6 1929.0,1596.6 1929.5,1604.7 1930.0,1600.8 1930.5,1605.8 1931.0,1604.5 1931.5,1608.0 1932.0,1606.7 1932.5,1619.8 1933.0,1605.1 1933.5,1616.5 1934.0,1609.6 1934.5,1638.5 1935.0,1614.8 1935.5,1639.1 1936.0,1602.6 1936.5,1623.5 1937.0,1613.8 1937.5,1626.3 1938.0,1610.0 1938.5,1623.3 1939.0,1620.3 1939.5,1630.1 1940.0,1621.9 1940.5,1628.9 1941.0,1620.1 1941.5,1635.9 1942.0,1608.2 1942.5,1627.6 1943.0,1621.8 1943.5,1632.1 1944.0,1617.6 1944.5,1645.6 1945.0,1630.2 1945.5,1642.4 1946.0,1621.5 1946.5,1635.0 1947.0,1634.1 1947.5,1643.7 1948.0,1636.2 1948.5,1643.7 1949.0,1632.2 1949.5,1640.2 1950.0,1634.5 1950.5,1647.4 1951.0,1637.8 1951.5,1654.9 1952.0,1633.4 1952.5,1655.4 1953.0,1635.4 1953.5,1648.3 1954.0,1634.1 1954.5,1648.6 1955.0,1643.9 1955.5,1651.0 1956.0,1640.8 1956.5,1648.5 1957.0,1644.2 1957.5,1649.1 1958.0,1644.9 1958.5,1658.0 1959.0,1644.3 1959.5,1660.8 1960.0,1644.5 1960.5,1652.9 1961.0,1644.6 1961.5,1655.9 1962.0,1627.3 1962.5,1653.4 1963.0,1650.2 1963.5,1659.1 1964.0,1641.0 1964.5,1657.1 1965.0,1645.1 1965.5,1662.3 1966.0,1651.1 1966.5,1657.6 1967.0,1647.1 1967.5,1657.5 1968.0,1647.4 1968.5,1658.7 1969.0,1645.7 1969.5,1665.5 1970.0,1650.7 1970.5,1675.0 1971.0,1651.5 1971.5,1661.7 1972.0,1650.3 1972.5,1660.0 1973.0,1654.1 1973.5,1665.1 1974.0,1657.6 1974.5,1666.9 1975.0,1654.8 1975.5,1661.6 1976.0,1654.7 1976.5,1670.9 1977.0,1656.9 1977.5,1668.3 1978.0,1658.6 1978.5,1665.5 1979.0,1653.1 1979.5,1667.1 1980.0,1661.0 1980.5,1668.7 1981.0,1650.7 1981.5,1685.3 1982.0,1663.8 1982.5,1670.0 1983.0,1666.3 1983.5,1688.7 1984.0,1658.5 1984.5,1674.5 1985.0,1660.7 1985.5,1672.6 1986.0,1665.5 1986.5,1669.0 1987.0,1667.9 1987.5,1674.3 1988.0,1665.2 1988.5,1685.3 1989.0,1662.6 1989.5,1672.4 1990.0,1656.0 1990.5,1681.2 1991.0,1663.4 1991.5,1673.7 1992.0,1668.1 1992.5,1678.1 1993.0,1666.0 1993.5,1679.9 1994.0,1664.3 1994.5,1681.7 1995.0,1673.0 1995.5,1687.1 1996.0,1673.2 1996.5,1678.4 1997.0,1663.5 1997.5,1682.4 1998.0,1669.5 1998.5,1679.1 1999.0,1672.6 1999.5,1678.7 2000.0,1670.4 2000.5,1690.8 2001.0,1669.3 2001.5,1682.2 2002.0,1662.5 2002.5,1684.6 2003.0,1664.7 2003.5,1682.8 2004.0,1673.8 2004.5,1679.3 2005.0,1672.2 2005.5,1683.2 2006.0,1671.5 2006.5,1678.7 2007.0,1674.9 2007.5,1685.6 2008.0,1675.0 2008.5,1677.3 2009.0,1671.4 2009.5,1684.7 2010.0,1674.5 2010.5,1685.1 2011.0,1674.5 2011.5,1685.2 2012.0,1671.5 2012.5,1678.8 2013.0,1672.9 2013.5,1688.4 2014.0,1670.7 2014.5,1679.0 2015.0,1673.2 2015.5,1686.1 2016.0,1662.7 2016.5,1686.8 2017.0,1664.6 2017.5,1682.1 2018.0,1674.0 2018.5,1689.1 2019.0,1677.8 2019.5,1680.1 2020.0,1677.5 2020.5,1682.2 2021.0,1678.5 2021.5,1680.8 2022.0,1677.8 2022.5,1683.7 2023.0,1670.4 2023.5,1679.1 2024.0,1678.2 2024.5,1683.8 2025.0,1673.7 2025.5,1691.5 2026.0,1676.6 2026.5,1687.5 2027.0,1675.4 2027.5,1684.0 2028.0,1679.3 2028.5,1683.3 2029.0,1667.7 2029.5,1684.1 2030.0,1674.2 2030.5,1682.3 2031.0,1679.1 2031.5,1687.7 2032.0,1674.5 2032.5,1696.8 2033.0,1678.9 2033.5,1684.8 2034.0,1676.5 2034.5,1686.5 2035.0,1668.3 2035.5,1683.7 2036.0,1676.2 2036.5,1683.2 2037.0,1678.7 2037.5,1681.0 2038.0,1675.1 2038.5,1704.7 2039.0,1676.8 2039.5,1690.8 2040.0,1679.3 2040.5,1701.7 2041.0,1680.9 2041.5,1698.4 2042.0,1666.0 2042.5,1682.9 2043.0,1672.0 2043.5,1688.7 2044.0,1675.3 2044.5,1686.5 2045.0,1681.1 2045.5,1692.4 2046.0,1676.3 2046.5,1694.0 2047.0,1671.3 2047.5,1682.1 2048.0,1673.7 2048.5,1698.6 2049.0,1669.4 2049.5,1695.3 2050.0,1672.2 2050.5,1697.2 2051.0,1680.5 2051.5,1683.9 2052.0,1681.1 2052.5,1684.4 2053.0,1671.1 2053.5,1683.3 2054.0,1668.0 2054.5,1701.7 2055.0,1675.4 2055.5,1692.3 2056.0,1679.4 2056.5,1690.7 2057.0,1681.8 2057.5,1685.9 2058.0,1680.5 2058.5,1687.9 2059.0,1676.3 2059.5,1690.4 2060.0,1681.7 2060.5,1703.7 2061.0,1676.4 2061.5,1690.0 2062.0,1682.2 2062.5,1689.8 2063.0,1672.4 2063.5,1683.9 2064.0,1676.0 2064.5,1685.8 2065.0,1675.2 2065.5,1694.5 2066.0,1672.6 2066.5,1689.5 2067.0,1681.0 2067.5,1696.0 2068.0,1670.0 2068.5,1688.9 2069.0,1682.1 2069.5,1700.9 2070.0,1672.2 2070.5,1692.3 2071.0,1682.1 2071.5,1685.8 2072.0,1680.7 2072.5,1698.1 2073.0,1677.2 2073.5,1684.9 2074.0,1683.4 2074.5,1697.6 2075.0,1680.1 2075.5,1685.0 2076.0,1682.5 2076.5,1688.7 2077.0,1683.9 2077.5,1692.1 2078.0,1684.9 2078.5,1697.6 2079.0,1679.4 2079.5,1687.1 2080.0,1674.4 2080.5,1686.5 2081.0,1680.1 2081.5,1698.5 2082.0,1680.0 2082.5,1690.6 2083.0,1671.8 2083.5,1699.6 2084.0,1680.5 2084.5,1692.6 2085.0,1675.1 2085.5,1686.5 2086.0,1683.6 2086.5,1692.5 2087.0,1684.2 2087.5,1702.2 2088.0,1675.2 2088.5,1697.4 2089.0,1681.5 2089.5,1692.1 2090.0,1674.3 2090.5,1695.6 2091.0,1679.7 2091.5,1689.8 2092.0,1678.7 2092.5,1691.4 2093.0,1672.8 2093.5,1700.2 2094.0,1686.6 2094.5,1694.0 2095.0,1680.1 2095.5,1692.4 2096.0,1675.4 2096.5,1698.8 2097.0,1682.0 2097.5,1702.9 2098.0,1680.6 2098.5,1686.8 2099.0,1667.6 2099.5,1685.6 2100.0,1680.5 2100.5,1690.0 2101.0,1676.1 2101.5,1697.6 2102.0,1675.6 2102.5,1683.1 2103.0,1676.2 2103.5,1688.0 2104.0,1670.6 2104.5,1695.8 2105.0,1673.9 2105.5,1681.7 2106.0,1662.6 2106.5,1681.2 2107.0,1672.5 2107.5,1685.0 2108.0,1671.2 2108.5,1671.9 2109.0,1666.8 2109.5,1675.9 2110.0,1655.6 2110.5,1679.6 2111.0,1658.3 2111.5,1671.2 2112.0,1660.6 2112.5,1672.3 2113.0,1659.0 2113.5,1669.4 2114.0,1658.2 2114.5,1670.1 2115.0,1659.0 2115.5,1667.7 2116.0,1657.8 2116.5,1666.6 2117.0,1664.1 2117.5,1675.1 2118.0,1657.9 2118.5,1673.1 2119.0,1661.4 2119.5,1674.6 2120.0,1656.9 2120.5,1673.9 2121.0,1655.3 2121.5,1684.8 2122.0,1657.3 2122.5,1675.5 2123.0,1664.7 2123.5,1675.1 2124.0,1663.8 2124.5,1669.7 2125.0,1658.8 2125.5,1673.8 2126.0,1659.7 2126.5,1698.1 2127.0,1669.9 2127.5,1696.5 2128.0,1668.5 2128.5,1682.6 2129.0,1671.8 2129.5,1673.7 2130.0,1663.4 2130.5,1684.4 2131.0,1671.4 2131.5,1675.5 2132.0,1653.6 2132.5,1683.5 2133.0,1674.0 2133.5,1674.5 2134.0,1672.2 2134.5,1684.6 2135.0,1674.4 2135.5,1685.0 2136.0,1666.5 2136.5,1679.5 2137.0,1672.8 2137.5,1683.0 2138.0,1664.6 2138.5,1680.0 2139.0,1671.5 2139.5,1695.9 2140.0,1667.7 2140.5,1693.2 2141.0,1664.4 2141.5,1675.9 2142.0,1668.0 2142.5,1676.3 2143.0,1652.9 2143.5,1685.1 2144.0,1662.3 2144.5,1673.9 2145.0,1662.7 2145.5,1689.1 2146.0,1670.5 2146.5,1695.4 2147.0,1659.0 2147.5,1671.6 2148.0,1667.9 2148.5,1672.6 2149.0,1662.2 2149.5,1684.6 2150.0,1655.2 2150.5,1688.4 2151.0,1667.4 2151.5,1685.3 2152.0,1667.4 2152.5,1683.7 2153.0,1664.1 2153.5,1673.7 2154.0,1656.2 2154.5,1678.5 2155.0,1664.6 2155.5,1676.9 2156.0,1662.6 2156.5,1681.9 2157.0,1663.3 2157.5,1681.2 2158.0,1660.2 2158.5,1679.3 2159.0,1659.6 2159.5,1673.1 2160.0,1662.3 2160.5,1690.5 2161.0,1657.2 2161.5,1673.8 2162.0,1660.5 2162.5,1681.4 2163.0,1651.6 2163.5,1673.2 2164.0,1656.1 2164.5,1666.9 2165.0,1659.4 2165.5,1664.8 2166.0,1655.9 2166.5,1662.7 2167.0,1652.0 2167.5,1660.9 2168.0,1654.3 2168.5,1666.5 2169.0,1650.5 2169.5,1663.8 2170.0,1640.2 2170.5,1665.6 2171.0,1650.0 2171.5,1663.8 2172.0,1641.9 2172.5,1673.6 2173.0,1642.7 2173.5,1662.2 2174.0,1637.6 2174.5,1670.7 2175.0,1642.1 2175.5,1647.7 2176.0,1642.2 2176.5,1658.4 2177.0,1638.5 2177.5,1655.3 2178.0,1637.5 2178.5,1655.5 2179.0,1631.8 2179.5,1643.3 2180.0,1636.6 2180.5,1646.0 2181.0,1633.3 2181.5,1642.5 2182.0,1619.4 2182.5,1660.9 2183.0,1626.4 2183.5,1632.1 2184.0,1623.2 2184.5,1634.6 2185.0,1619.7 2185.5,1640.6 2186.0,1619.2 2186.5,1625.6 2187.0,1610.3 2187.5,1634.7 2188.0,1613.7 2188.5,1618.4 2189.0,1601.5 2189.5,1619.8 2190.0,1600.8 2190.5,1615.5 2191.0,1598.3 2191.5,1607.8 2192.0,1593.9 2192.5,1605.0 2193.0,1597.4 2193.5,1601.0 2194.0,1588.7 2194.5,1598.2 2195.0,1587.4 2195.5,1597.9 2196.0,1585.1 2196.5,1586.9 2197.0,1580.6 2197.5,1580.2 2198.0,1575.3 2198.5,1575.8 2199.0,1557.6 2199.5,1577.4 2200.0,1561.4 2200.5,1564.1 2201.0,1553.7 2201.5,1562.8 2202.0,1546.0 2202.5,1551.0 2203.0,1536.2 2203.5,1549.6 2204.0,1525.7 2204.5,1529.9 2205.0,1512.3 2205.5,1519.1 2206.0,1496.7 2206.5,1499.2 2207.0,1481.6 2207.5,1477.0 2208.0,1465.3 2208.5,1464.6 2209.0,1444.5 2209.5,1445.6 2210.0,1427.1 2210.5,1421.7 2211.0,1407.0 2211.5,1401.1 2212.0,1385.7 2212.5,1383.2 2213.0,1366.2 2213.5,1363.4 2214.0,1345.1 2214.5,1336.5 2215.0,1322.3 2215.5,1316.7 2216.0,1301.2 2216.5,1297.9 2217.0,1283.7 2217.5,1281.7 2218.0,1271.4 2218.5,1267.4 2219.0,1258.1 2219.5,1255.7 2220.0,1245.4 2220.5,1241.2 2221.0,1234.8 2221.5,1232.2 2222.0,1227.4 2222.5,1228.0 2223.0,1225.9 2223.5,1230.8 2224.0,1230.0 2224.5,1236.0 2225.0,1238.0 2225.5,1244.9 2226.0,1248.9 2226.5,1258.1 2227.0,1260.9 2227.5,1270.5 2228.0,1275.9 2228.5,1285.8 2229.0,1289.5 2229.5,1300.8 2230.0,1305.3 2230.5,1319.2 2231.0,1323.4 2231.5,1339.3 2232.0,1348.0 2232.5,1368.4 2233.0,1373.5 2233.5,1388.8 2234.0,1404.4 2234.5,1425.6 2235.0,1438.9 2235.5,1457.5 2236.0,1461.1 2236.5,1470.8 2237.0,1466.2 2237.5,1481.9 2238.0,1480.0 2238.5,1488.6 2239.0,1484.3 2239.5,1506.9 2240.0,1493.2 2240.5,1519.5 2241.0,1510.0 2241.5,1525.0 2242.0,1518.5 2242.5,1552.0 2243.0,1536.2 2243.5,1559.1 2244.0,1553.1 2244.5,1562.4 2245.0,1562.6 2245.5,1573.7 2246.0,1569.2 2246.5,1585.9 2247.0,1574.9 2247.5,1581.8 2248.0,1575.2 2248.5,1603.3 2249.0,1585.4 2249.5,1594.6 2250.0,1590.5 2250.5,1601.7 2251.0,1595.9 2251.5,1605.7 2252.0,1590.0 2252.5,1621.5 2253.0,1600.5 2253.5,1608.7 2254.0,1599.5 2254.5,1614.8 2255.0,1610.7 2255.5,1619.6 2256.0,1608.6 2256.5,1616.5 2257.0,1616.9 2257.5,1636.4 2258.0,1617.2 2258.5,1624.9 2259.0,1609.4 2259.5,1627.2 2260.0,1622.0 2260.5,1643.5 2261.0,1623.3 2261.5,1634.8 2262.0,1619.9 2262.5,1644.7 2263.0,1619.2 2263.5,1645.6 2264.0,1630.4 2264.5,1632.2 2265.0,1630.1 2265.5,1636.5 2266.0,1631.3 2266.5,1656.9 2267.0,1630.8 2267.5,1636.7 2268.0,1629.2 2268.5,1637.3 2269.0,1619.2 2269.5,1642.3 2270.0,1636.0 2270.5,1656.6 2271.0,1633.9 2271.5,1641.7 2272.0,1637.0 2272.5,1643.6 2273.0,1636.0 2273.5,1648.7 2274.0,1637.6 2274.5,1644.5 2275.0,1643.1 2275.5,1648.3 2276.0,1645.0 2276.5,1652.3 2277.0,1640.5 2277.5,1647.2 2278.0,1639.0 2278.5,1651.8 2279.0,1646.6 2279.5,1657.0 2280.0,1644.1 2280.5,1653.5 2281.0,1648.5 2281.5,1651.4 2282.0,1649.0 2282.5,1659.0 2283.0,1639.6 2283.5,1660.7 2284.0,1650.8 2284.5,1662.0 2285.0,1649.9 2285.5,1655.3 2286.0,1652.5 2286.5,1680.2 2287.0,1646.1 2287.5,1665.0 2288.0,1651.9 2288.5,1661.3 2289.0,1637.5 2289.5,1660.3 2290.0,1647.4 2290.5,1669.1 2291.0,1651.5 2291.5,1672.8 2292.0,1655.3 2292.5,1662.8 2293.0,1653.3 2293.5,1684.4 2294.0,1655.9 2294.5,1660.2 2295.0,1648.0 2295.5,1663.9 2296.0,1659.5 2296.5,1667.3 2297.0,1659.8 2297.5,1664.0 2298.0,1656.2 2298.5,1661.9 2299.0,1656.7 2299.5,1664.0 2300.0,1661.0 2300.5,1666.6 2301.0,1654.6 2301.5,1669.2 2302.0,1661.2"/>
<polyline fill="none" stroke="#f00" stroke-width="8" stroke-linejoin="round" stroke-linecap="round" points="269.5,1053.8 270.0,1052.8 270.5,1063.4 271.0,1066.4 271.5,1074.3 272.0,1078.3 272.5,1087.1 273.0,1084.6 273.5,1098.0 274.0,1089.6 274.5,1092.5 275.0,1089.3 275.5,1095.4 276.0,1090.2 276.5,1099.6 277.0,1091.0 277.5,1109.6 278.0,1095.3 278.5,1096.7 279.0,1095.1 279.5,1100.4 280.0,1092.1 280.5,1097.7 281.0,1096.5 281.5,1099.7 282.0,1096.1 282.5,1099.1 283.0,1094.1 283.5,1107.5 284.0,1093.7 284.5,1103.6 285.0,1096.2 285.5,1104.9 286.0,1096.3 286.5,1100.5 287.0,1097.2 287.5,1101.0 288.0,1097.8 288.5,1100.1 289.0,1093.2 289.5,1099.0 290.0,1093.2 290.5,1098.6 291.0,1094.9 291.5,1100.9 292.0,1092.8 292.5,1098.2 293.0,1086.7 293.5,1095.4 294.0,1088.7 294.5,1095.4 295.0,1084.8 295.5,1083.5 296.0,1077.9 296.5,1074.3 297.0,1067.8 297.5,1060.8 298.0,1046.9 298.5,1035.0 299.0,1017.0 299.5,1000.8 300.0,981.3 300.5,965.0 301.0,945.7 301.5,930.2 302.0,915.0 302.5,901.8 303.0,890.0 303.5,883.0 304.0,877.2 304.5,876.5 305.0,880.7 305.5,889.4 306.0,915.1 306.5,948.1 307.0,967.1 307.5,982.7 308.0,994.7 308.5,1010.0 309.0,1022.7 309.5,1039.9 310.0,1055.5 310.5,1072.5 311.0,1074.5 311.5,1082.8 312.0,1085.1 312.5,1090.0 313.0,1091.4 313.5,1097.8 314.0,1099.2 314.5,1111.8 315.0,1106.6 315.5,1114.9 316.0,1113.6 316.5,1119.2 317.0,1120.5 317.5,1124.8 318.0,1124.1 318.5,1136.7 319.0,1132.4 319.5,1138.5 320.0,1135.2 320.5,1140.5 321.0,1139.8 321.5,1146.3 322.0,1142.7 322.5,1155.0 323.0,1147.5 323.5,1154.8 324.0,1151.8 324.5,1157.7 325.0,1149.9 325.5,1169.2 326.0,1157.3 326.5,1170.8 327.0,1158.5 327.5,1166.2 328.0,1162.3 328.5,1171.9 329.0,1165.6 329.5,1173.0 330.0,1168.5 330.5,1179.7 331.0,1172.6 331.5,1174.7 332.0,1169.3 332.5,1184.6 333.0,1175.3 333.5,1183.8 334.0,1177.8 334.5,1186.7 335.0,1180.8 335.5,1191.8 336.0,1179.3 336.5,1194.7 337.0,1177.0 337.5,1192.4 338.0,1184.2 338.5,1198.7 339.0,1175.4 339.5,1199.3 340.0,1182.0 340.5,1194.4 341.0,1189.7 341.5,1199.2 342.0,1190.4 342.5,1199.1 343.0,1180.8 343.5,1194.8 344.0,1194.5 344.5,1201.0 345.0,1190.8 345.5,1198.8 346.0,1196.5 346.5,1203.3 347.0,1188.9 347.5,1202.8 348.0,1193.8 348.5,1206.0 349.0,1188.2 349.5,1202.8 350.0,1191.1 350.5,1209.7 351.0,1196.6 351.5,1213.2 352.0,1194.1 352.5,1206.4 353.0,1200.7 353.5,1215.0 354.0,1204.3 354.5,1213.2 355.0,1199.6 355.5,1218.7 356.0,1207.3 356.5,1211.8 357.0,1204.8 357.5,1231.7 358.0,1198.0 358.5,1218.5 359.0,1210.2 359.5,1221.1 360.0,1209.1 360.5,1225.3 361.0,1211.9 361.5,1214.6 362.0,1206.8 362.5,1223.5 363.0,1209.8 363.5,1216.7 364.0,1199.8 364.5,1228.7 365.0,1213.6 365.5,1222.1 366.0,1214.2 366.5,1223.1 367.0,1216.2 367.5,1220.3 368.0,1215.9 368.5,1223.8 369.0,1217.2 369.5,1234.6 370.0,1216.8 370.5,1226.9 371.0,1218.1 371.5,1227.5 372.0,1217.6 372.5,1225.6 373.0,1212.5 373.5,1244.6 374.0,1218.4 374.5,1222.3 375.0,1221.7 375.5,1235.6 376.0,1218.6 376.5,1234.8 377.0,1215.3 377.5,1224.7 378.0,1219.0 378.5,1233.9 379.0,1209.8 379.5,1237.6 380.0,1224.1 380.5,1226.6 381.0,1224.5 381.5,1228.6 382.0,1222.3 382.5,1234.8 383.0,1221.2 383.5,1235.6 384.0,1224.4 384.5,1233.7 385.0,1225.9 385.5,1250.3 386.0,1221.6 386.5,1228.7 387.0,1227.9 387.5,1234.2 388.0,1227.5 388.5,1237.2 389.0,1212.2 389.5,1234.9 390.0,1221.6 390.5,1250.7 391.0,1225.1 391.5,1231.9 392.0,1223.7 392.5,1243.0 393.0,1228.4 393.5,1243.9 394.0,1219.7 394.5,1242.3 395.0,1223.9 395.5,1245.7 396.0,1230.5 396.5,1263.6 397.0,1216.6 397.5,1239.1 398.0,1230.3 398.5,1243.1 399.0,1231.8 399.5,1233.8 400.0,1226.3 400.5,1234.5 401.0,1219.6 401.5,1243.2 402.0,1220.2 402.5,1247.6 403.0,1232.4 403.5,1235.7 404.0,1232.5 404.5,1234.5 405.0,1218.1 405.5,1245.2 406.0,1228.1 406.5,1236.4 407.0,1210.1 407.5,1237.7 408.0,1221.8 408.5,1262.3 409.0,1220.1 409.5,1241.0 410.0,1228.0 410.5,1254.9 411.0,1223.9 411.5,1238.8 412.0,1229.7 412.5,1239.1 413.0,1227.8 413.5,1246.8 414.0,1226.4 414.5,1247.4 415.0,1219.3 415.5,1247.9 416.0,1221.6 416.5,1253.0 417.0,1218.7 417.5,1251.2 418.0,1230.0 418.5,1239.8 419.0,1214.5 419.5,1260.7 420.0,1230.9 420.5,1246.2 421.0,1218.5 421.5,1249.0 422.0,1234.3 422.5,1240.1 423.0,1223.6 423.5,1250.2 424.0,1229.3 424.5,1252.2 425.0,1234.0 425.5,1242.9 426.0,1235.8 426.5,1242.7 427.0,1231.5 427.5,1242.6 428.0,1220.8 428.5,1248.3 429.0,1229.2 429.5,1244.4 430.0,1234.6 430.5,1244.8 431.0,1217.9 431.5,1242.8 432.0,1225.9 432.5,1254.5 433.0,1232.7 433.5,1255.1 434.0,1232.3 434.5,1252.3 435.0,1238.9 435.5,1261.5 436.0,1233.4 436.5,1266.2 437.0,1237.1 437.5,1260.4 438.0,1240.6 438.5,1244.1 439.0,1220.0 439.5,1252.1 440.0,1233.5 440.5,1261.5 441.0,1240.6 441.5,1252.2 442.0,1239.0 442.5,1254.3 443.0,1240.5 443.5,1257.5 444.0,1240.7 444.5,1245.2 445.0,1237.2 445.5,1253.8 446.0,1240.3 446.5,1249.5 447.0,1234.2 447.5,1248.6 448.0,1236.8 448.5,1246.1 449.0,1241.7 449.5,1244.9 450.0,1243.5 450.5,1246.0 451.0,1226.3 451.5,1260.6 452.0,1237.3 452.5,1249.7 453.0,1240.2 453.5,1245.7 454.0,1241.3 454.5,1253.3 455.0,1228.8 455.5,1279.2 456.0,1242.4 456.5,1261.0 457.0,1234.2 457.5,1251.6 458.0,1240.2 458.5,1248.5 459.0,1235.5 459.5,1248.4 460.0,1243.5 460.5,1278.8 461.0,1242.9 461.5,1247.4 462.0,1216.9 462.5,1254.2 463.0,1244.8 463.5,1248.0 464.0,1241.6 464.5,1251.7 465.0,1233.2 465.5,1252.3 466.0,1240.6 466.5,1276.9 467.0,1225.2 467.5,1253.1 468.0,1241.0 468.5,1250.3 469.0,1240.0 469.5,1256.3 470.0,1234.6 470.5,1273.3 471.0,1234.6 471.5,1268.8 472.0,1226.1 472.5,1258.6 473.0,1244.4 473.5,1254.1 474.0,1242.5 474.5,1270.1 475.0,1244.7 475.5,1255.1 476.0,1246.6 476.5,1254.5 477.0,1240.9 477.5,1248.4 478.0,1234.1 478.5,1248.2 479.0,1232.2 479.5,1260.7 480.0,1242.5 480.5,1262.2 481.0,1245.6 481.5,1265.1 482.0,1222.9 482.5,1250.3 483.0,1229.4 483.5,1270.6 484.0,1245.8 484.5,1269.0 485.0,1247.1 485.5,1283.1 486.0,1229.4 486.5,1256.6 487.0,1247.3 487.5,1253.6 488.0,1244.1 488.5,1264.8 489.0,1241.2 489.5,1259.1 490.0,1237.3 490.5,1251.8 491.0,1212.8 491.5,1281.4 492.0,1240.1 492.5,1259.6 493.0,1238.4 493.5,1255.8 494.0,1227.4 494.5,1255.6 495.0,1248.6 495.5,1280.9 496.0,1225.6 496.5,1254.9 497.0,1229.9 497.5,1260.2 498.0,1249.0 498.5,1256.0 499.0,1248.9 499.5,1262.2 500.0,1249.2 500.5,1268.5 501.0,1246.1 501.5,1271.6 502.0,1243.9 502.5,1270.5 503.0,1243.6 503.5,1257.9 504.0,1247.7 504.5,1268.4 505.0,1250.8 505.5,1279.8 506.0,1246.5 506.5,1294.7 507.0,1249.4 507.5,1258.5 508.0,1235.6 508.5,1253.2 509.0,1248.6 509.5,1281.4 510.0,1247.3 510.5,1280.7 511.0,1237.1 511.5,1262.4 512.0,1243.2 512.5,1272.1 513.0,1251.4 513.5,1255.4 514.0,1250.2 514.5,1271.8 515.0,1249.1 515.5,1268.4 516.0,1235.6 516.5,1258.8 517.0,1233.6 517.5,1277.6 518.0,1253.3 518.5,1256.1 519.0,1248.9 519.5,1274.2 520.0,1251.4 520.5,1262.4 521.0,1250.1 521.5,1271.3 522.0,1224.8 522.5,1265.0 523.0,1230.8 523.5,1267.0 524.0,1254.4 524.5,1257.3 525.0,1241.6 525.5,1256.5 526.0,1240.0 526.5,1285.5 527.0,1255.3 527.5,1273.8 528.0,1253.3 528.5,1275.7 529.0,1252.1 529.5,1278.8 530.0,1252.2 530.5,1263.9 531.0,1250.3 531.5,1276.5 532.0,1254.7 532.5,1270.4 533.0,1234.5 533.5,1262.4 534.0,1250.6 534.5,1266.2 535.0,1240.8 535.5,1272.4 536.0,1250.2 536.5,1269.0 537.0,1247.6 537.5,1267.7 538.0,1256.8 538.5,1259.4 539.0,1258.4 539.5,1262.8 540.0,1258.7 540.5,1265.6 541.0,1239.3 541.5,1271.0 542.0,1252.4 542.5,1272.6 543.0,1253.7 543.5,1264.9 544.0,1259.0 544.5,1287.3 545.0,1245.1 545.5,1269.1 546.0,1241.0 546.5,1273.1 547.0,1255.7 547.5,1277.1 548.0,1254.1 548.5,1265.1 549.0,1235.5 549.5,1303.1 550.0,1253.1 550.5,1260.9 551.0,1253.4 551.5,1275.0 552.0,1249.8 552.5,1292.7 553.0,1259.0 553.5,1277.5 554.0,1253.2 554.5,1266.6 555.0,1250.6 555.5,1266.1 556.0,1247.3 556.5,1272.6 557.0,1245.9 557.5,1270.0 558.0,1241.3 558.5,1276.9 559.0,1242.4 559.5,1262.8 560.0,1244.8 560.5,1267.8 561.0,1250.9 561.5,1279.2 562.0,1247.7 562.5,1264.8 563.0,1262.2 563.5,1266.3 564.0,1256.3 564.5,1269.8 565.0,1250.7 565.5,1268.1 566.0,1250.3 566.5,1270.5 567.0,1256.1 567.5,1275.3 568.0,1258.8 568.5,1283.8 569.0,1260.4 569.5,1267.3 570.0,1254.7 570.5,1283.7 571.0,1226.1 571.5,1266.9 572.0,1250.0 572.5,1280.0 573.0,1234.4 573.5,1269.3 574.0,1247.7 574.5,1301.8 575.0,1256.3 575.5,1279.4 576.0,1259.5 576.5,1268.4 577.0,1242.8 577.5,1268.1 578.0,1257.6 578.5,1277.4 579.0,1257.8 579.5,1318.0 580.0,1262.2 580.5,1273.9 581.0,1265.2 581.5,1277.4 582.0,1263.5 582.5,1288.6 583.0,1264.5 583.5,1279.4 584.0,1263.5 584.5,1303.9 585.0,1246.5 585.5,1275.1 586.0,1260.6 586.5,1270.4 587.0,1253.1 587.5,1284.5 588.0,1263.8 588.5,1268.1 589.0,1252.2 589.5,1283.6 590.0,1260.9 590.5,1282.3 591.0,1260.2 591.5,1278.4 592.0,1258.3 592.5,1304.1 593.0,1262.1 593.5,1269.1 594.0,1255.9 594.5,1301.6 595.0,1254.1 595.5,1289.7 596.0,1266.4 596.5,1274.5 597.0,1263.4 597.5,1286.8 598.0,1262.9 598.5,1284.9 599.0,1264.5 599.5,1268.3 600.0,1250.7 600.5,1294.5 601.0,1262.1 601.5,1277.6 602.0,1262.9 602.5,1270.1 603.0,1228.1 603.5,1276.6 604.0,1259.2 604.5,1274.3 605.0,1253.5 605.5,1275.9 606.0,1260.3 606.5,1309.2 607.0,1260.9 607.5,1272.5 608.0,1268.0 608.5,1271.5 609.0,1267.4 609.5,1276.0 610.0,1268.6 610.5,1284.3 611.0,1259.9 611.5,1273.6 612.0,1253.9 612.5,1272.4 613.0,1257.3 613.5,1296.8 614.0,1260.9 614.5,1271.5 615.0,1265.7 615.5,1285.7 616.0,1262.7 616.5,1283.0 617.0,1261.4 617.5,1287.6 618.0,1264.2 618.5,1275.1 619.0,1254.4 619.5,1275.0 620.0,1269.7 620.5,1302.9 621.0,1255.4 621.5,1280.2 622.0,1270.2 622.5,1278.9 623.0,1255.8 623.5,1273.7 624.0,1269.9 624.5,1287.8 625.0,1256.8 625.5,1293.3 626.0,1272.2 626.5,1289.8 627.0,1260.3 627.5,1277.4 628.0,1258.6 628.5,1274.3 629.0,1255.0 629.5,1279.1 630.0,1267.7 630.5,1295.7 631.0,1256.0 631.5,1277.2 632.0,1262.5 632.5,1284.4 633.0,1260.1 633.5,1303.5 634.0,1265.4 634.5,1297.5 635.0,1264.8 635.5,1276.6 636.0,1273.6 636.5,1291.4 637.0,1263.8 637.5,1278.9 638.0,1272.1 638.5,1303.3 639.0,1255.6 639.5,1319.9 640.0,1275.0 640.5,1282.1 641.0,1269.9 641.5,1300.3 642.0,1275.0 642.5,1283.4 643.0,1274.0 643.5,1301.7 644.0,1268.9 644.5,1288.4 645.0,1276.2 645.5,1285.5 646.0,1270.5 646.5,1292.6 647.0,1266.8 647.5,1289.9 648.0,1279.8 648.5,1285.2 649.0,1278.7 649.5,1287.8 650.0,1276.1 650.5,1292.1 651.0,1276.6 651.5,1303.1 652.0,1266.5 652.5,1293.9 653.0,1278.7 653.5,1282.9 654.0,1274.1 654.5,1324.3 655.0,1278.8 655.5,1289.9 656.0,1266.0 656.5,1303.3 657.0,1271.8 657.5,1288.8 658.0,1270.0 658.5,1302.1 659.0,1275.9 659.5,1301.6 660.0,1274.4 660.5,1282.8 661.0,1282.8 661.5,1308.5 662.0,1275.0 662.5,1289.0 663.0,1269.7 663.5,1285.9 664.0,1280.6 664.5,1291.6 665.0,1271.1 665.5,1294.1 666.0,1271.8 666.5,1290.1 667.0,1279.6 667.5,1288.1 668.0,1281.2 668.5,1290.5 669.0,1259.6 669.5,1312.4 670.0,1270.0 670.5,1289.0 671.0,1283.7 671.5,1292.3 672.0,1281.3 672.5,1302.6 673.0,1267.3 673.5,1286.6 674.0,1264.1 674.5,1296.7 675.0,1271.5 675.5,1336.7 676.0,1265.6 676.5,1288.4 677.0,1282.6 677.5,1286.1 678.0,1280.2 678.5,1295.7 679.0,1274.9 679.5,1311.5 680.0,1285.1 680.5,1297.7 681.0,1265.3 681.5,1287.7 682.0,1270.3 682.5,1305.9 683.0,1257.6 683.5,1293.2 684.0,1269.6 684.5,1287.7 685.0,1285.6 685.5,1288.3 686.0,1272.9 686.5,1299.7 687.0,1253.6 687.5,1306.0 688.0,1279.7 688.5,1294.7 689.0,1269.3 689.5,1290.4 690.0,1269.4 690.5,1306.4 691.0,1285.8 691.5,1299.5 692.0,1268.6 692.5,1289.3 693.0,1280.5 693.5,1310.4 694.0,1280.8 694.5,1308.1 695.0,1284.1 695.5,1289.9 696.0,1283.7 696.5,1290.9 697.0,1281.1 697.5,1297.5 698.0,1285.1 698.5,1297.1 699.0,1283.8 699.5,1288.1 700.0,1283.8 700.5,1290.6 701.0,1284.4 701.5,1313.1 702.0,1287.1 702.5,1296.8 703.0,1283.8 703.5,1297.3 704.0,1285.1 704.5,1290.4 705.0,1284.6 705.5,1290.1 706.0,1283.7 706.5,1294.4 707.0,1268.3 707.5,1304.5 708.0,1256.6 708.5,1300.0 709.0,1275.5 709.5,1307.6 710.0,1287.2 710.5,1305.5 711.0,1288.1 711.5,1291.1 712.0,1270.3 712.5,1301.1 713.0,1281.8 713.5,1302.6 714.0,1269.8 714.5,1296.8 715.0,1285.4 715.5,1293.4 716.0,1280.2 716.5,1315.8 717.0,1280.7 717.5,1311.8 718.0,1286.2 718.5,1292.8 719.0,1288.0 719.5,1293.5 720.0,1285.2 720.5,1305.0 721.0,1280.7 721.5,1316.3 722.0,1290.8 722.5,1296.7 723.0,1281.7 723.5,1315.7 724.0,1284.5 724.5,1302.3 725.0,1283.1 725.5,1303.2 726.0,1292.0 726.5,1292.9 727.0,1281.2 727.5,1298.0 728.0,1281.5 728.5,1295.2 729.0,1287.0 729.5,1296.0 730.0,1291.7 730.5,1296.3 731.0,1292.2 731.5,1308.3 732.0,1276.9 732.5,1310.6 733.0,1286.7 733.5,1297.6 734.0,1276.7 734.5,1297.0 735.0,1285.1 735.5,1338.8 736.0,1283.2 736.5,1310.4 737.0,1285.1 737.5,1312.4 738.0,1271.0 738.5,1299.8 739.0,1286.5 739.5,1315.2 740.0,1289.2 740.5,1305.3 741.0,1285.1 741.5,1303.0 742.0,1291.8 742.5,1318.7 743.0,1271.8 743.5,1305.3 744.0,1289.1 744.5,1310.6 745.0,1297.5 745.5,1318.0 746.0,1295.5 746.5,1303.9 747.0,1298.6 747.5,1301.5 748.0,1296.9 748.5,1301.8 749.0,1280.6 749.5,1310.6 750.0,1293.6 750.5,1306.0 751.0,1294.3 751.5,1306.3 752.0,1290.3 752.5,1321.2 753.0,1298.6 753.5,1304.5 754.0,1297.9 754.5,1303.8 755.0,1278.4 755.5,1305.7 756.0,1300.9 756.5,1323.7 757.0,1301.1 757.5,1324.9 758.0,1297.9 758.5,1311.2 759.0,1300.1 759.5,1315.6 760.0,1292.3 760.5,1309.8 761.0,1288.8 761.5,1315.3 762.0,1295.3 762.5,1318.2 763.0,1302.4 763.5,1314.8 764.0,1299.7 764.5,1318.3 765.0,1285.9 765.5,1323.3 766.0,1283.2 766.5,1312.5 767.0,1286.9 767.5,1306.1 768.0,1302.7 768.5,1312.3 769.0,1279.6 769.5,1307.6 770.0,1305.0 770.5,1319.3 771.0,1304.8 771.5,1320.0 772.0,1297.4 772.5,1309.5 773.0,1292.5 773.5,1311.5 774.0,1299.2 774.5,1342.1 775.0,1296.2 775.5,1312.5 776.0,1290.5 776.5,1321.5 777.0,1294.5 777.5,1315.0 778.0,1299.3 778.5,1322.4 779.0,1304.4 779.5,1325.8 780.0,1289.8 780.5,1310.5 781.0,1300.6 781.5,1311.2 782.0,1284.5 782.5,1320.2 783.0,1304.8 783.5,1321.6 784.0,1291.1 784.5,1319.9 785.0,1291.0 785.5,1308.7 786.0,1302.9 786.5,1313.8 787.0,1306.9 787.5,1310.1 788.0,1298.6 788.5,1311.5 789.0,1297.0 789.5,1324.4 790.0,1306.5 790.5,1312.3 791.0,1305.9 791.5,1307.8 792.0,1299.5 792.5,1312.2 793.0,1296.2 793.5,1315.1 794.0,1292.5 794.5,1315.4 795.0,1295.9 795.5,1311.0 796.0,1305.6 796.5,1319.2 797.0,1304.6 797.5,1322.8 798.0,1297.8 798.5,1309.0 799.0,1303.8 799.5,1330.4 800.0,1303.4 800.5,1313.5 801.0,1294.9 801.5,1335.8 802.0,1302.7 802.5,1320.7 803.0,1294.1 803.5,1324.2 804.0,1297.0 804.5,1326.5 805.0,1299.3 805.5,1313.5 806.0,1290.0 806.5,1316.5 807.0,1299.6 807.5,1322.5 808.0,1298.0 808.5,1323.4 809.0,1302.0 809.5,1308.8 810.0,1300.0 810.5,1316.3 811.0,1298.3 811.5,1311.9 812.0,1294.0 812.5,1311.9 813.0,1303.8 813.5,1322.9 814.0,1297.6 814.5,1334.9 815.0,1291.5 815.5,1318.0 816.0,1296.6 816.5,1314.8 817.0,1302.9 817.5,1321.7 818.0,1298.2 818.5,1309.5 819.0,1299.4 819.5,1308.9 820.0,1297.1 820.5,1310.1 821.0,1293.8 821.5,1327.8 822.0,1293.3 822.5,1316.8 823.0,1286.6 823.5,1313.9 824.0,1305.3 824.5,1334.5 825.0,1278.8 825.5,1329.5 826.0,1298.7 826.5,1310.2 827.0,1296.5 827.5,1328.7 828.0,1301.2 828.5,1324.8 829.0,1299.7 829.5,1319.3 830.0,1286.4 830.5,1335.0 831.0,1303.9 831.5,1312.0 832.0,1287.4 832.5,1309.0 833.0,1289.1 833.5,1314.2 834.0,1288.3 834.5,1314.7 835.0,1297.8 835.5,1315.9 836.0,1302.6 836.5,1321.2 837.0,1294.1 837.5,1311.7 838.0,1296.9 838.5,1316.8 839.0,1302.4 839.5,1324.6 840.0,1289.3 840.5,1315.3 841.0,1298.5 841.5,1316.4 842.0,1304.4 842.5,1317.2 843.0,1301.3 843.5,1317.2 844.0,1307.9 844.5,1351.7 845.0,1294.2 845.5,1322.6 846.0,1298.9 846.5,1353.8 847.0,1298.9 847.5,1321.9 848.0,1308.7 848.5,1314.8 849.0,1307.7 849.5,1318.4 850.0,1311.2 850.5,1315.2 851.0,1310.3 851.5,1328.0 852.0,1298.4 852.5,1328.6 853.0,1316.0 853.5,1321.3 854.0,1290.5 854.5,1341.5 855.0,1298.2 855.5,1329.1 856.0,1309.8 856.5,1325.7 857.0,1313.8 857.5,1349.0 858.0,1313.8 858.5,1322.0 859.0,1310.3 859.5,1322.1 860.0,1315.8 860.5,1325.8 861.0,1312.0 861.5,1329.2 862.0,1296.6 862.5,1330.9 863.0,1305.1 863.5,1321.4 864.0,1302.7 864.5,1328.4 865.0,1313.8 865.5,1325.6 866.0,1318.4 866.5,1325.6 867.0,1312.5 867.5,1321.3 868.0,1316.9 868.5,1332.4 869.0,1320.6 869.5,1340.2 870.0,1317.7 870.5,1322.2 871.0,1311.9 871.5,1341.1 872.0,1316.7 872.5,1334.4 873.0,1313.9 873.5,1327.1 874.0,1310.3 874.5,1341.9 875.0,1317.7 875.5,1324.4 876.0,1317.5 876.5,1324.6 877.0,1311.1 877.5,1326.7 878.0,1309.7 878.5,1340.5 879.0,1306.8 879.5,1332.5 880.0,1299.9 880.5,1337.9 881.0,1315.3 881.5,1372.7 882.0,1323.6 882.5,1337.6 883.0,1319.4 883.5,1348.9 884.0,1323.2 884.5,1333.3 885.0,1313.3 885.5,1327.3 886.0,1306.5 886.5,1332.3 887.0,1322.2 887.5,1351.9 888.0,1321.0 888.5,1342.3 889.0,1315.5 889.5,1334.7 890.0,1320.4 890.5,1338.6 891.0,1303.3 891.5,1341.1 892.0,1323.2 892.5,1363.1 893.0,1322.5 893.5,1337.2 894.0,1318.1 894.5,1340.3 895.0,1315.3 895.5,1352.9 896.0,1322.9 896.5,1355.3 897.0,1304.0 897.5,1327.8 898.0,1321.5 898.5,1336.4 899.0,1320.2 899.5,1342.4 900.0,1307.5 900.5,1329.2 901.0,1307.2 901.5,1347.1 902.0,1308.8 902.5,1345.2 903.0,1320.1 903.5,1338.8 904.0,1315.8 904.5,1354.0 905.0,1317.3 905.5,1350.5 906.0,1319.0 906.5,1342.4 907.0,1316.2 907.5,1347.8 908.0,1309.6 908.5,1337.0 909.0,1326.1 909.5,1334.8 910.0,1325.8 910.5,1328.0 911.0,1327.2 911.5,1329.9 912.0,1320.8 912.5,1335.8 913.0,1328.1 913.5,1332.6 914.0,1323.8 914.5,1340.4 915.0,1323.3 915.5,1352.4 916.0,1328.2 916.5,1333.2 917.0,1320.7 917.5,1332.9 918.0,1326.4 918.5,1329.9 919.0,1322.5 919.5,1344.7 920.0,1328.0 920.5,1332.1 921.0,1322.4 921.5,1347.7 922.0,1326.5 922.5,1356.9 923.0,1328.5 923.5,1354.9 924.0,1315.7 924.5,1345.1 925.0,1322.8 925.5,1338.3 926.0,1323.4 926.5,1330.6 927.0,1310.8 927.5,1337.8 928.0,1327.0 928.5,1357.2 929.0,1319.0 929.5,1345.5 930.0,1323.5 930.5,1345.9 931.0,1320.3 931.5,1342.0 932.0,1326.5 932.5,1341.9 933.0,1330.0 933.5,1338.6 934.0,1326.0 934.5,1354.4 935.0,1321.4 935.5,1367.9 936.0,1327.6 936.5,1358.9 937.0,1327.9 937.5,1341.3 938.0,1317.2 938.5,1347.7 939.0,1329.6 939.5,1335.2 940.0,1313.4 940.5,1337.4 941.0,1325.4 941.5,1357.7 942.0,1327.2 942.5,1333.1 943.0,1321.8 943.5,1336.9 944.0,1320.1 944.5,1352.7 945.0,1332.4 945.5,1341.9 946.0,1324.8 946.5,1351.7 947.0,1330.9 947.5,1353.0 948.0,1306.8 948.5,1363.0 949.0,1316.6 949.5,1355.2 950.0,1328.9 950.5,1350.4 951.0,1323.9 951.5,1345.5 952.0,1331.0 952.5,1346.2 953.0,1332.5 953.5,1342.7 954.0,1312.5 954.5,1350.4 955.0,1327.3 955.5,1344.6 956.0,1332.2 956.5,1336.6 957.0,1332.8 957.5,1342.0 958.0,1326.4 958.5,1336.0 959.0,1329.8 959.5,1335.8 960.0,1327.1 960.5,1350.8 961.0,1316.3 961.5,1340.8 962.0,1329.2 962.5,1344.7 963.0,1322.2 963.5,1346.6 964.0,1331.9 964.5,1337.0 965.0,1317.7 965.5,1339.6 966.0,1332.9 966.5,1339.1 967.0,1307.7 967.5,1361.0 968.0,1334.4 968.5,1354.1 969.0,1324.3 969.5,1354.6 970.0,1322.6 970.5,1348.7 971.0,1328.4 971.5,1339.4 972.0,1316.1 972.5,1340.7 973.0,1333.4 973.5,1343.9 974.0,1334.4 974.5,1339.5 975.0,1330.0 975.5,1337.4 976.0,1332.3 976.5,1341.6 977.0,1321.8 977.5,1356.8 978.0,1330.9 978.5,1341.4 979.0,1327.2 979.5,1339.2 980.0,1326.3 980.5,1367.1 981.0,1320.6 981.5,1362.6 982.0,1329.1 982.5,1344.5 983.0,1335.5 983.5,1341.7 984.0,1326.0 984.5,1350.3 985.0,1335.3 985.5,1349.2 986.0,1313.3 986.5,1358.6 987.0,1335.2 987.5,1340.7 988.0,1333.5 988.5,1340.2 989.0,1323.4 989.5,1350.2 990.0,1336.6 990.5,1347.7 991.0,1322.2 991.5,1364.5 992.0,1337.9 992.5,1346.8 993.0,1321.1 993.5,1340.9 994.0,1328.5 994.5,1353.8 995.0,1331.3 995.5,1339.6 996.0,1320.5 996.5,1342.6 997.0,1319.0 997.5,1344.1 998.0,1337.6 998.5,1365.5 999.0,1337.1 999.5,1339.5 1000.0,1331.9 1000.5,1342.5 1001.0,1322.9 1001.5,1340.6 1002.0,1334.9 1002.5,1358.4 1003.0,1309.4 1003.5,1351.7 1004.0,1327.5 1004.5,1347.7 1005.0,1330.8 1005.5,1345.4 1006.0,1335.3 1006.5,1353.3 1007.0,1323.1 1007.5,1356.8 1008.0,1316.8 1008.5,1353.1 1009.0,1320.3 1009.5,1356.2 1010.0,1318.7 1010.5,1339.0 1011.0,1322.4 1011.5,1351.0 1012.0,1332.2 1012.5,1346.1 1013.0,1330.5 1013.5,1341.4 1014.0,1312.5 1014.5,1336.0 1015.0,1323.2 1015.5,1339.6 1016.0,1318.1 1016.5,1335.7 1017.0,1320.7 1017.5,1350.1 1018.0,1320.0 1018.5,1363.9 1019.0,1328.1 1019.5,1348.0 1020.0,1324.6 1020.5,1336.2 1021.0,1319.5 1021.5,1348.6 1022.0,1330.6 1022.5,1333.4 1023.0,1324.3 1023.5,1347.3 1024.0,1309.8 1024.5,1347.7 1025.0,1320.5 1025.5,1339.0 1026.0,1310.7 1026.5,1334.4 1027.0,1309.6 1027.5,1346.9 1028.0,1321.6 1028.5,1335.4 1029.0,1308.4 1029.5,1345.3 1030.0,1329.3 1030.5,1334.0 1031.0,1326.5 1031.5,1339.0 1032.0,1328.3 1032.5,1337.1 1033.0,1325.5 1033.5,1336.8 1034.0,1319.3 1034.5,1340.1 1035.0,1326.3 1035.5,1340.3 1036.0,1317.4 1036.5,1346.7 1037.0,1320.0 1037.5,1338.9 1038.0,1326.7 1038.5,1336.7 1039.0,1318.4 1039.5,1329.3 1040.0,1317.7 1040.5,1327.5 1041.0,1320.8 1041.5,1339.8 1042.0,1310.2 1042.5,1332.9 1043.0,1320.7 1043.5,1326.9 1044.0,1314.4 1044.5,1329.6 1045.0,1315.4 1045.5,1350.1 1046.0,1322.8 1046.5,1340.1 1047.0,1317.8 1047.5,1345.7 1048.0,1300.9 1048.5,1340.7 1049.0,1319.6 1049.5,1342.2 1050.0,1319.3 1050.5,1329.3 1051.0,1316.7 1051.5,1332.4 1052.0,1303.8 1052.5,1332.5 1053.0,1310.0 1053.5,1327.7 1054.0,1318.9 1054.5,1332.0 1055.0,1320.1 1055.5,1327.7 1056.0,1314.9 1056.5,1332.3 1057.0,1318.1 1057.5,1334.8 1058.0,1314.1 1058.5,1322.6 1059.0,1296.3 1059.5,1325.3 1060.0,1302.9 1060.5,1328.2 1061.0,1297.3 1061.5,1326.2 1062.0,1311.2 1062.5,1336.6 1063.0,1308.4 1063.5,1344.7 1064.0,1302.5 1064.5,1325.7 1065.0,1304.6 1065.5,1328.4 1066.0,1300.1 1066.5,1317.9 1067.0,1312.7 1067.5,1318.5 1068.0,1307.6 1068.5,1323.1 1069.0,1313.8 1069.5,1337.1 1070.0,1296.5 1070.5,1319.1 1071.0,1308.9 1071.5,1330.3 1072.0,1308.4 1072.5,1330.3 1073.0,1310.6 1073.5,1320.0 1074.0,1302.7 1074.5,1326.6 1075.0,1309.5 1075.5,1314.2 1076.0,1305.8 1076.5,1310.9 1077.0,1296.0 1077.5,1322.9 1078.0,1303.1 1078.5,1317.4 1079.0,1291.1 1079.5,1316.7 1080.0,1279.5 1080.5,1311.4 1081.0,1286.6 1081.5,1301.7 1082.0,1298.7 1082.5,1302.1 1083.0,1295.5 1083.5,1303.7 1084.0,1291.0 1084.5,1298.0 1085.0,1286.5 1085.5,1294.1 1086.0,1279.3 1086.5,1294.7 1087.0,1280.6 1087.5,1297.6 1088.0,1283.3 1088.5,1287.0 1089.0,1270.3 1089.5,1291.5 1090.0,1268.5 1090.5,1298.0 1091.0,1278.7 1091.5,1290.8 1092.0,1269.2 1092.5,1287.3 1093.0,1263.2 1093.5,1285.1 1094.0,1260.3 1094.5,1278.7 1095.0,1264.9 1095.5,1268.6 1096.0,1243.0 1096.5,1284.2 1097.0,1254.3 1097.5,1276.8 1098.0,1255.9 1098.5,1259.6 1099.0,1256.1 1099.5,1270.7 1100.0,1237.4 1100.5,1255.0 1101.0,1246.4 1101.5,1253.4 1102.0,1227.0 1102.5,1253.5 1103.0,1236.4 1103.5,1235.9 1104.0,1212.3 1104.5,1241.7 1105.0,1215.9 1105.5,1229.0 1106.0,1207.4 1106.5,1219.2 1107.0,1205.7 1107.5,1226.0 1108.0,1198.2 1108.5,1201.1 1109.0,1183.1 1109.5,1203.3 1110.0,1167.8 1110.5,1189.9 1111.0,1172.3 1111.5,1184.8 1112.0,1171.8 1112.5,1180.8 1113.0,1160.8 1113.5,1175.4 1114.0,1162.4 1114.5,1167.6 1115.0,1156.4 1115.5,1161.3 1116.0,1151.3 1116.5,1154.5 1117.0,1143.4 1117.5,1157.8 1118.0,1139.5 1118.5,1147.3 1119.0,1121.6 1119.5,1146.9 1120.0,1119.1 1120.5,1119.5 1121.0,1105.5 1121.5,1108.6 1122.0,1096.7 1122.5,1096.3 1123.0,1081.8 1123.5,1084.5 1124.0,1064.9 1124.5,1077.6 1125.0,1042.9 1125.5,1052.2 1126.0,1030.6 1126.5,1025.9 1127.0,1001.8 1127.5,1006.8 1128.0,986.3 1128.5,982.8 1129.0,968.8 1129.5,964.4 1130.0,946.6 1130.5,945.4 1131.0,932.4 1131.5,928.2 1132.0,908.0 1132.5,903.9 1133.0,888.9 1133.5,879.6 1134.0,864.2 1134.5,854.2 1135.0,838.9 1135.5,825.3 1136.0,803.5 1136.5,788.3 1137.0,762.5 1137.5,743.9 1138.0,716.3 1138.5,702.0 1139.0,680.0 1139.5,662.7 1140.0,643.3 1140.5,629.6 1141.0,607.6 1141.5,597.1 1142.0,573.4 1142.5,558.7 1143.0,536.0 1143.5,524.7 1144.0,509.7 1144.5,497.7 1145.0,484.4 1145.5,482.5 1146.0,483.5 1146.5,491.6 1147.0,495.7 1147.5,510.3 1148.0,517.1 1148.5,535.3 1149.0,542.2 1149.5,563.1 1150.0,567.2 1150.5,585.9 1151.0,595.3 1151.5,609.9 1152.0,619.2 1152.5,633.7 1153.0,639.4 1153.5,658.6 1154.0,661.3 1154.5,679.1 1155.0,686.9 1155.5,702.0 1156.0,712.7 1156.5,728.4 1157.0,742.2 1157.5,758.2 1158.0,770.7 1158.5,785.8 1159.0,796.5 1159.5,818.2 1160.0,823.8 1160.5,839.8 1161.0,846.0 1161.5,870.2 1162.0,873.7 1162.5,891.7 1163.0,897.7 1163.5,915.8 1164.0,920.3 1164.5,934.4 1165.0,941.6 1165.5,953.3 1166.0,953.8 1166.5,979.6 1167.0,981.8 1167.5,994.4 1168.0,994.2 1168.5,1020.3 1169.0,1014.2 1169.5,1042.3 1170.0,1026.8 1170.5,1042.8 1171.0,1035.0 1171.5,1053.2 1172.0,1058.6 1172.5,1083.5 1173.0,1067.4 1173.5,1083.1 1174.0,1083.9 1174.5,1101.6 1175.0,1095.3 1175.5,1112.5 1176.0,1110.8 1176.5,1130.9 1177.0,1117.9 1177.5,1140.6 1178.0,1126.2 1178.5,1166.7 1179.0,1154.0 1179.5,1167.3 1180.0,1167.3 1180.5,1193.7 1181.0,1178.8 1181.5,1213.1 1182.0,1183.7 1182.5,1213.4 1183.0,1190.6 1183.5,1210.4 1184.0,1202.4 1184.5,1225.9 1185.0,1217.3 1185.5,1223.3 1186.0,1216.3 1186.5,1238.1 1187.0,1219.5 1187.5,1256.3 1188.0,1217.2 1188.5,1254.3 1189.0,1230.7 1189.5,1246.9 1190.0,1232.5 1190.5,1253.1 1191.0,1240.0 1191.5,1254.0 1192.0,1242.2 1192.5,1249.9 1193.0,1230.3 1193.5,1284.1 1194.0,1228.7 1194.5,1255.8 1195.0,1255.1 1195.5,1260.1 1196.0,1257.2 1196.5,1264.6 1197.0,1252.0 1197.5,1286.2 1198.0,1244.4 1198.5,1286.5 1199.0,1258.3 1199.5,1290.9 1200.0,1270.1 1200.5,1282.0 1201.0,1256.7 1201.5,1287.0 1202.0,1277.6 1202.5,1300.3 1203.0,1262.9 1203.5,1296.6 1204.0,1287.6 1204.5,1300.3 1205.0,1264.5 1205.5,1307.5 1206.0,1292.4 1206.5,1311.8 1207.0,1287.6 1207.5,1311.5 1208.0,1296.6 1208.5,1311.1 1209.0,1288.1 1209.5,1309.0 1210.0,1298.5 1210.5,1328.4 1211.0,1305.6 1211.5,1329.1 1212.0,1309.6 1212.5,1325.7 1213.0,1304.0 1213.5,1329.5 1214.0,1313.1 1214.5,1333.3 1215.0,1314.7 1215.5,1339.4 1216.0,1326.8 1216.5,1337.9 1217.0,1325.4 1217.5,1360.6 1218.0,1330.8 1218.5,1344.7 1219.0,1330.1 1219.5,1355.9 1220.0,1333.3 1220.5,1342.1 1221.0,1325.1 1221.5,1341.2 1222.0,1325.4 1222.5,1379.6 1223.0,1338.8 1223.5,1355.7 1224.0,1336.3 1224.5,1344.6 1225.0,1342.0 1225.5,1354.7 1226.0,1337.7 1226.5,1347.8 1227.0,1317.9 1227.5,1351.1 1228.0,1343.3 1228.5,1369.1 1229.0,1341.8 1229.5,1363.2 1230.0,1334.6 1230.5,1361.1 1231.0,1350.0 1231.5,1360.7 1232.0,1342.4 1232.5,1353.8 1233.0,1338.9 1233.5,1372.0 1234.0,1349.2 1234.5,1363.9 1235.0,1328.0 1235.5,1371.8 1236.0,1342.5 1236.5,1365.2 1237.0,1354.7 1237.5,1370.7 1238.0,1332.5 1238.5,1373.2 1239.0,1348.5 1239.5,1364.5 1240.0,1355.1 1240.5,1364.8 1241.0,1352.1 1241.5,1379.2 1242.0,1357.7 1242.5,1371.7 1243.0,1352.8 1243.5,1368.0 1244.0,1345.8 1244.5,1374.3 1245.0,1339.4 1245.5,1381.1 1246.0,1362.6 1246.5,1376.0 1247.0,1348.1 1247.5,1366.9 1248.0,1360.5 1248.5,1386.9 1249.0,1363.9 1249.5,1382.1 1250.0,1358.1 1250.5,1390.8 1251.0,1346.2 1251.5,1372.6 1252.0,1354.4 1252.5,1371.7 1253.0,1361.0 1253.5,1379.7 1254.0,1361.4 1254.5,1371.7 1255.0,1363.8 1255.5,1400.6 1256.0,1363.6 1256.5,1380.4 1257.0,1354.7 1257.5,1381.6 1258.0,1363.3 1258.5,1375.9 1259.0,1354.2 1259.5,1378.5 1260.0,1359.3 1260.5,1379.7 1261.0,1335.3 1261.5,1380.3 1262.0,1371.0 1262.5,1381.6 1263.0,1356.6 1263.5,1387.5 1264.0,1373.4 1264.5,1382.2 1265.0,1359.8 1265.5,1387.7 1266.0,1370.2 1266.5,1389.7 1267.0,1367.8 1267.5,1413.0 1268.0,1373.9 1268.5,1410.4 1269.0,1367.8 1269.5,1400.1 1270.0,1375.5 1270.5,1405.9 1271.0,1352.6 1271.5,1390.2 1272.0,1371.9 1272.5,1401.2 1273.0,1371.2 1273.5,1392.3 1274.0,1370.8 1274.5,1401.8 1275.0,1369.1 1275.5,1405.8 1276.0,1357.3 1276.5,1404.8 1277.0,1358.2 1277.5,1384.4 1278.0,1375.2 1278.5,1393.0 1279.0,1381.7 1279.5,1394.2 1280.0,1382.3 1280.5,1393.0 1281.0,1378.6 1281.5,1384.2 1282.0,1379.0 1282.5,1393.1 1283.0,1383.4 1283.5,1404.3 1284.0,1369.1 1284.5,1413.0 1285.0,1378.3 1285.5,1410.0 1286.0,1363.5 1286.5,1401.7 1287.0,1374.3 1287.5,1394.6 1288.0,1370.3 1288.5,1388.1 1289.0,1381.3 1289.5,1434.2 1290.0,1368.0 1290.5,1410.9 1291.0,1380.1 1291.5,1393.9 1292.0,1376.3 1292.5,1399.5 1293.0,1383.7 1293.5,1393.8 1294.0,1390.4 1294.5,1393.7 1295.0,1373.5 1295.5,1418.4 1296.0,1384.6 1296.5,1415.1 1297.0,1378.3 1297.5,1407.5 1298.0,1377.0 1298.5,1433.0 1299.0,1373.8 1299.5,1416.1 1300.0,1393.5 1300.5,1415.9 1301.0,1388.6 1301.5,1419.1 1302.0,1387.2 1302.5,1412.4 1303.0,1394.4 1303.5,1433.4 1304.0,1367.8 1304.5,1399.4 1305.0,1389.4 1305.5,1421.8 1306.0,1393.4 1306.5,1400.3 1307.0,1395.5 1307.5,1419.4 1308.0,1398.9 1308.5,1420.6 1309.0,1384.4 1309.5,1408.5 1310.0,1395.5 1310.5,1425.2 1311.0,1401.7 1311.5,1434.2 1312.0,1372.3 1312.5,1407.2 1313.0,1396.5 1313.5,1413.9 1314.0,1381.9 1314.5,1404.5 1315.0,1377.2 1315.5,1415.5 1316.0,1393.2 1316.5,1428.8 1317.0,1403.3 1317.5,1411.5 1318.0,1402.6 1318.5,1417.1 1319.0,1377.7 1319.5,1408.7 1320.0,1394.4 1320.5,1409.1 1321.0,1401.2 1321.5,1414.4 1322.0,1401.9 1322.5,1429.6 1323.0,1399.7 1323.5,1420.9 1324.0,1401.6 1324.5,1435.6 1325.0,1387.9 1325.5,1428.4 1326.0,1391.5 1326.5,1417.9 1327.0,1401.2 1327.5,1412.5 1328.0,1399.5 1328.5,1410.2 1329.0,1390.8 1329.5,1423.3 1330.0,1400.2 1330.5,1442.7 1331.0,1400.3 1331.5,1436.1 1332.0,1410.3 1332.5,1439.8 1333.0,1404.4 1333.5,1415.8 1334.0,1386.1 1334.5,1421.7 1335.0,1411.6 1335.5,1417.1 1336.0,1383.3 1336.5,1422.7 1337.0,1397.7 1337.5,1440.3 1338.0,1387.6 1338.5,1413.7 1339.0,1389.2 1339.5,1417.4 1340.0,1411.3 1340.5,1428.1 1341.0,1409.7 1341.5,1437.5 1342.0,1412.4 1342.5,1432.7 1343.0,1387.4 1343.5,1428.8 1344.0,1405.1 1344.5,1416.3 1345.0,1396.2 1345.5,1424.3 1346.0,1413.7 1346.5,1425.4 1347.0,1412.1 1347.5,1440.3 1348.0,1409.5 1348.5,1442.5 1349.0,1409.8 1349.5,1431.2 1350.0,1406.6 1350.5,1418.5 1351.0,1416.6 1351.5,1427.5 1352.0,1414.5 1352.5,1420.2 1353.0,1404.0 1353.5,1424.7 1354.0,1403.1 1354.5,1451.8 1355.0,1417.6 1355.5,1422.4 1356.0,1405.7 1356.5,1419.9 1357.0,1416.9 1357.5,1419.4 1358.0,1407.0 1358.5,1436.8 1359.0,1407.6 1359.5,1441.1 1360.0,1408.9 1360.5,1426.9 1361.0,1411.9 1361.5,1432.9 1362.0,1387.7 1362.5,1437.5 1363.0,1410.6 1363.5,1421.7 1364.0,1414.6 1364.5,1429.5 1365.0,1399.3 1365.5,1436.1 1366.0,1416.2 1366.5,1439.6 1367.0,1394.3 1367.5,1436.8 1368.0,1401.3 1368.5,1448.9 1369.0,1415.7 1369.5,1430.5 1370.0,1410.1 1370.5,1447.2 1371.0,1389.6 1371.5,1420.7 1372.0,1418.3 1372.5,1440.4 1373.0,1419.8 1373.5,1445.9 1374.0,1417.4 1374.5,1441.3 1375.0,1408.1 1375.5,1421.5 1376.0,1412.9 1376.5,1426.3 1377.0,1396.3 1377.5,1467.5 1378.0,1400.5 1378.5,1435.3 1379.0,1400.0 1379.5,1464.5 1380.0,1407.0 1380.5,1425.8 1381.0,1384.9 1381.5,1447.5 1382.0,1412.7 1382.5,1445.6 1383.0,1401.4 1383.5,1421.6 1384.0,1401.6 1384.5,1428.1 1385.0,1410.8 1385.5,1445.3 1386.0,1419.5 1386.5,1441.8 1387.0,1399.5 1387.5,1454.4 1388.0,1412.7 1388.5,1477.0 1389.0,1392.0 1389.5,1430.8 1390.0,1409.9 1390.5,1459.8 1391.0,1398.2 1391.5,1443.5 1392.0,1385.3 1392.5,1427.9 1393.0,1420.1 1393.5,1426.9 1394.0,1404.9 1394.5,1449.5 1395.0,1420.6 1395.5,1429.3 1396.0,1421.9 1396.5,1428.8 1397.0,1401.0 1397.5,1425.5 1398.0,1392.7 1398.5,1440.5 1399.0,1414.1 1399.5,1459.1 1400.0,1401.7 1400.5,1429.9 1401.0,1408.5 1401.5,1437.9 1402.0,1420.7 1402.5,1429.8 1403.0,1419.3 1403.5,1453.6 1404.0,1411.4 1404.5,1434.4 1405.0,1410.0 1405.5,1452.8 1406.0,1418.0 1406.5,1458.6 1407.0,1414.9 1407.5,1497.4 1408.0,1423.4 1408.5,1431.7 1409.0,1414.9 1409.5,1449.7 1410.0,1394.1 1410.5,1425.9 1411.0,1420.6 1411.5,1455.7 1412.0,1398.3 1412.5,1434.5 1413.0,1403.4 1413.5,1466.1 1414.0,1415.0 1414.5,1459.2 1415.0,1417.5 1415.5,1456.7 1416.0,1426.3 1416.5,1432.4 1417.0,1415.1 1417.5,1432.7 1418.0,1408.1 1418.5,1430.8 1419.0,1424.8 1419.5,1435.3 1420.0,1413.7 1420.5,1461.2 1421.0,1426.6 1421.5,1441.9 1422.0,1419.6 1422.5,1449.4 1423.0,1422.9 1423.5,1454.9 1424.0,1412.0 1424.5,1436.9 1425.0,1412.2 1425.5,1429.9 1426.0,1427.2 1426.5,1433.0 1427.0,1409.0 1427.5,1430.7 1428.0,1422.0 1428.5,1441.9 1429.0,1425.0 1429.5,1453.6 1430.0,1425.9 1430.5,1468.1 1431.0,1427.0 1431.5,1459.5 1432.0,1414.0 1432.5,1459.8 1433.0,1429.8 1433.5,1439.5 1434.0,1406.5 1434.5,1476.9 1435.0,1421.4 1435.5,1435.9 1436.0,1405.7 1436.5,1432.7 1437.0,1425.7 1437.5,1444.2 1438.0,1405.3 1438.5,1447.8 1439.0,1425.1 1439.5,1433.4 1440.0,1421.2 1440.5,1452.8 1441.0,1409.3 1441.5,1450.0 1442.0,1427.7 1442.5,1444.6 1443.0,1368.5 1443.5,1449.0 1444.0,1416.0 1444.5,1468.9 1445.0,1415.5 1445.5,1436.2 1446.0,1420.2 1446.5,1450.7 1447.0,1420.1 1447.5,1463.7 1448.0,1425.0 1448.5,1443.8 1449.0,1406.4 1449.5,1472.0 1450.0,1413.3 1450.5,1454.1 1451.0,1423.8 1451.5,1439.1 1452.0,1421.8 1452.5,1484.2 1453.0,1415.4 1453.5,1470.2 1454.0,1419.6 1454.5,1447.4 1455.0,1430.1 1455.5,1437.5 1456.0,1422.6 1456.5,1436.6 1457.0,1430.8 1457.5,1461.1 1458.0,1428.3 1458.5,1446.0 1459.0,1425.7 1459.5,1440.8 1460.0,1431.2 1460.5,1454.2 1461.0,1418.7 1461.5,1448.3 1462.0,1428.9 1462.5,1438.4 1463.0,1414.6 1463.5,1455.5 1464.0,1400.0 1464.5,1448.2 1465.0,1426.4 1465.5,1435.6 1466.0,1390.9 1466.5,1464.4 1467.0,1423.5 1467.5,1453.8 1468.0,1431.4 1468.5,1454.1 1469.0,1424.1 1469.5,1448.0 1470.0,1426.5 1470.5,1467.1 1471.0,1407.6 1471.5,1445.9 1472.0,1414.2 1472.5,1436.7 1473.0,1415.6 1473.5,1439.9 1474.0,1417.6 1474.5,1435.7 1475.0,1429.7 1475.5,1434.2 1476.0,1430.8 1476.5,1445.4 1477.0,1411.8 1477.5,1469.7 1478.0,1428.0 1478.5,1470.9 1479.0,1396.8 1479.5,1491.3 1480.0,1424.4 1480.5,1462.8 1481.0,1407.4 1481.5,1439.9 1482.0,1404.0 1482.5,1457.6 1483.0,1427.3 1483.5,1441.4 1484.0,1410.9 1484.5,1468.8 1485.0,1416.2 1485.5,1445.2 1486.0,1412.6 1486.5,1454.9 1487.0,1405.4 1487.5,1472.2 1488.0,1431.5 1488.5,1437.5 1489.0,1430.1 1489.5,1476.6 1490.0,1425.3 1490.5,1459.3 1491.0,1428.3 1491.5,1436.3 1492.0,1402.7 1492.5,1453.9 1493.0,1422.3 1493.5,1442.7 1494.0,1429.6 1494.5,1436.8 1495.0,1414.6 1495.5,1447.1 1496.0,1430.6 1496.5,1440.6 1497.0,1432.9 1497.5,1449.0 1498.0,1430.4 1498.5,1459.9 1499.0,1422.9 1499.5,1463.0 1500.0,1434.0 1500.5,1459.4 1501.0,1426.1 1501.5,1446.2 1502.0,1428.9 1502.5,1438.3 1503.0,1431.8 1503.5,1441.3 1504.0,1406.0 1504.5,1466.0 1505.0,1423.6 1505.5,1451.0 1506.0,1410.4 1506.5,1444.2 1507.0,1408.8 1507.5,1457.5 1508.0,1405.6 1508.5,1435.8 1509.0,1400.4 1509.5,1450.5 1510.0,1429.7 1510.5,1454.2 1511.0,1431.1 1511.5,1473.5 1512.0,1423.6 1512.5,1437.6 1513.0,1430.2 1513.5,1464.2 1514.0,1432.7 1514.5,1446.9 1515.0,1418.8 1515.5,1434.4 1516.0,1415.5 1516.5,1445.2 1517.0,1417.4 1517.5,1454.0 1518.0,1432.3 1518.5,1434.3 1519.0,1398.5 1519.5,1458.3 1520.0,1429.9 1520.5,1469.9 1521.0,1429.6 1521.5,1446.9 1522.0,1414.4 1522.5,1459.4 1523.0,1419.2 1523.5,1450.9 1524.0,1432.4 1524.5,1485.7 1525.0,1433.1 1525.5,1451.2 1526.0,1425.9 1526.5,1471.5 1527.0,1407.0 1527.5,1455.0 1528.0,1427.6 1528.5,1447.2 1529.0,1423.9 1529.5,1474.6 1530.0,1423.9 1530.5,1459.4 1531.0,1400.2 1531.5,1438.7 1532.0,1407.9 1532.5,1436.2 1533.0,1425.9 1533.5,1441.7 1534.0,1418.3 1534.5,1458.9 1535.0,1430.6 1535.5,1438.9 1536.0,1416.7 1536.5,1459.5 1537.0,1418.5 1537.5,1485.9 1538.0,1431.2 1538.5,1454.0 1539.0,1429.5 1539.5,1444.2 1540.0,1413.3 1540.5,1440.7 1541.0,1432.7 1541.5,1433.6 1542.0,1423.4 1542.5,1468.2 1543.0,1408.7 1543.5,1450.2 1544.0,1426.3 1544.5,1459.1 1545.0,1427.3 1545.5,1461.4 1546.0,1423.4 1546.5,1453.2 1547.0,1428.0 1547.5,1459.4 1548.0,1397.2 1548.5,1433.7 1549.0,1420.8 1549.5,1440.3 1550.0,1419.4 1550.5,1485.4 1551.0,1427.6 1551.5,1440.3 1552.0,1425.0 1552.5,1448.4 1553.0,1419.3 1553.5,1457.5 1554.0,1432.0 1554.5,1437.8 1555.0,1428.8 1555.5,1437.9 1556.0,1414.0 1556.5,1466.3 1557.0,1427.3 1557.5,1453.0 1558.0,1422.2 1558.5,1456.1 1559.0,1430.6 1559.5,1442.1 1560.0,1426.5 1560.5,1443.9 1561.0,1434.0 1561.5,1456.2 1562.0,1426.0 1562.5,1439.1 1563.0,1428.6 1563.5,1442.8 1564.0,1429.8 1564.5,1465.3 1565.0,1429.2 1565.5,1441.8 1566.0,1431.8 1566.5,1453.4 1567.0,1412.0 1567.5,1446.9 1568.0,1423.8 1568.5,1455.2 1569.0,1418.4 1569.5,1444.6 1570.0,1425.4 1570.5,1438.5 1571.0,1428.1 1571.5,1455.1 1572.0,1410.2 1572.5,1444.7 1573.0,1421.8 1573.5,1465.8 1574.0,1435.9 1574.5,1448.3 1575.0,1408.4 1575.5,1443.7 1576.0,1435.4 1576.5,1446.5 1577.0,1433.6 1577.5,1464.0 1578.0,1423.2 1578.5,1458.8 1579.0,1435.9 1579.5,1443.7 1580.0,1432.3 1580.5,1444.2 1581.0,1411.0 1581.5,1445.8 1582.0,1423.5 1582.5,1438.2 1583.0,1430.1 1583.5,1439.2 1584.0,1433.3 1584.5,1445.2 1585.0,1407.4 1585.5,1454.5 1586.0,1431.1 1586.5,1452.7 1587.0,1435.8 1587.5,1441.8 1588.0,1421.6 1588.5,1449.2 1589.0,1425.6 1589.5,1468.4 1590.0,1427.7 1590.5,1448.4 1591.0,1428.7 1591.5,1459.4 1592.0,1433.3 1592.5,1447.8 1593.0,1422.7 1593.5,1461.1 1594.0,1436.7 1594.5,1473.4 1595.0,1406.3 1595.5,1454.2 1596.0,1413.5 1596.5,1449.3 1597.0,1421.2 1597.5,1443.6 1598.0,1436.5 1598.5,1442.2 1599.0,1434.5 1599.5,1441.8 1600.0,1431.9 1600.5,1447.0 1601.0,1426.0 1601.5,1448.2 1602.0,1424.6 1602.5,1446.2 1603.0,1414.1 1603.5,1442.6 1604.0,1415.5 1604.5,1461.9 1605.0,1427.7 1605.5,1448.9 1606.0,1429.9 1606.5,1440.9 1607.0,1404.7 1607.5,1440.7 1608.0,1433.2 1608.5,1449.3 1609.0,1411.1 1609.5,1456.6 1610.0,1431.3 1610.5,1470.9 1611.0,1432.1 1611.5,1447.3 1612.0,1431.7 1612.5,1457.7 1613.0,1427.1 1613.5,1443.7 1614.0,1423.9 1614.5,1442.6 1615.0,1433.9 1615.5,1459.3 1616.0,1428.4 1616.5,1463.5 1617.0,1422.3 1617.5,1441.5 1618.0,1419.7 1618.5,1439.3 1619.0,1418.5 1619.5,1504.0 1620.0,1418.8 1620.5,1462.9 1621.0,1415.6 1621.5,1452.5 1622.0,1435.0 1622.5,1445.9 1623.0,1425.6 1623.5,1448.5 1624.0,1435.5 1624.5,1449.3 1625.0,1435.0 1625.5,1442.9 1626.0,1427.2 1626.5,1440.0 1627.0,1412.8 1627.5,1468.3 1628.0,1411.6 1628.5,1440.0 1629.0,1433.0 1629.5,1447.8 1630.0,1434.3 1630.5,1464.6 1631.0,1421.5 1631.5,1439.7 1632.0,1436.2 1632.5,1448.2 1633.0,1430.0 1633.5,1465.0 1634.0,1428.1 1634.5,1447.9 1635.0,1435.0 1635.5,1442.6 1636.0,1436.0 1636.5,1442.5 1637.0,1432.6 1637.5,1442.2 1638.0,1430.9 1638.5,1466.5 1639.0,1426.0 1639.5,1472.0 1640.0,1432.3 1640.5,1452.6 1641.0,1436.1 1641.5,1444.3 1642.0,1408.4 1642.5,1471.2 1643.0,1427.4 1643.5,1454.0 1644.0,1421.8 1644.5,1441.0 1645.0,1408.6 1645.5,1472.4 1646.0,1427.4 1646.5,1444.4 1647.0,1426.6 1647.5,1464.3 1648.0,1435.9 1648.5,1442.3 1649.0,1431.9 1649.5,1444.3 1650.0,1416.3 1650.5,1456.9 1651.0,1418.3 1651.5,1463.6 1652.0,1436.2 1652.5,1469.3 1653.0,1431.8 1653.5,1458.4 1654.0,1423.6 1654.5,1455.7 1655.0,1409.6 1655.5,1459.3 1656.0,1437.6 1656.5,1453.2 1657.0,1434.4 1657.5,1444.9 1658.0,1438.1 1658.5,1451.3 1659.0,1405.3 1659.5,1441.0 1660.0,1435.8 1660.5,1460.1 1661.0,1437.7 1661.5,1441.7 1662.0,1423.1 1662.5,1457.7 1663.0,1426.1 1663.5,1458.3 1664.0,1427.4 1664.5,1441.0 1665.0,1437.7 1665.5,1470.5 1666.0,1436.1 1666.5,1443.7 1667.0,1423.9 1667.5,1440.7 1668.0,1431.9 1668.5,1453.3 1669.0,1437.1 1669.5,1440.4 1670.0,1418.4 1670.5,1437.8 1671.0,1429.8 1671.5,1438.9 1672.0,1430.0 1672.5,1441.2 1673.0,1403.3 1673.5,1467.1 1674.0,1418.8 1674.5,1446.1 1675.0,1435.9 1675.5,1439.9 1676.0,1418.5 1676.5,1456.2 1677.0,1418.7 1677.5,1444.2 1678.0,1425.8 1678.5,1465.1 1679.0,1414.7 1679.5,1457.4 1680.0,1433.3 1680.5,1444.2 1681.0,1433.4 1681.5,1476.3 1682.0,1431.6 1682.5,1437.1 1683.0,1396.7 1683.5,1462.2 1684.0,1433.5 1684.5,1456.0 1685.0,1430.1 1685.5,1457.3 1686.0,1432.1 1686.5,1442.6 1687.0,1429.4 1687.5,1440.3 1688.0,1430.4 1688.5,1445.6 1689.0,1411.4 1689.5,1446.3 1690.0,1430.5 1690.5,1449.0 1691.0,1431.8 1691.5,1445.7 1692.0,1421.5 1692.5,1462.7 1693.0,1427.2 1693.5,1455.2 1694.0,1403.4 1694.5,1456.5 1695.0,1421.4 1695.5,1459.7 1696.0,1411.8 1696.5,1440.8 1697.0,1426.5 1697.5,1456.6 1698.0,1416.2 1698.5,1439.6 1699.0,1410.6 1699.5,1446.1 1700.0,1428.0 1700.5,1469.1 1701.0,1413.6 1701.5,1442.2 1702.0,1430.1 1702.5,1443.1 1703.0,1429.3 1703.5,1448.6 1704.0,1429.7 1704.5,1457.4 1705.0,1424.8 1705.5,1438.6 1706.0,1418.8 1706.5,1440.9 1707.0,1422.8 1707.5,1440.4 1708.0,1413.9 1708.5,1471.0 1709.0,1430.5 1709.5,1444.4 1710.0,1411.3 1710.5,1448.6 1711.0,1422.5 1711.5,1447.4 1712.0,1422.8 1712.5,1464.4 1713.0,1418.2 1713.5,1447.9 1714.0,1397.6 1714.5,1452.1 1715.0,1413.7 1715.5,1464.0 1716.0,1413.5 1716.5,1455.1 1717.0,1402.2 1717.5,1446.2 1718.0,1429.1 1718.5,1446.8 1719.0,1425.7 1719.5,1445.5 1720.0,1405.4 1720.5,1448.1 1721.0,1431.3 1721.5,1437.7 1722.0,1420.4 1722.5,1449.5 1723.0,1415.5 1723.5,1447.8 1724.0,1424.1 1724.5,1433.2 1725.0,1414.5 1725.5,1431.0 1726.0,1419.4 1726.5,1463.0 1727.0,1430.7 1727.5,1431.6 1728.0,1418.4 1728.5,1436.1 1729.0,1415.8 1729.5,1441.8 1730.0,1393.9 1730.5,1451.1 1731.0,1411.2 1731.5,1458.6 1732.0,1419.1 1732.5,1436.1 1733.0,1421.6 1733.5,1439.5 1734.0,1404.8 1734.5,1446.2 1735.0,1412.6 1735.5,1452.0 1736.0,1426.5 1736.5,1435.7 1737.0,1424.5 1737.5,1439.9 1738.0,1416.5 1738.5,1465.3 1739.0,1427.7 1739.5,1438.1 1740.0,1426.8 1740.5,1461.4 1741.0,1421.0 1741.5,1442.5 1742.0,1421.1 1742.5,1457.2 1743.0,1414.1 1743.5,1434.6 1744.0,1426.8 1744.5,1440.1 1745.0,1408.0 1745.5,1437.9 1746.0,1415.0 1746.5,1468.2 1747.0,1429.1 1747.5,1456.8 1748.0,1419.4 1748.5,1436.3 1749.0,1419.9 1749.5,1440.8 1750.0,1425.1 1750.5,1441.2 1751.0,1406.2 1751.5,1435.3 1752.0,1399.3 1752.5,1433.1 1753.0,1415.5 1753.5,1451.0 1754.0,1420.3 1754.5,1437.4 1755.0,1428.2 1755.5,1443.1 1756.0,1401.4 1756.5,1438.3 1757.0,1415.6 1757.5,1453.3 1758.0,1419.4 1758.5,1436.8 1759.0,1421.9 1759.5,1434.0 1760.0,1417.4 1760.5,1435.5 1761.0,1413.3 1761.5,1436.6 1762.0,1408.0 1762.5,1440.3 1763.0,1410.5 1763.5,1466.7 1764.0,1415.0 1764.5,1446.2 1765.0,1402.6 1765.5,1438.4 1766.0,1416.3 1766.5,1464.8 1767.0,1425.9 1767.5,1437.8 1768.0,1426.9 1768.5,1476.9 1769.0,1424.8 1769.5,1442.0 1770.0,1408.0 1770.5,1434.4 1771.0,1402.5 1771.5,1430.8 1772.0,1413.8 1772.5,1441.8 1773.0,1418.6 1773.5,1435.5 1774.0,1425.4 1774.5,1440.4 1775.0,1416.3 1775.5,1478.5 1776.0,1424.3 1776.5,1432.7 1777.0,1415.6 1777.5,1427.4 1778.0,1422.3 1778.5,1452.6 1779.0,1403.8 1779.5,1431.2 1780.0,1424.7 1780.5,1473.5 1781.0,1394.6 1781.5,1431.3 1782.0,1424.6 1782.5,1436.6 1783.0,1407.5 1783.5,1436.1 1784.0,1420.9 1784.5,1434.4 1785.0,1423.1 1785.5,1442.9 1786.0,1416.9 1786.5,1441.0 1787.0,1414.8 1787.5,1429.9 1788.0,1407.8 1788.5,1434.5 1789.0,1418.7 1789.5,1432.7 1790.0,1413.9 1790.5,1431.8 1791.0,1413.0 1791.5,1426.2 1792.0,1408.2 1792.5,1425.7 1793.0,1409.5 1793.5,1432.4 1794.0,1412.6 1794.5,1424.3 1795.0,1405.1 1795.5,1448.8 1796.0,1394.4 1796.5,1429.5 1797.0,1416.0 1797.5,1425.2 1798.0,1415.4 1798.5,1473.4 1799.0,1405.6 1799.5,1422.6 1800.0,1420.6 1800.5,1441.4 1801.0,1402.7 1801.5,1433.4 1802.0,1415.7 1802.5,1429.1 1803.0,1408.5 1803.5,1441.2 1804.0,1414.0 1804.5,1446.0 1805.0,1406.5 1805.5,1439.7 1806.0,1376.3 1806.5,1434.0 1807.0,1411.4 1807.5,1428.9 1808.0,1399.6 1808.5,1425.2 1809.0,1416.1 1809.5,1436.1 1810.0,1412.5 1810.5,1424.7 1811.0,1409.4 1811.5,1435.9 1812.0,1413.0 1812.5,1442.9 1813.0,1405.6 1813.5,1430.5 1814.0,1403.0 1814.5,1421.9 1815.0,1413.8 1815.5,1418.8 1816.0,1412.2 1816.5,1425.5 1817.0,1406.3 1817.5,1450.8 1818.0,1402.5 1818.5,1422.3 1819.0,1383.5 1819.5,1455.2 1820.0,1411.1 1820.5,1414.7 1821.0,1395.3 1821.5,1431.4 1822.0,1407.8 1822.5,1425.2 1823.0,1403.5 1823.5,1433.8 1824.0,1398.4 1824.5,1448.0 1825.0,1390.3 1825.5,1414.7 1826.0,1405.6 1826.5,1415.5 1827.0,1387.0 1827.5,1419.9 1828.0,1388.1 1828.5,1407.0 1829.0,1391.1 1829.5,1423.9 1830.0,1398.7 1830.5,1424.2 1831.0,1374.7 1831.5,1410.1 1832.0,1392.5 1832.5,1402.7 1833.0,1394.4 1833.5,1428.8 1834.0,1394.5 1834.5,1422.8 1835.0,1393.4 1835.5,1397.9 1836.0,1378.9 1836.5,1397.4 1837.0,1389.3 1837.5,1399.9 1838.0,1388.5 1838.5,1419.4 1839.0,1378.8 1839.5,1396.2 1840.0,1384.1 1840.5,1396.2 1841.0,1385.9 1841.5,1405.0 1842.0,1387.7 1842.5,1413.4 1843.0,1386.8 1843.5,1416.7 1844.0,1381.0 1844.5,1422.9 1845.0,1377.5 1845.5,1411.1 1846.0,1385.4 1846.5,1402.3 1847.0,1386.7 1847.5,1417.1 1848.0,1381.6 1848.5,1426.4 1849.0,1385.1 1849.5,1397.2 1850.0,1381.5 1850.5,1388.6 1851.0,1381.0 1851.5,1394.3 1852.0,1352.2 1852.5,1385.1 1853.0,1381.8 1853.5,1396.4 1854.0,1364.3 1854.5,1413.3 1855.0,1373.2 1855.5,1417.2 1856.0,1361.4 1856.5,1398.0 1857.0,1377.2 1857.5,1402.6 1858.0,1380.4 1858.5,1380.9 1859.0,1363.1 1859.5,1393.3 1860.0,1373.5 1860.5,1379.7 1861.0,1374.2 1861.5,1389.4 1862.0,1351.8 1862.5,1407.5 1863.0,1366.5 1863.5,1380.3 1864.0,1360.7 1864.5,1418.3 1865.0,1349.1 1865.5,1381.8 1866.0,1345.7 1866.5,1375.5 1867.0,1365.1 1867.5,1415.7 1868.0,1356.0 1868.5,1379.1 1869.0,1367.1 1869.5,1397.8 1870.0,1361.1 1870.5,1384.1 1871.0,1362.8 1871.5,1391.2 1872.0,1364.2 1872.5,1370.5 1873.0,1349.3 1873.5,1382.2 1874.0,1353.6 1874.5,1383.1 1875.0,1357.3 1875.5,1368.2 1876.0,1355.6 1876.5,1371.3 1877.0,1354.5 1877.5,1372.4 1878.0,1340.4 1878.5,1372.8 1879.0,1355.7 1879.5,1360.1 1880.0,1341.4 1880.5,1388.3 1881.0,1352.5 1881.5,1362.3 1882.0,1339.4 1882.5,1357.6 1883.0,1345.7 1883.5,1371.9 1884.0,1332.6 1884.5,1374.6 1885.0,1332.2 1885.5,1354.0 1886.0,1331.0 1886.5,1360.5 1887.0,1331.8 1887.5,1357.5 1888.0,1336.4 1888.5,1374.5 1889.0,1319.4 1889.5,1353.0 1890.0,1315.0 1890.5,1353.3 1891.0,1299.2 1891.5,1344.5 1892.0,1329.6 1892.5,1336.9 1893.0,1322.6 1893.5,1330.8 1894.0,1326.3 1894.5,1356.1 1895.0,1300.5 1895.5,1346.5 1896.0,1321.7 1896.5,1344.2 1897.0,1313.1 1897.5,1323.5 1898.0,1299.7 1898.5,1326.2 1899.0,1306.4 1899.5,1324.5 1900.0,1315.4 1900.5,1328.7 1901.0,1313.3 1901.5,1317.6 1902.0,1302.0 1902.5,1315.6 1903.0,1304.7 1903.5,1323.7 1904.0,1306.0 1904.5,1318.4 1905.0,1292.9 1905.5,1301.7 1906.0,1290.2 1906.5,1295.6 1907.0,1278.5 1907.5,1278.4 1908.0,1247.3 1908.5,1234.4 1909.0,1201.0 1909.5,1186.7 1910.0,1155.9 1910.5,1140.2 1911.0,1110.8 1911.5,1082.3 1912.0,1006.3 1912.5,916.6 1913.0,848.0 1913.5,797.8 1914.0,757.6 1914.5,736.3 1915.0,715.3 1915.5,716.3 1916.0,728.6 1916.5,756.1 1917.0,782.1 1917.5,819.4 1918.0,858.5 1918.5,903.6 1919.0,950.4 1919.5,1007.5 1920.0,1055.3 1920.5,1097.3 1921.0,1119.4 1921.5,1159.2 1922.0,1179.2 1922.5,1211.5 1923.0,1222.5 1923.5,1249.2 1924.0,1263.8 1924.5,1287.0 1925.0,1289.3 1925.5,1311.3 1926.0,1277.0 1926.5,1316.8 1927.0,1301.0 1927.5,1331.1 1928.0,1312.5 1928.5,1326.3 1929.0,1310.2 1929.5,1323.2 1930.0,1320.6 1930.5,1337.7 1931.0,1315.6 1931.5,1344.8 1932.0,1320.3 1932.5,1360.1 1933.0,1322.2 1933.5,1336.0 1934.0,1309.0 1934.5,1368.2 1935.0,1303.5 1935.5,1362.0 1936.0,1319.4 1936.5,1368.8 1937.0,1335.0 1937.5,1347.6 1938.0,1339.1 1938.5,1347.3 1939.0,1328.8 1939.5,1346.3 1940.0,1327.5 1940.5,1352.1 1941.0,1341.1 1941.5,1362.7 1942.0,1345.3 1942.5,1358.5 1943.0,1351.4 1943.5,1370.8 1944.0,1350.4 1944.5,1363.2 1945.0,1334.8 1945.5,1364.6 1946.0,1346.4 1946.5,1376.6 1947.0,1355.1 1947.5,1381.1 1948.0,1343.2 1948.5,1373.6 1949.0,1355.2 1949.5,1379.5 1950.0,1351.5 1950.5,1379.5 1951.0,1355.6 1951.5,1376.4 1952.0,1371.5 1952.5,1382.9 1953.0,1368.1 1953.5,1388.5 1954.0,1372.6 1954.5,1381.7 1955.0,1379.5 1955.5,1394.1 1956.0,1382.7 1956.5,1410.9 1957.0,1373.6 1957.5,1408.3 1958.0,1358.3 1958.5,1390.9 1959.0,1371.1 1959.5,1415.1 1960.0,1374.4 1960.5,1408.6 1961.0,1387.3 1961.5,1411.9 1962.0,1391.4 1962.5,1401.4 1963.0,1384.5 1963.5,1405.4 1964.0,1392.1 1964.5,1414.4 1965.0,1387.5 1965.5,1417.8 1966.0,1391.2 1966.5,1397.3 1967.0,1372.3 1967.5,1423.5 1968.0,1385.4 1968.5,1415.0 1969.0,1392.8 1969.5,1451.0 1970.0,1372.8 1970.5,1449.0 1971.0,1391.2 1971.5,1405.6 1972.0,1381.0 1972.5,1401.6 1973.0,1393.0 1973.5,1417.4 1974.0,1383.4 1974.5,1401.1 1975.0,1385.7 1975.5,1403.0 1976.0,1370.8 1976.5,1408.9 1977.0,1380.6 1977.5,1424.5 1978.0,1384.1 1978.5,1405.5 1979.0,1395.8 1979.5,1433.4 1980.0,1372.0 1980.5,1420.1 1981.0,1390.5 1981.5,1436.3 1982.0,1394.8 1982.5,1440.1 1983.0,1387.7 1983.5,1424.0 1984.0,1386.2 1984.5,1406.0 1985.0,1377.6 1985.5,1441.1 1986.0,1392.8 1986.5,1444.0 1987.0,1372.7 1987.5,1412.0 1988.0,1400.5 1988.5,1409.1 1989.0,1393.3 1989.5,1443.4 1990.0,1397.7 1990.5,1439.9 1991.0,1401.5 1991.5,1430.6 1992.0,1391.6 1992.5,1411.3 1993.0,1402.3 1993.5,1426.8 1994.0,1405.2 1994.5,1422.4 1995.0,1397.7 1995.5,1411.5 1996.0,1400.6 1996.5,1412.6 1997.0,1395.4 1997.5,1410.5 1998.0,1407.6 1998.5,1419.8 1999.0,1406.4 1999.5,1444.7 2000.0,1366.1 2000.5,1423.4 2001.0,1408.3 2001.5,1419.8 2002.0,1402.3 2002.5,1418.6 2003.0,1402.6 2003.5,1420.2 2004.0,1389.1 2004.5,1430.8 2005.0,1393.1 2005.5,1448.7 2006.0,1391.1 2006.5,1435.1 2007.0,1410.6 2007.5,1442.4 2008.0,1386.5 2008.5,1446.0 2009.0,1413.0 2009.5,1421.6 2010.0,1392.2 2010.5,1452.3 2011.0,1400.2 2011.5,1431.1 2012.0,1415.7 2012.5,1431.6 2013.0,1415.2 2013.5,1418.5 2014.0,1408.1 2014.5,1420.8 2015.0,1414.9 2015.5,1437.4 2016.0,1408.9 2016.5,1428.3 2017.0,1415.3 2017.5,1435.2 2018.0,1409.7 2018.5,1431.0 2019.0,1420.2 2019.5,1436.5 2020.0,1406.9 2020.5,1471.3 2021.0,1407.9 2021.5,1453.3 2022.0,1409.1 2022.5,1441.5 2023.0,1401.7 2023.5,1447.0 2024.0,1409.6 2024.5,1440.0 2025.0,1399.7 2025.5,1438.1 2026.0,1415.6 2026.5,1445.3 2027.0,1413.8 2027.5,1431.7 2028.0,1405.0 2028.5,1448.8 2029.0,1408.7 2029.5,1434.7 2030.0,1419.6 2030.5,1425.3 2031.0,1422.4 2031.5,1441.9 2032.0,1424.9 2032.5,1433.2 2033.0,1401.0 2033.5,1432.5 2034.0,1396.5 2034.5,1461.5 2035.0,1404.1 2035.5,1440.2 2036.0,1408.9 2036.5,1466.4 2037.0,1412.0 2037.5,1459.5 2038.0,1423.2 2038.5,1475.1 2039.0,1413.5 2039.5,1453.0 2040.0,1426.8 2040.5,1434.8 2041.0,1412.1 2041.5,1434.1 2042.0,1423.8 2042.5,1431.8 2043.0,1424.7 2043.5,1477.3 2044.0,1420.6 2044.5,1443.7 2045.0,1424.8 2045.5,1459.2 2046.0,1423.7 2046.5,1433.5 2047.0,1412.5 2047.5,1441.9 2048.0,1415.5 2048.5,1436.5 2049.0,1426.9 2049.5,1473.5 2050.0,1423.7 2050.5,1441.8 2051.0,1418.6 2051.5,1439.9 2052.0,1427.2 2052.5,1476.0 2053.0,1425.7 2053.5,1431.2 2054.0,1408.6 2054.5,1456.8 2055.0,1425.8 2055.5,1435.0 2056.0,1408.5 2056.5,1464.0 2057.0,1420.8 2057.5,1462.1 2058.0,1423.4 2058.5,1447.5 2059.0,1420.0 2059.5,1464.1 2060.0,1424.0 2060.5,1453.2 2061.0,1429.0 2061.5,1434.0 2062.0,1423.7 2062.5,1432.0 2063.0,1415.1 2063.5,1464.9 2064.0,1422.3 2064.5,1445.3 2065.0,1427.0 2065.5,1453.7 2066.0,1411.5 2066.5,1438.8 2067.0,1430.1 2067.5,1438.1 2068.0,1428.5 2068.5,1453.9 2069.0,1403.8 2069.5,1449.2 2070.0,1428.3 2070.5,1450.6 2071.0,1411.8 2071.5,1436.9 2072.0,1423.2 2072.5,1439.5 2073.0,1422.3 2073.5,1438.1 2074.0,1393.4 2074.5,1440.2 2075.0,1424.5 2075.5,1440.8 2076.0,1426.2 2076.5,1450.3 2077.0,1430.3 2077.5,1441.5 2078.0,1431.7 2078.5,1448.4 2079.0,1413.7 2079.5,1444.2 2080.0,1417.2 2080.5,1460.6 2081.0,1428.8 2081.5,1448.9 2082.0,1431.9 2082.5,1457.4 2083.0,1429.1 2083.5,1437.0 2084.0,1415.2 2084.5,1452.2 2085.0,1403.4 2085.5,1471.1 2086.0,1428.1 2086.5,1442.0 2087.0,1417.9 2087.5,1434.3 2088.0,1413.3 2088.5,1478.7 2089.0,1417.6 2089.5,1439.0 2090.0,1403.3 2090.5,1448.3 2091.0,1413.3 2091.5,1473.6 2092.0,1426.6 2092.5,1438.6 2093.0,1431.2 2093.5,1462.9 2094.0,1419.9 2094.5,1479.5 2095.0,1430.9 2095.5,1465.5 2096.0,1387.8 2096.5,1455.6 2097.0,1425.5 2097.5,1439.2 2098.0,1428.0 2098.5,1454.7 2099.0,1416.3 2099.5,1454.9 2100.0,1402.6 2100.5,1436.5 2101.0,1402.0 2101.5,1449.1 2102.0,1400.9 2102.5,1437.9 2103.0,1415.0 2103.5,1436.4 2104.0,1420.1 2104.5,1483.5 2105.0,1410.8 2105.5,1439.5 2106.0,1423.8 2106.5,1452.5 2107.0,1412.9 2107.5,1449.5 2108.0,1420.3 2108.5,1435.5 2109.0,1404.9 2109.5,1428.8 2110.0,1412.7 2110.5,1434.0 2111.0,1419.6 2111.5,1447.9 2112.0,1399.8 2112.5,1434.3 2113.0,1417.1 2113.5,1452.6 2114.0,1414.4 2114.5,1449.7 2115.0,1401.5 2115.5,1424.1 2116.0,1387.1 2116.5,1418.1 2117.0,1409.3 2117.5,1428.4 2118.0,1391.2 2118.5,1426.2 2119.0,1386.3 2119.5,1423.5 2120.0,1398.2 2120.5,1450.6 2121.0,1397.7 2121.5,1425.1 2122.0,1390.5 2122.5,1438.4 2123.0,1389.9 2123.5,1409.2 2124.0,1377.1 2124.5,1389.5 2125.0,1369.6 2125.5,1386.1 2126.0,1359.6 2126.5,1390.7 2127.0,1376.6 2127.5,1402.7 2128.0,1363.4 2128.5,1379.5 2129.0,1364.6 2129.5,1384.6 2130.0,1371.3 2130.5,1379.7 2131.0,1363.9 2131.5,1391.1 2132.0,1361.6 2132.5,1382.3 2133.0,1371.1 2133.5,1413.4 2134.0,1377.4 2134.5,1401.1 2135.0,1357.5 2135.5,1420.3 2136.0,1360.4 2136.5,1398.0 2137.0,1384.4 2137.5,1399.1 2138.0,1354.5 2138.5,1395.9 2139.0,1384.3 2139.5,1431.8 2140.0,1385.5 2140.5,1428.0 2141.0,1384.1 2141.5,1414.2 2142.0,1401.7 2142.5,1409.1 2143.0,1379.5 2143.5,1411.0 2144.0,1370.6 2144.5,1420.6 2145.0,1404.6 2145.5,1420.9 2146.0,1389.9 2146.5,1422.6 2147.0,1394.4 2147.5,1430.6 2148.0,1394.3 2148.5,1428.8 2149.0,1378.0 2149.5,1454.7 2150.0,1393.5 2150.5,1443.1 2151.0,1407.9 2151.5,1418.1 2152.0,1384.3 2152.5,1429.7 2153.0,1413.3 2153.5,1437.4 2154.0,1400.8 2154.5,1442.4 2155.0,1414.7 2155.5,1432.4 2156.0,1389.0 2156.5,1431.0 2157.0,1400.8 2157.5,1423.4 2158.0,1410.6 2158.5,1418.1 2159.0,1410.9 2159.5,1426.3 2160.0,1397.9 2160.5,1429.5 2161.0,1396.2 2161.5,1425.5 2162.0,1377.1 2162.5,1443.0 2163.0,1395.9 2163.5,1417.0 2164.0,1393.6 2164.5,1418.7 2165.0,1382.0 2165.5,1407.9 2166.0,1389.8 2166.5,1413.2 2167.0,1392.6 2167.5,1421.6 2168.0,1381.1 2168.5,1439.6 2169.0,1358.6 2169.5,1421.7 2170.0,1386.3 2170.5,1410.8 2171.0,1392.9 2171.5,1406.0 2172.0,1389.7 2172.5,1424.3 2173.0,1385.1 2173.5,1410.1 2174.0,1379.6 2174.5,1419.4 2175.0,1377.0 2175.5,1391.1 2176.0,1380.3 2176.5,1403.6 2177.0,1374.5 2177.5,1390.4 2178.0,1350.4 2178.5,1419.9 2179.0,1377.8 2179.5,1392.4 2180.0,1370.4 2180.5,1377.8 2181.0,1372.8 2181.5,1400.2 2182.0,1349.1 2182.5,1380.1 2183.0,1339.7 2183.5,1373.9 2184.0,1357.6 2184.5,1371.3 2185.0,1342.8 2185.5,1359.1 2186.0,1343.1 2186.5,1384.1 2187.0,1323.0 2187.5,1386.9 2188.0,1343.3 2188.5,1350.9 2189.0,1316.7 2189.5,1346.2 2190.0,1307.6 2190.5,1337.9 2191.0,1332.1 2191.5,1362.2 2192.0,1326.0 2192.5,1345.5 2193.0,1311.5 2193.5,1356.8 2194.0,1319.0 2194.5,1331.8 2195.0,1299.1 2195.5,1333.0 2196.0,1310.3 2196.5,1312.0 2197.0,1294.7 2197.5,1313.0 2198.0,1296.5 2198.5,1308.6 2199.0,1297.6 2199.5,1309.2 2200.0,1279.1 2200.5,1315.0 2201.0,1286.3 2201.5,1287.0 2202.0,1265.2 2202.5,1284.7 2203.0,1268.4 2203.5,1287.7 2204.0,1261.6 2204.5,1288.6 2205.0,1253.3 2205.5,1286.5 2206.0,1249.6 2206.5,1247.4 2207.0,1229.2 2207.5,1237.9 2208.0,1227.3 2208.5,1235.3 2209.0,1210.4 2209.5,1221.2 2210.0,1207.1 2210.5,1208.7 2211.0,1183.3 2211.5,1194.2 2212.0,1182.6 2212.5,1179.0 2213.0,1165.8 2213.5,1178.4 2214.0,1144.6 2214.5,1147.4 2215.0,1130.8 2215.5,1131.5 2216.0,1105.6 2216.5,1101.0 2217.0,1088.6 2217.5,1079.6 2218.0,1064.1 2218.5,1061.8 2219.0,1048.1 2219.5,1043.5 2220.0,1031.5 2220.5,1027.9 2221.0,1015.8 2221.5,1014.3 2222.0,999.4 2222.5,995.3 2223.0,982.8 2223.5,976.3 2224.0,960.5 2224.5,951.6 2225.0,936.6 2225.5,931.2 2226.0,917.1 2226.5,914.4 2227.0,911.3 2227.5,921.8 2228.0,923.9 2228.5,935.4 2229.0,941.8 2229.5,959.9 2230.0,964.8 2230.5,974.2 2231.0,981.1 2231.5,993.5 2232.0,992.2 2232.5,1009.4 2233.0,1003.9 2233.5,1015.7 2234.0,1019.4 2234.5,1039.9 2235.0,1034.6 2235.5,1049.1 2236.0,1052.7 2236.5,1073.3 2237.0,1072.1 2237.5,1087.7 2238.0,1093.4 2238.5,1133.0 2239.0,1124.5 2239.5,1156.9 2240.0,1157.6 2240.5,1180.9 2241.0,1175.8 2241.5,1186.9 2242.0,1192.4 2242.5,1207.1 2243.0,1203.7 2243.5,1220.4 2244.0,1218.0 2244.5,1225.9 2245.0,1216.2 2245.5,1240.1 2246.0,1226.2 2246.5,1247.9 2247.0,1236.3 2247.5,1256.1 2248.0,1248.4 2248.5,1262.9 2249.0,1260.4 2249.5,1282.0 2250.0,1267.6 2250.5,1295.7 2251.0,1270.1 2251.5,1305.8 2252.0,1268.8 2252.5,1301.1 2253.0,1296.0 2253.5,1302.9 2254.0,1300.2 2254.5,1308.7 2255.0,1301.7 2255.5,1318.0 2256.0,1314.3 2256.5,1328.9 2257.0,1301.7 2257.5,1339.5 2258.0,1331.0 2258.5,1343.4 2259.0,1332.3 2259.5,1359.1 2260.0,1335.9 2260.5,1362.0 2261.0,1343.9 2261.5,1359.3 2262.0,1341.9 2262.5,1360.7 2263.0,1346.4 2263.5,1371.0 2264.0,1357.3 2264.5,1361.4 2265.0,1342.3 2265.5,1391.2 2266.0,1358.4 2266.5,1394.4 2267.0,1349.7 2267.5,1376.5 2268.0,1361.9 2268.5,1381.4 2269.0,1370.1 2269.5,1379.0 2270.0,1372.2 2270.5,1389.1 2271.0,1364.8 2271.5,1401.4 2272.0,1365.4 2272.5,1408.1 2273.0,1384.2 2273.5,1392.6 2274.0,1351.9 2274.5,1399.3 2275.0,1390.8 2275.5,1417.9 2276.0,1383.0 2276.5,1401.0 2277.0,1382.0 2277.5,1411.6 2278.0,1392.8 2278.5,1406.2 2279.0,1382.9 2279.5,1405.0 2280.0,1394.7 2280.5,1417.1 2281.0,1403.7 2281.5,1417.0 2282.0,1384.3 2282.5,1426.7 2283.0,1397.5 2283.5,1439.6 2284.0,1392.0 2284.5,1424.8 2285.0,1397.9 2285.5,1428.6 2286.0,1399.5 2286.5,1419.5 2287.0,1417.5 2287.5,1448.9 2288.0,1406.7 2288.5,1459.7 2289.0,1410.6 2289.5,1473.0 2290.0,1413.6 2290.5,1443.4 2291.0,1415.2 2291.5,1442.8 2292.0,1411.3 2292.5,1435.3 2293.0,1425.8 2293.5,1443.6 2294.0,1416.7 2294.5,1442.7 2295.0,1422.2 2295.5,1450.7 2296.0,1419.2 2296.5,1439.6 2297.0,1431.0 2297.5,1432.8 2298.0,1415.2 2298.5,1433.3 2299.0,1405.1 2299.5,1450.5 2300.0,1424.6 2300.5,1447.6 2301.0,1389.5 2301.5,1457.2 2302.0,1425.9"/></g>
<line x1="279.3" y1="880" x2="386" y2="880" stroke="#000" stroke-width="7.6" stroke-dasharray="21.5 14.3"/>
<line x1="382" y1="884" x2="382" y2="1773.5" stroke="#000" stroke-width="7.6" stroke-dasharray="21.5 14.3"/>
<line x1="283" y1="876" x2="283" y2="1773.5" stroke="#000" stroke-width="7.6" stroke-dasharray="21.5 14.3"/>
<line x1="280.2" y1="1769.7" x2="386" y2="1769.7" stroke="#000" stroke-width="7.6" stroke-dasharray="21.5 14.3"/>
<line x1="283" y1="880" x2="339" y2="226" stroke="#000" stroke-width="7.6" stroke-dasharray="21.4 14.3"/>
<text transform="translate(441.3,1971.0) scale(1.0,1.02)" text-anchor="middle" style="font-family:'Liberation Sans',sans-serif;font-kerning:none;font-size:95px">10</text>
<text transform="translate(690.2,1971.0) scale(1.0,1.02)" text-anchor="middle" style="font-family:'Liberation Sans',sans-serif;font-kerning:none;font-size:95px">20</text>
<text transform="translate(939.2,1971.0) scale(1.0,1.02)" text-anchor="middle" style="font-family:'Liberation Sans',sans-serif;font-kerning:none;font-size:95px">30</text>
<text transform="translate(1188.2,1971.0) scale(1.0,1.02)" text-anchor="middle" style="font-family:'Liberation Sans',sans-serif;font-kerning:none;font-size:95px">40</text>
<text transform="translate(1437.1,1971.0) scale(1.0,1.02)" text-anchor="middle" style="font-family:'Liberation Sans',sans-serif;font-kerning:none;font-size:95px">50</text>
<text transform="translate(1686.1,1971.0) scale(1.0,1.02)" text-anchor="middle" style="font-family:'Liberation Sans',sans-serif;font-kerning:none;font-size:95px">60</text>
<text transform="translate(1935.0,1971.0) scale(1.0,1.02)" text-anchor="middle" style="font-family:'Liberation Sans',sans-serif;font-kerning:none;font-size:95px">70</text>
<text transform="translate(2184.0,1971.0) scale(1.0,1.02)" text-anchor="middle" style="font-family:'Liberation Sans',sans-serif;font-kerning:none;font-size:95px">80</text>
<text transform="translate(1128.0,2084.3) scale(1.065,1.04)" style="font-family:'Liberation Sans',sans-serif;font-kerning:none;font-size:115px">2</text>
<text transform="translate(1193.8,2084.3) scale(1.065,1.04)" style="font-family:'Liberation Sans',sans-serif;font-kerning:none;font-size:115px">θ</text>
<text transform="translate(1291.4,2084.3) scale(1.0,1.04)" style="font-family:'Liberation Sans',sans-serif;font-kerning:none;font-size:115px">(</text>
<text transform="translate(1330.9,2084.3) scale(1.0,1.04)" style="font-family:'Liberation Sans',sans-serif;font-kerning:none;font-size:115px">°</text>
<text transform="translate(1382.9,2084.3) scale(1.0,1.04)" style="font-family:'Liberation Sans',sans-serif;font-kerning:none;font-size:115px">)</text>
<text transform="translate(130.3,1360) rotate(-90) scale(1,1.04)" style="font-family:'Liberation Sans',sans-serif;font-kerning:none;font-size:115px">Intensity (a.u.)</text>
<text transform="translate(532.0,190.2) scale(1.0,1.04)" style="font-family:'Liberation Sans',sans-serif;font-kerning:none;font-size:86px">Boc-Phe</text>
<text transform="translate(998.0,190.0) scale(1.0,1.04)" style="font-family:'Liberation Sans',sans-serif;font-kerning:none;font-size:86px">Au(111)</text>
<text transform="translate(1743.5,186.8) scale(1.0,1.04)" style="font-family:'Liberation Sans',sans-serif;font-kerning:none;font-size:87px">Si(400)</text>
<text transform="translate(2066.0,190.5) scale(1.0,1.04)" style="font-family:'Liberation Sans',sans-serif;font-kerning:none;font-size:86px">Au(222)</text>
<text transform="translate(1938.0,100.4) scale(1.0,1.04)" style="font-family:'Liberation Sans',sans-serif;font-kerning:none;font-size:87px">Au(311)</text>
<rect x="341" y="228" width="763" height="606" fill="#fff" stroke="none"/>
<polyline fill="none" stroke="#000" stroke-width="5.5" stroke-linejoin="round" stroke-linecap="round" points="341.0,712.1 344.4,705.8 347.8,707.8 351.2,702.3 354.6,701.9 358.0,703.7 361.4,702.4 364.8,702.0 368.2,704.2 371.6,702.5 375.0,704.4 378.4,697.3 381.8,695.0 385.2,693.5 388.6,698.7 392.0,699.0 395.4,700.1 398.8,693.0 402.2,691.1 405.6,685.6 409.0,684.4 412.4,684.1 415.8,687.3 419.2,687.1 422.6,682.8 426.0,678.9 429.4,676.0 432.8,676.4 436.2,673.2 439.6,672.7 443.0,670.7 446.4,669.3 449.8,668.1 453.2,666.0 456.6,666.8 460.0,664.2 463.4,662.9 466.8,659.2 470.2,659.0 473.6,655.3 477.0,653.5 480.4,653.7 483.8,649.5 487.2,649.4 490.6,650.1 494.0,651.4 497.4,650.3 500.8,650.1 504.2,644.9 507.6,639.1 511.0,635.8 514.4,634.3 517.8,635.9 521.2,634.0 524.6,631.0 528.0,630.6 531.4,629.7 534.8,628.3 538.2,627.3 541.6,628.7 545.0,623.7 548.4,623.6 551.8,621.1 555.2,619.9 558.6,618.0 562.0,617.1 565.4,614.8 568.8,613.7 572.2,610.1 575.6,605.4 579.0,606.2 582.4,600.0 585.8,599.7 589.2,599.8 592.6,594.2 596.0,594.6 599.4,592.7 602.8,589.4 606.2,584.8 609.6,586.7 613.0,582.9 616.4,579.5 619.8,578.8 623.2,573.4 626.6,572.8 630.0,568.4 633.4,567.3 636.8,562.9 640.2,561.9 643.6,560.6 647.0,561.0 650.4,562.4 653.8,562.5 657.2,563.7 660.6,567.3 664.0,567.4 667.4,564.3 670.8,564.0 674.2,561.5 677.6,559.5 681.0,556.8 684.4,553.9 687.8,549.7 691.2,549.6 694.6,547.0 698.0,550.4 701.4,549.3 704.8,550.4 708.2,551.9 711.6,555.7 715.0,559.4 718.4,567.5 721.8,572.7 725.2,584.3 728.6,593.8 732.0,605.0 735.4,611.3 738.8,619.1 742.2,626.7 745.6,632.1 749.0,636.0 752.4,638.3 755.8,641.3 759.2,644.2 762.6,646.2 766.0,646.6 769.4,647.9 772.8,650.0 776.2,651.8 779.6,650.7 783.0,651.6 786.4,651.6 789.8,651.1 793.2,649.5 796.6,650.3 800.0,651.0 803.4,655.9 806.8,661.2 810.2,663.0 813.6,669.2 817.0,672.6 820.4,673.6 823.8,678.0 827.2,677.4 830.6,679.4 834.0,682.0 837.4,685.7 840.8,690.1 844.2,693.8 847.6,700.4 851.0,700.7 854.4,702.6 857.8,705.0 861.2,706.7 864.6,709.1 868.0,711.1 871.4,710.2 874.8,713.4 878.2,709.7 881.6,708.8 885.0,713.1 888.4,716.8 891.8,725.1 895.2,723.9 898.6,724.1 902.0,722.5 905.4,720.1 908.8,720.0 912.2,721.0 915.6,725.5 919.0,727.9 922.4,728.8 925.8,722.1 929.2,722.9 932.6,726.8 936.0,731.2 939.4,730.5 942.8,730.8 946.2,728.0 949.6,726.2 953.0,728.8 956.4,736.6 959.8,740.8 963.2,735.1 966.6,732.3 970.0,723.7 973.4,724.7 976.8,730.5 980.2,733.2 983.6,735.1 987.0,734.1 990.4,734.5 993.8,736.5 997.2,725.9 1000.6,719.8 1004.0,719.7 1007.4,720.2 1010.8,725.4 1014.2,730.7 1017.6,740.6 1021.0,744.0 1024.4,736.2 1027.8,729.8 1031.2,724.0 1034.6,719.8 1038.0,717.7 1041.4,716.7 1044.8,729.9 1048.2,730.4 1051.6,731.8 1055.0,728.0 1058.4,725.7 1061.8,721.6 1065.2,721.1 1068.6,719.9 1072.0,720.6 1075.4,723.8 1078.8,731.0 1082.2,729.2 1085.6,724.3 1089.0,719.4 1092.4,715.0 1095.8,713.1 1099.2,711.5 1102.6,714.5"/>
<polyline fill="none" stroke="#00f" stroke-width="5.5" stroke-linejoin="round" stroke-linecap="round" points="341.0,495.6 344.4,493.2 347.8,494.2 351.2,493.9 354.6,495.5 358.0,496.4 361.4,494.3 364.8,495.9 368.2,495.0 371.6,496.5 375.0,496.8 378.4,495.8 381.8,496.3 385.2,495.6 388.6,495.3 392.0,494.6 395.4,496.3 398.8,496.0 402.2,495.7 405.6,496.2 409.0,496.1 412.4,495.4 415.8,496.0 419.2,497.7 422.6,496.4 426.0,498.1 429.4,495.5 432.8,495.3 436.2,496.8 439.6,497.4 443.0,495.9 446.4,497.1 449.8,497.3 453.2,497.3 456.6,496.0 460.0,495.9 463.4,494.1 466.8,495.6 470.2,495.7 473.6,496.7 477.0,493.9 480.4,494.2 483.8,493.9 487.2,495.7 490.6,492.1 494.0,493.6 497.4,496.7 500.8,495.3 504.2,493.3 507.6,494.7 511.0,495.8 514.4,495.7 517.8,495.1 521.2,494.8 524.6,496.6 528.0,495.9 531.4,496.8 534.8,496.4 538.2,495.5 541.6,497.3 545.0,495.1 548.4,495.8 551.8,494.4 555.2,494.5 558.6,494.2 562.0,493.5 565.4,494.1 568.8,494.9 572.2,495.2 575.6,494.5 579.0,492.7 582.4,494.1 585.8,492.8 589.2,493.9 592.6,490.6 596.0,493.0 599.4,490.6 602.8,492.0 606.2,490.0 609.6,491.0 613.0,489.4 616.4,487.3 619.8,487.7 623.2,487.9 626.6,487.6 630.0,484.8 633.4,485.2 636.8,485.0 640.2,484.9 643.6,484.6 647.0,482.8 650.4,481.2 653.8,482.0 657.2,480.0 660.6,479.5 664.0,476.1 667.4,475.1 670.8,471.1 674.2,468.8 677.6,464.6 681.0,462.3 684.4,459.5 687.8,459.1 691.2,457.7 694.6,458.4 698.0,459.5 701.4,462.3 704.8,459.9 708.2,461.4 711.6,461.8 715.0,464.0 718.4,464.8 721.8,467.4 725.2,470.0 728.6,475.8 732.0,477.7 735.4,475.8 738.8,478.3 742.2,478.6 745.6,477.3 749.0,481.2 752.4,484.3 755.8,485.6 759.2,487.4 762.6,486.3 766.0,489.6 769.4,490.3 772.8,490.4 776.2,490.3 779.6,491.2 783.0,491.2 786.4,493.3 789.8,493.2 793.2,495.2 796.6,493.2 800.0,495.5 803.4,493.8 806.8,494.6 810.2,494.1 813.6,496.0 817.0,495.7 820.4,496.6 823.8,497.7 827.2,496.4 830.6,497.1 834.0,497.8 837.4,497.1 840.8,496.8 844.2,497.9 847.6,498.3 851.0,498.8 854.4,499.1 857.8,497.8 861.2,499.1 864.6,500.1 868.0,498.7 871.4,499.7 874.8,499.0 878.2,500.1 881.6,502.0 885.0,500.8 888.4,500.0 891.8,501.8 895.2,502.2 898.6,503.6 902.0,501.6 905.4,502.5 908.8,503.8 912.2,502.7 915.6,505.8 919.0,502.9 922.4,504.5 925.8,504.2 929.2,505.4 932.6,507.2 936.0,507.3 939.4,507.8 942.8,507.7 946.2,505.1 949.6,507.5 953.0,505.3 956.4,506.6 959.8,506.6 963.2,506.3 966.6,507.2 970.0,505.7 973.4,508.1 976.8,506.9 980.2,507.4 983.6,507.0 987.0,507.2 990.4,506.3 993.8,508.5 997.2,505.7 1000.6,507.4 1004.0,507.2 1007.4,507.2 1010.8,507.9 1014.2,507.1 1017.6,508.8 1021.0,508.8 1024.4,508.3 1027.8,509.0 1031.2,507.3 1034.6,506.6 1038.0,508.0 1041.4,508.4 1044.8,511.2 1048.2,508.6 1051.6,510.0 1055.0,509.9 1058.4,511.4 1061.8,509.5 1065.2,510.3 1068.6,509.6 1072.0,509.1 1075.4,509.1 1078.8,509.4 1082.2,511.7 1085.6,510.6 1089.0,510.1 1092.4,510.1 1095.8,509.3 1099.2,509.6 1102.6,509.2"/>
<polyline fill="none" stroke="#f00" stroke-width="5.5" stroke-linejoin="round" stroke-linecap="round" points="341.0,346.9 344.4,347.4 347.8,345.2 351.2,347.3 354.6,348.7 358.0,346.5 361.4,347.5 364.8,348.0 368.2,349.0 371.6,348.6 375.0,347.9 378.4,348.7 381.8,349.3 385.2,348.7 388.6,350.2 392.0,348.8 395.4,347.4 398.8,347.6 402.2,348.3 405.6,348.1 409.0,348.9 412.4,348.5 415.8,349.8 419.2,348.8 422.6,349.4 426.0,347.1 429.4,347.4 432.8,348.5 436.2,347.9 439.6,348.6 443.0,348.3 446.4,347.6 449.8,350.1 453.2,349.6 456.6,347.1 460.0,348.1 463.4,348.8 466.8,349.5 470.2,348.7 473.6,347.4 477.0,349.5 480.4,348.4 483.8,349.7 487.2,348.7 490.6,349.3 494.0,349.0 497.4,349.0 500.8,347.5 504.2,349.0 507.6,348.1 511.0,346.6 514.4,347.4 517.8,347.4 521.2,348.1 524.6,348.3 528.0,346.4 531.4,348.2 534.8,347.3 538.2,346.3 541.6,348.0 545.0,346.3 548.4,345.8 551.8,347.6 555.2,347.6 558.6,345.9 562.0,347.4 565.4,347.2 568.8,345.5 572.2,347.8 575.6,345.5 579.0,345.4 582.4,342.5 585.8,345.1 589.2,343.5 592.6,344.2 596.0,341.6 599.4,344.0 602.8,343.9 606.2,343.8 609.6,338.4 613.0,341.3 616.4,340.4 619.8,336.3 623.2,337.6 626.6,337.1 630.0,337.2 633.4,333.3 636.8,332.6 640.2,330.1 643.6,327.9 647.0,324.0 650.4,321.8 653.8,318.0 657.2,311.0 660.6,307.8 664.0,299.7 667.4,293.8 670.8,289.1 674.2,281.5 677.6,275.6 681.0,272.0 684.4,270.0 687.8,269.5 691.2,270.7 694.6,275.2 698.0,280.4 701.4,287.6 704.8,295.1 708.2,302.7 711.6,306.7 715.0,309.6 718.4,315.2 721.8,319.1 725.2,323.1 728.6,325.3 732.0,329.1 735.4,333.2 738.8,334.5 742.2,336.6 745.6,339.1 749.0,339.9 752.4,342.5 755.8,341.9 759.2,344.1 762.6,344.1 766.0,346.0 769.4,343.9 772.8,344.1 776.2,345.8 779.6,344.3 783.0,344.8 786.4,345.9 789.8,346.5 793.2,345.3 796.6,347.5 800.0,347.5 803.4,348.3 806.8,349.0 810.2,349.1 813.6,350.8 817.0,350.6 820.4,350.3 823.8,351.0 827.2,352.3 830.6,352.3 834.0,353.1 837.4,352.1 840.8,352.6 844.2,354.8 847.6,353.1 851.0,355.1 854.4,354.5 857.8,353.5 861.2,352.8 864.6,355.0 868.0,354.0 871.4,354.2 874.8,353.5 878.2,356.7 881.6,355.9 885.0,356.3 888.4,357.2 891.8,357.6 895.2,357.9 898.6,358.6 902.0,357.8 905.4,355.5 908.8,358.8 912.2,358.5 915.6,358.1 919.0,359.7 922.4,356.7 925.8,355.2 929.2,359.6 932.6,358.5 936.0,356.5 939.4,357.7 942.8,358.7 946.2,356.9 949.6,358.7 953.0,360.3 956.4,359.8 959.8,358.7 963.2,359.4 966.6,358.6 970.0,360.1 973.4,360.1 976.8,359.9 980.2,359.9 983.6,363.5 987.0,362.1 990.4,361.3 993.8,362.3 997.2,364.6 1000.6,365.2 1004.0,363.3 1007.4,364.4 1010.8,365.4 1014.2,364.4 1017.6,363.8 1021.0,364.1 1024.4,365.2 1027.8,364.5 1031.2,364.1 1034.6,365.2 1038.0,366.5 1041.4,366.3 1044.8,365.5 1048.2,367.7 1051.6,365.2 1055.0,366.0 1058.4,364.9 1061.8,367.2 1065.2,366.5 1068.6,365.1 1072.0,366.1 1075.4,368.9 1078.8,367.9 1082.2,367.4 1085.6,368.2 1089.0,365.7 1092.4,366.5 1095.8,366.0 1099.2,366.5 1102.6,366.9"/>
<line x1="690" y1="228" x2="690" y2="834" stroke="#000" stroke-width="5.5" stroke-dasharray="32.7 22.2" stroke-dashoffset="28.8"/>
<rect x="339" y="226" width="767" height="610" fill="none" stroke="#000" stroke-width="4"/>
<line x1="466.8" y1="834" x2="466.8" y2="829.5" stroke="#000" stroke-width="4"/>
<line x1="466.8" y1="228" x2="466.8" y2="232.5" stroke="#000" stroke-width="4"/>
<line x1="594.7" y1="834" x2="594.7" y2="825" stroke="#000" stroke-width="4"/>
<line x1="594.7" y1="228" x2="594.7" y2="237" stroke="#000" stroke-width="4"/>
<line x1="722.5" y1="834" x2="722.5" y2="829.5" stroke="#000" stroke-width="4"/>
<line x1="722.5" y1="228" x2="722.5" y2="232.5" stroke="#000" stroke-width="4"/>
<line x1="850.3" y1="834" x2="850.3" y2="825" stroke="#000" stroke-width="4"/>
<line x1="850.3" y1="228" x2="850.3" y2="237" stroke="#000" stroke-width="4"/>
<line x1="978.2" y1="834" x2="978.2" y2="829.5" stroke="#000" stroke-width="4"/>
<line x1="978.2" y1="228" x2="978.2" y2="232.5" stroke="#000" stroke-width="4"/>
<text transform="translate(336.0,883.0) scale(1.0,1.04)" text-anchor="middle" style="font-family:'Liberation Sans',sans-serif;font-kerning:none;font-size:61px">3</text>
<text transform="translate(591.7,883.0) scale(1.0,1.04)" text-anchor="middle" style="font-family:'Liberation Sans',sans-serif;font-kerning:none;font-size:61px">4</text>
<text transform="translate(847.3,883.0) scale(1.0,1.04)" text-anchor="middle" style="font-family:'Liberation Sans',sans-serif;font-kerning:none;font-size:61px">5</text>
<text transform="translate(1103.0,883.0) scale(1.0,1.04)" text-anchor="middle" style="font-family:'Liberation Sans',sans-serif;font-kerning:none;font-size:61px">6</text>
<text transform="translate(648.0,918.5) scale(1.0,1.04)" style="font-family:'Liberation Sans',sans-serif;font-kerning:none;font-size:61px">2</text>
<text transform="translate(683.0,918.5) scale(1.15,1.04)" style="font-family:'Liberation Serif',serif;font-size:59px">θ</text>
<text transform="translate(729.6,918.5) scale(1.0,1.04)" style="font-family:'Liberation Sans',sans-serif;font-kerning:none;font-size:61px">(°)</text>
<rect x="1299" y="264" width="382" height="328" fill="#000"/>
<rect x="1276" y="241" width="381" height="327" fill="#fff" stroke="#000" stroke-width="2"/>
<line x1="1288" y1="299" x2="1479" y2="299" stroke="#000" stroke-width="8.4" stroke-linecap="round"/>
<line x1="1288" y1="404" x2="1479" y2="404" stroke="#00f" stroke-width="8.4" stroke-linecap="round"/>
<line x1="1288" y1="509" x2="1479" y2="509" stroke="#f00" stroke-width="8.4" stroke-linecap="round"/>
<text transform="translate(1495.0,329.3) scale(1.0,1.04)" style="font-family:'Liberation Sans',sans-serif;font-kerning:none;font-size:60.5px"><tspan style="font-weight:bold">2</tspan></text>
<text transform="translate(1495.0,434.0) scale(1.0,1.04)" style="font-family:'Liberation Sans',sans-serif;font-kerning:none;font-size:60.5px"><tspan style="font-weight:bold">2</tspan>-DiE</text>
<text transform="translate(1495.0,539.1) scale(1.0,1.04)" style="font-family:'Liberation Sans',sans-serif;font-kerning:none;font-size:60.5px"><tspan style="font-weight:bold">2</tspan>-DiA</text>
</svg>
</body></html>
